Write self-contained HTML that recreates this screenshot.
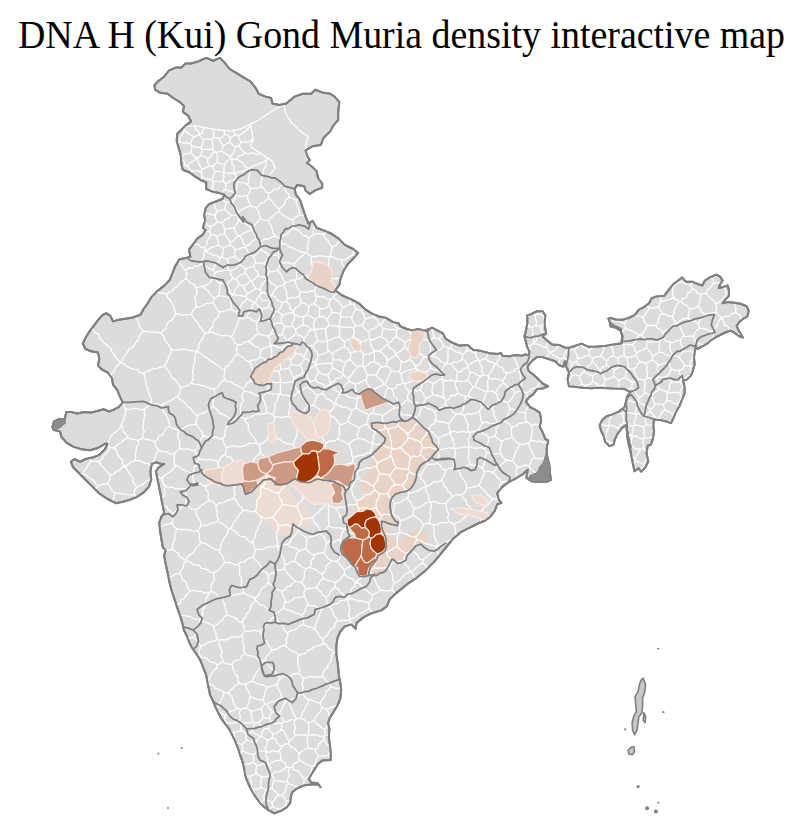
<!DOCTYPE html>
<html lang="en"><head><meta charset="utf-8"><title>DNA H (Kui) Gond Muria density interactive map</title>
<style>
html,body{margin:0;padding:0;background:#fff;}
body{width:797px;height:827px;overflow:hidden;position:relative;font-family:"Liberation Serif","Times New Roman",serif;}
h1{position:absolute;left:3px;top:12.4px;width:797px;margin:0;text-align:center;font-weight:normal;font-size:37.9px;line-height:43px;color:#000;white-space:nowrap;transform:scaleY(1.058);transform-origin:0 0;}
svg{position:absolute;left:0;top:0;}
</style></head><body>
<h1>DNA H (Kui) Gond Muria density interactive map</h1>
<svg width="797" height="827" viewBox="0 0 797 827">
<path d="M154.4 85.5 L157.9 81.4 L163.5 77.3 L169.0 70.4 L175.9 67.6 L181.4 67.6 L185.5 63.5 L191.1 63.5 L198.0 61.5 L206.2 57.9 L213.1 60.7 L220.0 57.9 L224.2 62.1 L229.7 69.0 L236.6 73.1 L243.5 77.3 L250.4 81.4 L255.9 88.3 L258.7 93.8 L265.6 96.6 L271.1 98.0 L272.5 103.5 L279.4 104.9 L286.3 103.5 L294.6 96.6 L302.8 93.8 L311.1 93.8 L315.3 89.7 L322.2 92.4 L330.4 93.8 L334.6 96.6 L339.3 102.1 L338.2 111.8 L338.2 120.0 L333.2 125.6 L330.4 131.1 L323.5 138.0 L320.8 144.9 L312.5 146.3 L305.6 150.4 L307.0 155.9 L309.7 160.1 L307.0 162.8 L312.5 167.0 L316.6 171.1 L318.0 178.0 L322.2 183.5 L322.2 187.7 L315.3 190.4 L309.7 194.0 L305.6 190.4 L304.2 186.3 L297.3 184.9 L294.6 189.0 L295.9 194.6 L300.1 200.1 L302.8 208.4 L305.6 216.6 L308.4 223.5 L312.5 220.8 L316.6 227.7 L323.5 230.4 L330.4 233.2 L338.7 238.7 L344.9 244.9 L353.1 249.0 L358.1 253.1 L353.1 258.7 L347.6 264.2 L343.5 271.1 L340.7 278.0 L339.3 284.9 L335.2 290.4 L340.7 294.5 L346.2 297.3 L353.1 300.1 L360.0 304.2 L365.6 309.7 L372.5 313.9 L379.4 316.6 L386.3 318.0 L393.2 322.1 L398.7 323.5 L400.1 326.3 L407.0 329.0 L412.5 330.4 L418.0 329.0 L423.5 330.4 L427.7 330.4 L431.8 327.7 L437.3 330.4 L442.8 333.2 L445.6 338.7 L452.5 342.8 L459.4 345.6 L467.7 345.1 L473.2 349.7 L481.5 351.1 L489.8 353.3 L498.1 353.9 L500.9 352.9 L502.3 355.7 L509.2 356.3 L516.2 355.1 L521.7 355.7 L525.9 354.3 L528.7 355.7 L529.5 351.5 L527.3 347.4 L525.9 341.8 L524.5 336.2 L525.9 330.7 L527.3 323.7 L527.3 315.4 L531.5 314.0 L537.0 311.2 L542.6 311.2 L545.4 315.4 L544.5 322.3 L545.4 329.3 L546.2 333.4 L542.6 336.2 L546.8 340.4 L552.3 344.6 L559.3 345.1 L564.8 347.4 L569.0 347.9 L574.6 346.0 L581.5 343.7 L588.5 346.8 L596.8 346.5 L605.2 346.0 L613.5 344.6 L621.9 343.2 L622.4 336.2 L620.5 330.7 L616.3 327.9 L610.7 326.5 L609.3 319.5 L608.4 318.5 L611.0 318.0 L616.0 319.8 L622.4 319.8 L628.7 318.0 L635.1 314.7 L638.9 309.6 L644.0 307.1 L649.0 303.3 L651.6 298.2 L656.6 296.4 L664.3 295.7 L668.1 290.6 L673.1 284.3 L678.2 280.5 L682.0 277.4 L685.8 281.7 L692.2 281.7 L698.5 284.3 L702.3 285.5 L704.9 280.5 L709.9 277.4 L716.3 274.6 L720.1 276.6 L722.6 280.5 L720.1 284.3 L718.8 288.1 L723.9 286.8 L727.7 285.5 L729.0 290.6 L729.0 295.7 L725.2 299.5 L722.6 303.3 L727.7 302.0 L734.1 302.8 L740.4 303.8 L746.7 306.3 L748.8 310.9 L747.3 316.5 L742.9 319.0 L739.1 322.3 L736.6 326.1 L739.1 331.2 L742.9 337.6 L739.1 336.3 L734.1 332.5 L730.2 330.7 L725.2 332.5 L720.1 335.0 L715.0 337.6 L711.2 340.1 L707.4 343.4 L702.3 346.4 L697.3 349.0 L695.5 346.4 L694.7 351.5 L694.0 357.9 L694.7 364.2 L692.9 370.6 L690.9 375.6 L687.1 379.4 L683.3 380.7 L684.6 387.1 L684.6 393.4 L682.0 399.7 L679.5 406.1 L675.7 412.4 L673.1 418.8 L671.1 423.1 L665.5 421.3 L660.5 420.1 L654.1 419.5 L653.3 425.1 L654.1 431.5 L652.8 439.1 L650.8 444.9 L647.8 445.4 L646.5 453.0 L647.8 459.9 L648.3 461.4 L645.5 467.0 L641.3 471.7 L638.6 468.4 L634.4 471.1 L633.0 464.2 L631.6 457.2 L630.2 450.3 L628.8 444.7 L627.4 437.8 L626.9 430.8 L626.0 425.2 L621.9 428.0 L617.7 433.6 L614.9 439.2 L613.5 444.7 L609.3 446.1 L605.2 441.9 L603.8 436.4 L601.0 430.8 L599.6 425.2 L602.4 419.7 L606.6 416.3 L613.5 414.1 L619.1 411.3 L624.6 407.2 L626.0 401.6 L627.4 396.0 L630.2 391.9 L624.6 389.1 L616.3 388.5 L608.0 388.2 L599.6 387.7 L591.3 388.2 L582.9 387.7 L576.0 386.9 L569.0 386.3 L567.6 379.3 L569.0 372.4 L566.2 366.8 L564.8 361.3 L563.4 366.8 L559.3 365.4 L555.1 361.3 L550.9 359.9 L546.8 358.5 L542.6 357.1 L537.0 357.1 L531.5 361.3 L527.3 366.8 L528.7 371.0 L534.2 375.2 L538.4 379.3 L542.6 383.5 L548.2 386.3 L542.6 388.5 L537.0 389.1 L532.9 394.6 L528.7 397.4 L525.9 401.6 L530.1 407.2 L535.6 409.9 L539.8 412.7 L541.2 419.7 L539.8 426.6 L542.6 432.2 L545.4 439.2 L548.2 440.5 L546.8 447.5 L546.8 454.5 L548.2 461.4 L549.5 469.7 L550.9 480.0 L545.6 482.1 L538.7 482.1 L531.8 481.3 L526.3 478.0 L527.7 469.7 L523.5 473.8 L516.6 478.0 L508.4 482.1 L501.5 487.6 L497.3 493.1 L498.7 500.0 L501.5 502.8 L497.3 504.2 L494.6 511.1 L490.4 516.6 L484.9 520.7 L478.0 523.5 L469.7 527.6 L461.4 531.8 L453.2 538.7 L446.3 547.0 L440.7 553.9 L433.8 562.1 L425.6 570.4 L417.3 577.3 L409.0 582.8 L402.1 588.4 L395.2 593.9 L389.7 599.4 L386.9 606.3 L381.4 610.4 L371.7 613.2 L363.5 617.4 L356.6 622.9 L355.6 628.8 L351.4 624.4 L344.5 626.6 L340.4 631.5 L337.6 637.6 L336.3 645.9 L336.3 654.2 L337.6 662.4 L338.5 670.7 L339.0 677.6 L340.4 683.1 L341.2 690.0 L340.4 698.3 L337.6 705.2 L333.5 712.1 L329.9 717.6 L328.0 723.2 L329.4 728.7 L328.8 737.0 L329.9 745.2 L330.7 752.1 L330.7 759.9 L322.5 760.4 L317.8 764.0 L315.0 768.7 L311.4 774.2 L308.7 778.9 L311.4 782.5 L317.8 783.3 L320.5 787.2 L318.3 784.4 L311.4 784.4 L304.5 785.3 L297.6 788.0 L292.1 792.2 L290.7 797.7 L290.2 803.2 L286.6 807.4 L281.1 810.9 L274.2 813.4 L268.6 810.1 L263.9 806.7 L259.7 802.5 L255.6 797.0 L251.4 790.1 L248.1 783.2 L245.9 777.7 L244.5 770.8 L243.2 763.9 L240.4 755.6 L237.6 747.3 L234.9 740.4 L232.1 734.9 L229.4 729.4 L225.2 723.9 L221.1 718.3 L218.3 712.8 L215.6 707.3 L212.8 700.4 L210.0 694.9 L208.7 688.0 L207.3 681.1 L205.9 674.2 L203.1 667.3 L200.4 660.4 L196.2 653.5 L192.1 648.0 L189.3 642.4 L186.6 635.5 L183.8 630.0 L182.4 623.1 L179.7 614.8 L176.9 606.6 L174.2 598.3 L171.4 590.0 L169.7 583.2 L167.5 572.2 L165.6 563.9 L164.2 555.6 L165.6 550.1 L162.8 547.3 L161.4 539.0 L160.1 530.8 L159.2 522.5 L161.4 517.0 L164.2 512.8 L162.8 505.9 L161.4 499.0 L160.1 492.1 L158.7 485.2 L157.3 478.3 L155.9 471.4 L158.7 467.3 L164.2 464.0 L161.4 464.0 L155.9 462.3 L151.8 464.0 L150.4 471.4 L151.2 479.7 L149.0 486.6 L143.5 492.7 L136.6 497.1 L129.7 499.9 L122.8 501.8 L115.9 503.2 L107.6 499.0 L99.3 493.5 L92.4 486.6 L85.5 479.7 L78.6 472.8 L73.1 467.3 L70.9 461.8 L74.5 459.0 L80.0 461.8 L85.5 459.0 L92.4 457.6 L99.3 454.9 L104.9 449.3 L107.6 443.8 L104.9 443.8 L98.0 448.0 L89.7 450.2 L81.4 449.3 L73.1 446.6 L66.2 442.4 L61.5 436.9 L59.9 431.4 L53.8 430.0 L52.4 427.3 L53.8 421.7 L59.3 419.0 L64.8 419.0 L66.2 412.1 L71.7 412.1 L77.3 413.5 L84.2 412.1 L91.1 412.6 L98.0 410.7 L103.5 409.3 L109.0 411.5 L113.1 409.9 L118.7 407.1 L122.8 402.4 L120.0 396.9 L117.3 390.0 L113.1 384.9 L111.8 378.0 L107.6 372.5 L102.1 369.7 L98.0 365.6 L99.3 358.7 L98.0 352.4 L91.1 351.3 L85.5 349.0 L82.8 343.5 L85.5 338.0 L89.7 331.1 L93.8 325.6 L98.0 320.1 L102.1 315.4 L106.2 313.2 L110.4 315.9 L113.1 321.4 L117.3 320.1 L125.6 318.7 L133.8 317.3 L140.7 314.5 L143.5 309.0 L147.6 303.5 L151.8 296.6 L157.3 291.1 L164.2 285.6 L169.7 280.0 L172.5 273.1 L175.2 266.2 L179.4 259.3 L186.3 258.0 L190.4 256.6 L189.0 249.7 L193.2 244.2 L197.3 238.6 L202.8 234.5 L205.6 230.4 L202.8 227.6 L205.1 220.7 L204.2 215.2 L205.6 208.3 L209.0 204.2 L215.9 201.5 L222.8 198.7 L224.2 194.6 L220.0 193.2 L213.1 191.8 L206.2 189.0 L206.2 182.1 L202.1 180.8 L195.2 176.6 L189.7 172.5 L182.8 169.7 L181.4 164.2 L180.9 155.9 L178.6 147.6 L176.7 140.7 L177.3 133.8 L181.4 129.7 L185.5 125.6 L191.1 121.4 L188.3 115.9 L182.8 111.8 L184.2 106.2 L180.0 102.1 L173.1 98.0 L167.6 93.8 L159.3 92.4 L155.2 89.7Z" fill="#dcdcdc" stroke="#808080" stroke-width="2" stroke-linejoin="round"/>
<path d="M372.9 422.6 L376.7 424.8 L381.2 424.1 L387.2 424.1 L393.2 424.8 L397.8 422.6 L401.5 422.6 L405.3 422.6 L409.8 421.1 L413.6 418.1 L417.3 420.3 L420.3 424.1 L424.1 427.9 L427.9 430.9 L429.4 436.1 L431.6 441.4 L435.4 444.4 L437.6 446.7 L435.4 451.2 L432.4 455.0 L429.4 458.0 L427.9 461.0 L424.1 463.2 L420.3 466.2 L418.8 470.8 L416.6 475.3 L415.8 479.8 L413.6 484.3 L412.1 488.1 L409.0 491.1 L404.5 492.6 L399.3 493.3 L396.2 494.9 L393.2 497.9 L390.2 500.1 L390.2 505.4 L391.0 511.4 L390.3 502.0 L390.3 508.1 L391.1 513.4 L392.9 517.8 L395.5 521.3 L398.2 522.2 L397.3 525.7 L393.8 524.8 L389.4 523.9 L385.9 522.2 L381.5 521.3 L380.6 525.7 L372.7 525.7 L363.9 522.2 L355.1 522.2 L351.6 516.0 L349.0 517.8 L352.5 515.1 L355.1 509.9 L353.4 504.6 L356.0 499.3 L354.8 506.1 L356.3 502.4 L360.1 499.4 L363.9 496.4 L362.4 490.3 L361.6 484.3 L362.4 478.3 L366.1 473.8 L369.1 469.3 L370.7 464.7 L371.4 460.2 L372.9 456.5 L375.2 452.7 L376.7 448.9 L379.7 445.2 L383.4 442.9 L385.0 438.4 L381.9 434.6 L376.7 432.4 L372.2 431.6 L372.2 427.9Z" fill="#e9d3c7"/>
<path d="M381.5 523.9 L385.9 526.5 L390.3 530.9 L392.9 536.2 L395.5 540.6 L401.7 541.5 L402.6 538.0 L407.8 533.6 L413.1 532.7 L417.5 529.2 L421.9 530.9 L426.3 532.7 L428.9 538.0 L428.0 544.1 L424.5 546.7 L420.1 544.1 L415.7 545.9 L412.2 548.5 L409.6 552.0 L406.1 555.5 L402.6 559.9 L398.2 561.7 L393.8 559.9 L391.1 557.3 L388.5 560.8 L386.7 566.1 L385.0 570.5 L379.7 573.1 L373.6 574.9 L369.2 575.7 L365.7 567.8 L369.2 557.3 L376.2 550.3 L379.7 539.7 L378.8 530.9Z" fill="#e9d3c7"/>
<path d="M257.9 485.9 L256.9 480.1 L263.3 477.4 L269.7 475.9 L275.6 478.0 L272.9 482.3 L273.9 485.9 L279.3 486.5 L285.7 485.0 L288.9 488.7 L292.1 494.0 L295.3 500.4 L301.7 504.7 L307.0 510.0 L311.9 515.3 L313.4 523.0 L309.1 526.4 L303.4 525.3 L297.8 526.4 L294.4 533.2 L286.5 535.6 L278.6 534.3 L272.9 528.8 L269.4 523.0 L262.8 520.9 L256.0 518.5 L254.7 513.2 L256.9 505.7 L255.8 498.3 L255.4 491.9Z" fill="#ecdcd4"/>
<path d="M195.3 125.6 L195.2 129.1 L198.6 131.2 L199.1 134.7 M183.7 127.4 L184.4 130.5 M199.1 134.7 L194.0 136.8 M184.4 130.5 L187.6 132.6 L190.7 134.9 L194.0 136.8 M223.8 130.4 L223.7 130.7 L224.8 134.1 M224.8 134.1 L227.9 135.5 L230.3 137.8 M233.9 130.4 L233.6 131.7 L235.7 134.6 M230.3 137.8 L235.7 134.6 M268.3 809.9 L269.1 808.9 L272.8 806.5 M272.8 806.5 L276.1 808.3 L279.6 809.4 M287.4 806.5 L285.9 805.4 M279.6 809.4 L282.8 807.6 L285.9 805.4 M262.8 805.6 L262.7 805.1 L261.4 801.7 M258.9 801.4 L261.4 801.7 M285.9 805.4 L286.4 801.0 M290.5 800.0 L289.9 800.2 L286.4 801.0 M741.6 320.1 L740.8 317.8 L739.7 314.7 M190.9 152.8 L186.1 153.6 L181.9 155.8 M190.9 152.8 L191.5 149.4 L192.0 146.0 M192.0 146.0 L190.7 144.2 M190.7 144.2 L187.4 142.7 L184.1 143.0 L180.8 142.2 L177.4 143.0 M181.9 155.8 L180.6 155.0 M177.4 143.1 L177.4 143.0 M196.3 158.2 L193.6 155.5 L190.9 152.8 M196.3 158.2 L193.8 161.2 L190.0 162.7 L187.5 165.6 M187.5 165.6 L184.9 165.1 M184.9 165.1 L184.3 161.9 L182.0 159.2 L181.9 155.8 M184.4 130.5 L182.8 133.7 L180.6 136.6 L179.9 140.3 L177.4 143.0 M194.0 136.8 L191.7 140.2 L190.7 144.2 M182.0 166.5 L184.9 165.1 M192.1 170.9 L190.5 173.1 M192.1 170.9 L196.6 170.8 L201.1 171.5 M201.1 171.5 L202.6 177.0 M202.6 177.0 L200.5 179.7 L200.5 179.8 M187.5 165.6 L189.0 169.0 L192.1 170.9 M272.8 806.5 L271.7 802.4 M281.6 795.2 L284.5 797.7 L286.4 801.0 M281.6 795.2 L278.7 794.8 M271.7 802.4 L274.6 800.3 L275.9 796.9 L278.7 794.8 M261.4 801.7 L264.3 799.8 M271.7 802.4 L268.2 800.5 L264.3 799.8 M241.3 141.7 L238.8 146.0 M241.3 141.7 L244.6 141.9 L248.0 142.2 L251.2 140.1 L252.9 140.2 M244.8 152.7 L241.3 149.7 L238.8 146.0 M244.8 152.7 L247.9 154.0 L251.2 152.6 L254.4 153.6 L257.5 154.5 L260.5 153.4 M166.6 294.6 L163.8 292.9 L160.2 293.5 L157.4 291.7 L156.9 291.5 M166.6 294.6 L169.1 292.0 L172.5 290.5 L174.9 287.8 L177.8 285.8 L180.0 282.9 L182.7 280.6 L185.8 278.7 M178.2 261.2 L179.5 262.7 L181.9 265.0 L183.0 268.3 L185.8 270.4 M185.8 278.7 L186.8 274.5 L185.8 270.4 M212.3 128.9 L213.9 130.9 L213.6 134.3 L213.6 137.6 M205.7 127.7 L203.9 128.7 L202.5 132.5 L199.3 134.8 M199.3 134.8 L203.5 139.4 M203.5 139.4 L207.7 138.9 L211.8 139.3 M213.6 137.6 L211.8 139.3 M224.8 134.1 L222.4 137.1 L218.7 138.4 M218.7 138.4 L213.6 137.6 M199.1 134.7 L199.3 134.8 M192.0 146.0 L196.5 147.0 L201.0 147.6 M201.0 147.6 L202.6 143.6 L203.5 139.4 M201.1 171.5 L202.3 169.5 M196.3 158.2 L197.5 158.2 M197.5 158.2 L198.4 162.2 L199.9 166.1 L202.3 169.5 M236.3 159.1 L232.0 159.1 M236.3 159.1 L239.6 161.0 L243.0 162.7 L244.9 166.5 L248.5 167.9 M232.0 159.1 L231.8 163.1 L234.0 166.5 L233.6 170.5 L235.6 174.0 M248.5 167.9 L245.6 170.2 L242.4 171.7 L238.5 171.8 L235.6 174.0 M235.5 174.1 L235.6 174.0 M235.5 174.1 L231.8 172.9 L227.7 173.5 L224.0 172.3 M231.0 158.5 L232.0 159.1 M231.0 158.5 L227.2 160.5 L224.9 164.1 M224.9 164.1 L223.8 168.1 L224.0 172.3 M230.5 157.3 L232.2 154.0 L234.6 150.9 L235.0 147.0 M230.5 157.3 L227.8 154.9 L224.7 153.1 L221.7 151.1 M223.4 145.7 L221.7 151.1 M223.4 145.7 L226.5 143.7 L229.9 142.3 M229.9 142.3 L232.6 144.4 L235.0 147.0 M231.0 158.5 L230.5 157.3 M244.8 152.7 L242.4 155.4 L238.5 156.2 L236.3 159.1 M238.8 146.0 L235.0 147.0 M218.7 138.4 L220.7 142.3 L223.4 145.7 M230.3 137.8 L229.9 142.3 M238.3 135.4 L235.7 134.6 M238.3 135.4 L238.9 138.9 L241.3 141.7 M319.5 785.9 L319.5 785.8 M281.6 795.2 L284.3 793.0 L285.9 790.1 L285.9 786.3 L288.5 784.0 M299.0 787.5 L297.7 786.8 L294.6 786.0 L291.6 784.7 L288.5 784.0 M740.2 333.0 L736.8 334.6 M679.2 282.1 L683.2 282.2 L686.7 284.4 L690.7 284.8 M679.2 282.1 L678.3 280.4 M690.7 284.8 L692.4 282.0 L692.5 281.8 M238.3 135.4 L241.5 134.3 L243.9 132.0 L246.6 130.3 L248.8 127.8 L250.6 125.2 M203.9 248.0 L200.7 247.2 L198.5 244.4 L194.9 244.3 L193.7 243.5 M205.0 249.8 L203.9 248.0 M205.1 250.1 L205.0 249.8 M201.3 263.9 L198.5 265.9 L194.8 265.8 L192.3 268.4 L188.4 268.0 L185.8 270.4 M205.1 250.1 L204.0 253.5 L203.7 257.2 L201.9 260.3 L201.3 263.9 M354.2 249.9 L353.4 251.4 L353.4 254.8 M355.5 256.1 L353.4 254.8 M166.6 294.6 L167.9 298.0 L170.7 300.5 L172.3 303.7 L173.8 306.9 L174.8 310.4 L175.9 313.8 M143.3 331.1 L141.1 328.6 L139.2 326.0 L138.2 322.9 L137.7 319.5 L134.9 317.4 L135.0 316.8 M143.3 331.1 L146.8 331.7 L150.3 332.2 L153.9 332.1 L157.4 332.1 L160.9 333.4 M160.9 333.4 L163.2 330.8 L166.1 328.5 L166.9 324.7 L168.7 321.6 L172.4 319.9 L173.9 316.6 L175.9 313.8 M195.6 287.0 L193.8 284.1 L190.4 283.2 L188.3 280.8 L185.8 278.7 M195.7 307.5 L192.8 310.6 L191.5 314.6 M195.7 307.5 L196.1 304.1 L195.5 300.7 L194.5 297.3 L196.8 293.8 L196.8 290.4 L195.6 287.0 M175.9 313.8 L179.8 314.3 L183.6 315.3 L187.6 314.7 L191.5 314.6 M143.3 331.1 L141.2 333.6 L139.3 336.2 L138.4 339.6 L136.3 342.0 L134.7 344.9 L132.5 347.3 L129.2 348.9 L127.6 351.7 L125.7 354.4 L123.9 357.0 L122.3 359.9 L120.6 362.6 M91.8 328.2 L93.3 330.2 L95.4 332.8 L98.8 334.2 L99.4 337.8 L101.6 340.2 L103.7 342.7 L106.4 344.7 L108.9 346.8 L111.1 349.2 L112.3 352.4 L114.6 354.7 L115.7 358.0 L118.2 360.1 L120.1 362.7 M120.1 362.7 L120.6 362.6 M120.1 362.7 L117.9 365.2 L115.3 367.4 L114.2 370.9 L112.1 373.5 L109.9 375.5 M673.3 418.3 L672.8 414.8 M677.4 409.6 L675.5 411.2 L672.8 414.8 M672.3 420.6 L670.0 422.2 L669.4 422.5 M672.8 414.8 L669.1 411.8 L664.8 409.7 M664.8 409.7 L662.1 412.0 L660.5 415.1 L659.1 418.3 M659.1 418.3 L660.5 420.1 M211.8 139.3 L212.3 142.7 L213.1 146.1 L212.6 149.6 M201.0 147.6 L202.0 149.4 M212.6 149.6 L209.1 149.1 L205.5 149.3 L202.0 149.4 M197.5 158.2 L200.7 155.7 M202.0 149.4 L201.5 152.6 L200.7 155.7 M235.8 179.5 L237.6 181.5 M237.6 181.5 L240.9 182.6 L244.4 182.9 L247.7 184.3 M248.5 167.9 L250.8 168.0 M235.5 174.1 L235.8 179.5 M247.7 184.3 L248.8 181.1 L248.6 177.7 L249.5 174.5 L249.7 171.1 L250.8 168.0 M267.7 158.2 L266.6 159.5 M266.6 159.5 L263.8 161.9 L260.4 163.1 L257.1 164.6 L253.4 165.3 L250.8 168.0 M222.7 180.8 L219.7 182.0 L216.3 181.0 L213.2 182.0 M222.7 180.8 L224.0 176.8 L223.5 172.7 M223.5 172.7 L219.4 171.5 L215.2 171.6 M215.2 171.6 L213.5 175.6 L211.8 179.6 M213.2 182.0 L211.8 179.6 M225.9 184.2 L228.7 181.7 L232.1 180.2 L235.8 179.5 M225.9 184.2 L222.7 180.8 M224.0 172.3 L223.5 172.7 M212.2 188.8 L208.8 189.6 L208.1 189.8 M202.6 177.0 L207.0 179.0 L211.8 179.6 M212.2 188.8 L213.1 185.5 L213.2 182.0 M225.9 184.2 L225.5 189.3 M237.6 181.5 L237.4 185.7 L236.2 189.6 L234.8 193.5 M225.5 189.3 L228.5 191.0 L232.0 191.4 L234.8 193.5 M212.2 188.8 L215.4 191.9 L215.9 192.4 M225.5 189.3 L221.9 192.0 L220.5 193.4 M74.2 446.9 L74.3 446.8 M79.9 474.1 L82.5 473.5 M89.3 458.2 L89.5 458.7 L91.0 461.6 M82.5 473.5 L84.6 470.5 L86.8 467.6 L88.4 464.3 L91.0 461.6 M109.8 447.3 L107.7 444.5 L107.5 444.3 M109.8 447.3 L108.3 450.6 L106.3 453.6 L103.5 455.8 L101.9 459.1 L99.0 461.4 M91.0 461.6 L95.0 461.3 L99.0 461.4 M658.7 296.2 L660.5 298.1 L660.6 301.5 M671.2 286.7 L672.5 287.2 M660.6 301.5 L663.9 300.6 L667.3 299.8 L670.6 298.8 L674.0 297.9 M672.5 287.2 L672.7 290.8 L672.4 294.5 L674.0 297.9 M739.7 314.7 L735.4 312.8 M735.4 312.8 L735.9 308.6 L734.5 304.6 L734.5 302.9 M655.4 325.2 L658.1 322.9 L658.4 319.1 L659.6 315.8 L662.3 313.5 M658.5 306.9 L660.4 310.2 L662.3 313.5 M658.5 306.9 L654.0 308.0 L649.4 307.7 M647.1 325.4 L644.5 322.0 L643.2 318.0 M647.1 325.4 L651.2 325.5 L655.4 325.2 M649.4 307.7 L647.5 311.2 L645.1 314.5 L643.2 318.0 M655.4 325.2 L657.5 328.4 L661.4 329.9 L663.2 333.5 M663.2 333.5 L665.3 330.6 L668.8 329.5 L670.8 326.5 L673.6 324.6 L676.7 322.9 M662.3 313.5 L665.7 314.3 L668.8 316.3 L672.4 316.2 M672.4 316.2 L673.7 320.1 L676.7 322.9 M674.0 297.9 L676.8 299.6 L679.3 301.8 M658.5 306.9 L660.6 301.5 M672.4 316.2 L674.0 313.5 L674.2 310.0 L675.9 307.3 L677.2 304.3 L679.3 301.8 M692.4 289.2 L690.7 284.8 M692.4 289.2 L690.5 292.1 L687.1 293.6 L686.4 297.5 L682.7 298.8 L680.9 301.7 M679.2 282.1 L675.8 284.6 L672.5 287.2 M680.9 301.7 L679.3 301.8 M201.3 263.9 L204.3 265.3 L207.0 267.3 L209.9 268.9 L213.1 270.0 M205.1 250.1 L207.6 252.5 L210.8 253.5 L213.5 255.6 L217.1 255.7 L219.8 257.7 M219.8 257.7 L219.1 261.3 L216.5 263.8 L214.2 266.6 L213.1 270.0 M203.4 286.2 L206.7 284.8 L209.6 282.8 L211.8 280.0 L214.3 277.6 M214.3 277.6 L214.7 272.8 M195.6 287.0 L199.6 287.1 L203.4 286.2 M213.1 270.0 L214.7 272.8 M353.4 254.8 L349.5 256.5 L346.1 259.2 L342.0 260.3 M342.0 260.3 L342.2 263.8 L344.2 266.7 L344.7 269.0 M355.7 301.6 L355.5 302.0 L353.7 304.8 M348.7 298.3 L349.9 300.6 L350.7 303.8 M353.7 304.8 L350.7 303.8 M203.9 248.0 L206.5 245.1 L207.0 241.0 L209.1 237.8 L211.1 234.5 M204.8 231.6 L206.2 231.7 L209.7 231.4 M211.1 234.5 L209.7 231.4 M274.9 236.1 L273.4 233.1 L272.2 230.1 L271.5 226.7 L269.8 223.8 L268.5 220.7 M274.9 236.1 L280.5 238.8 M268.5 220.7 L270.7 217.8 L273.4 215.6 L276.0 213.1 L279.5 211.7 M293.0 219.9 L289.0 218.9 L285.7 216.7 L282.3 214.6 L279.5 211.7 M293.0 219.9 L293.2 224.0 L292.4 227.9 M280.5 238.8 L282.5 236.3 L285.7 235.0 L288.0 232.7 L290.5 230.6 L292.4 227.9 M160.9 333.4 L163.4 335.6 L164.3 338.9 L165.9 341.7 L168.4 343.9 L169.6 347.0 L171.7 349.4 M171.7 349.4 L175.2 350.4 L178.7 349.8 L182.3 349.4 L185.8 349.3 L189.2 350.4 L192.7 350.9 L196.2 350.8 M191.5 314.6 L193.4 317.3 L195.0 320.3 L197.7 322.6 L199.0 325.8 L201.2 328.3 L203.3 331.0 L206.1 333.1 M196.2 350.8 L198.8 348.3 L199.0 344.6 L200.2 341.4 L202.5 338.8 L203.6 335.5 L206.1 333.1 M196.2 350.8 L196.5 351.4 M196.5 351.4 L195.4 354.8 L194.5 358.2 L195.2 361.9 L193.3 365.2 L193.6 368.8 L192.5 372.2 L193.3 375.9 L193.0 379.4 L191.4 382.8 M171.7 349.4 L171.0 353.0 L169.1 356.1 L168.0 359.6 L166.5 362.8 L164.2 365.7 M191.4 382.8 L188.2 385.3 L184.4 386.5 L180.8 388.3 M164.2 365.7 L166.5 368.4 L168.7 371.1 L170.4 374.2 L172.0 377.4 L175.0 379.5 L177.2 382.3 L179.2 385.2 L180.8 388.3 M120.6 362.6 L124.0 363.7 L126.7 366.4 L130.0 367.8 L133.4 369.1 L137.2 369.6 L139.8 372.5 L143.4 373.3 M164.2 365.7 L160.8 367.1 L157.3 368.4 L153.5 368.7 L150.2 370.5 L146.6 371.4 L143.4 373.3 M197.9 415.6 L200.8 413.5 L204.5 412.8 L207.3 410.5 L210.2 408.5 L213.3 406.8 M214.2 389.0 L214.6 392.6 L214.6 396.2 L213.7 399.7 L212.8 403.2 L213.3 406.8 M191.4 382.8 L194.5 384.4 L197.9 384.7 L201.2 385.3 L204.5 386.0 L207.6 387.5 L210.9 388.6 L214.2 389.0 M197.9 415.6 L194.7 413.8 L192.4 411.1 L190.5 408.1 L187.4 406.2 L185.5 403.0 L182.5 401.1 L179.6 399.0 L177.4 396.1 M180.8 388.3 L179.9 392.6 L177.4 396.1 M143.4 373.3 L144.9 376.3 L144.9 379.6 L146.1 382.6 L146.2 385.9 L147.9 388.8 L148.5 392.0 L149.3 395.1 L151.2 397.9 L151.2 401.3 L152.3 404.3 M177.4 396.1 L174.3 398.1 L171.3 400.4 L168.0 402.2 L164.4 403.5 L161.4 405.7 M161.4 405.7 L157.0 404.1 L152.3 404.3 M667.5 393.3 L666.6 396.9 L667.0 400.5 M667.5 393.3 L671.6 392.5 L675.7 392.2 L679.8 393.1 M667.0 400.5 L670.6 401.1 L673.7 403.4 L677.3 404.0 M677.3 404.0 L679.7 400.7 L681.4 397.0 M681.4 397.0 L679.8 393.1 M678.7 407.5 L677.3 404.0 M663.4 404.7 L667.0 400.5 M664.8 409.7 L663.4 404.7 M682.9 397.6 L681.4 397.0 M655.5 403.8 L659.5 403.9 L663.4 404.7 M659.1 418.3 L657.4 418.5 M655.5 403.8 L653.7 407.2 L650.3 409.0 M650.3 409.0 L650.1 411.3 M657.4 418.5 L654.5 416.6 L652.5 413.8 L650.1 411.3 M207.8 158.7 L210.8 157.1 L211.9 153.6 L214.7 151.9 M207.8 158.7 L207.6 162.6 L209.5 166.0 M217.2 162.5 L214.7 164.5 L212.3 166.7 M217.2 162.5 L217.3 159.1 L217.2 155.8 L216.6 152.4 M216.6 152.4 L214.7 151.9 M209.5 166.0 L212.3 166.7 M200.7 155.7 L204.5 156.4 L207.8 158.7 M212.6 149.6 L214.7 151.9 M202.3 169.5 L205.8 167.6 L209.5 166.0 M224.9 164.1 L220.9 163.8 L217.2 162.5 M215.2 171.6 L212.3 166.7 M221.7 151.1 L216.6 152.4 M579.9 344.6 L582.9 346.6 L586.2 348.2 L589.0 350.7 M579.9 344.6 L579.9 344.2 M589.0 350.7 L591.7 348.1 L592.5 346.7 M589.0 350.7 L589.4 354.9 M574.2 349.8 L577.0 347.1 L579.9 344.6 M574.2 349.8 L576.5 354.0 L577.8 358.5 M589.4 354.9 L585.5 356.0 L581.9 358.0 L577.8 358.5 M600.2 356.1 L596.3 357.1 L592.3 358.2 M603.9 347.6 L602.9 352.2 L600.2 356.1 M603.9 347.6 L600.8 346.3 L600.7 346.3 M589.4 354.9 L592.3 358.2 M598.7 386.0 L596.0 383.2 L592.5 381.7 M598.7 386.0 L598.3 387.8 M592.5 381.7 L589.5 384.3 L585.7 385.3 M586.7 387.9 L585.7 385.3 M542.5 311.2 L541.1 313.9 M533.3 313.1 L533.5 313.6 M541.1 313.9 L535.2 314.5 M533.5 313.6 L535.2 314.5 M655.5 403.8 L653.2 401.3 L652.6 398.0 L651.6 394.9 M667.0 392.3 L667.5 393.3 M667.0 392.3 L663.2 390.3 L659.2 388.9 M659.2 388.9 L656.8 390.9 L654.3 393.1 L651.6 394.9 M694.3 365.5 L693.8 365.6 L690.5 366.4 M690.5 366.4 L690.7 370.9 L691.3 374.5 M679.8 393.1 L681.2 389.9 L682.6 386.6 M684.6 387.2 L682.6 386.6 M670.7 342.3 L674.1 342.6 L676.9 340.3 L680.2 340.2 M670.7 342.3 L669.8 346.0 L670.1 349.6 L671.8 353.2 L671.5 356.9 M677.9 356.6 L674.7 355.8 L671.5 356.9 M677.9 356.6 L680.8 354.4 L682.8 351.4 M680.2 340.2 L681.0 343.9 L682.5 347.5 L682.8 351.4 M714.8 337.7 L713.8 336.7 M729.9 330.8 L729.6 330.4 L728.3 326.9 L724.7 324.9 L723.7 321.3 L721.7 318.3 M713.8 336.7 L712.0 331.3 M712.0 331.3 L714.3 328.9 L716.5 326.6 L717.8 323.5 L719.1 320.3 L721.7 318.3 M735.4 312.8 L731.8 313.6 L729.0 316.5 L725.0 316.3 L721.8 318.1 M721.7 318.3 L721.8 318.1 M727.3 297.4 L725.6 296.6 M725.6 296.6 L726.2 293.2 L724.9 290.1 L724.3 287.0 L724.2 286.7 M709.7 277.5 L713.0 279.3 L713.8 283.0 M721.1 282.8 L720.5 282.6 L717.1 282.8 L713.8 283.0 M624.6 323.2 L621.3 322.2 L617.9 321.1 L614.3 321.2 L611.0 319.9 M624.6 323.2 L626.5 320.4 L627.5 318.4 M611.0 319.9 L610.1 318.2 M643.2 318.0 L640.1 316.2 L636.5 315.7 L634.4 315.0 M649.4 307.7 L646.3 306.1 L645.9 305.7 M677.3 323.1 L680.5 320.5 L684.1 318.7 L688.2 318.1 M677.3 323.1 L679.7 325.9 L681.1 329.2 L682.7 332.4 L683.8 335.8 M688.2 318.1 L691.5 320.4 L695.4 321.8 L698.6 324.2 M683.8 335.8 L687.0 336.6 L690.3 335.8 L693.4 336.6 M693.4 336.6 L694.6 333.1 L697.0 330.6 L699.5 328.1 M698.6 324.2 L699.5 328.1 M689.6 309.1 L688.7 313.6 L688.2 318.1 M689.6 309.1 L687.5 305.8 L683.9 304.1 L680.9 301.7 M676.7 322.9 L677.3 323.1 M663.2 338.3 L663.2 333.5 M663.2 338.3 L666.4 341.2 L670.7 342.3 M680.2 340.2 L683.8 335.8 M541.1 313.9 L544.1 316.5 M544.1 316.5 L545.3 316.1 M609.5 320.7 L611.0 319.9 M540.3 326.4 L542.0 332.5 M540.3 326.4 L536.0 325.6 M531.6 327.5 L536.0 325.6 M531.6 327.5 L532.8 331.1 L532.8 335.0 L533.8 338.6 L533.9 342.5 M533.9 342.5 L536.4 340.3 L537.6 337.1 L540.0 335.0 L542.0 332.5 M544.1 316.5 L543.7 320.5 L543.2 324.5 M543.2 324.5 L540.3 326.4 M535.2 314.5 L535.5 318.2 L536.6 321.8 L536.0 325.6 M533.5 313.6 L530.9 314.2 M530.0 314.5 L527.7 317.0 L527.3 317.1 M527.3 321.9 L527.9 324.1 L529.7 326.9 M529.7 326.9 L531.6 327.5 M339.0 293.2 L338.1 293.3 L334.5 294.8 M340.9 277.6 L339.5 278.2 L335.7 279.0 L331.7 278.2 L328.1 279.4 M328.1 279.4 L330.4 282.1 L329.6 286.0 L331.0 289.1 L332.2 292.2 L334.5 294.8 M342.9 307.1 L347.0 305.8 L350.7 303.8 M342.9 307.1 L340.7 304.5 L338.9 301.5 L335.7 299.9 L333.4 297.4 M333.4 297.4 L334.5 294.8 M245.6 269.4 L249.5 267.3 L253.7 266.0 M253.7 266.0 L254.7 269.3 L257.6 271.8 L258.1 275.3 M250.6 280.7 L251.7 281.0 M245.1 272.6 L247.2 275.1 L248.8 278.0 L250.6 280.7 M245.1 272.6 L245.6 269.4 M251.7 281.0 L255.3 278.6 L258.1 275.3 M247.7 184.3 L250.5 188.4 M266.6 159.5 L266.2 162.9 L265.6 166.4 L263.5 169.4 L263.3 172.9 L262.4 176.3 L261.5 179.6 L260.4 182.9 L260.8 186.6 M250.5 188.4 L254.0 188.3 L257.6 188.3 L260.8 186.6 M279.3 209.1 L276.3 206.5 L273.7 203.4 L271.3 200.3 L268.2 197.7 M279.3 209.1 L282.0 206.5 L284.7 203.8 L285.6 199.7 L288.8 197.4 M283.9 185.2 L284.5 187.9 L285.6 191.2 L288.5 193.8 L288.8 197.4 M283.3 184.7 L280.4 185.9 L278.2 189.1 L274.2 189.2 L271.7 191.9 L268.6 193.5 M268.6 193.5 L268.2 197.7 M260.8 186.6 L263.8 188.4 L265.7 191.5 L268.6 193.5 M223.6 248.3 L226.9 246.4 L230.1 244.6 M223.6 248.3 L218.3 245.1 M218.3 245.1 L218.0 240.9 L217.0 236.8 M230.5 242.0 L230.1 244.6 M230.5 242.0 L228.1 239.5 L226.5 236.4 L224.1 233.8 M217.0 236.8 L220.2 234.4 L224.1 233.8 M205.0 249.8 L208.6 249.5 L211.5 247.0 L215.0 246.5 L218.3 245.1 M219.8 257.7 L221.9 256.7 M221.9 256.7 L222.9 252.5 L223.6 248.3 M211.1 234.5 L214.4 234.7 L217.0 236.8 M226.8 259.5 L230.8 257.2 L235.3 256.9 M226.8 259.5 L228.4 262.9 L227.2 266.8 L228.7 270.1 M230.2 270.9 L228.7 270.1 M230.2 270.9 L234.0 269.7 L237.1 267.4 L239.8 264.6 M235.3 256.9 L239.3 260.8 M239.8 264.6 L239.3 260.8 M235.5 249.5 L232.6 247.2 L230.1 244.6 M235.5 249.5 L234.6 253.2 L235.3 256.9 M221.9 256.7 L226.8 259.5 M214.7 272.8 L218.0 271.3 L221.6 270.9 L225.1 270.3 L228.7 270.1 M220.2 283.5 L216.6 281.2 L214.3 277.6 M220.2 283.5 L223.4 283.1 L226.6 283.8 M233.2 278.1 L229.8 280.9 L226.6 283.8 M233.2 278.1 L230.8 274.9 L230.2 270.9 M236.3 279.3 L233.2 278.1 M245.1 272.6 L242.0 274.5 L238.7 276.3 L236.3 279.3 M245.6 269.4 L242.9 266.7 L239.8 264.6 M248.9 254.3 L253.1 256.5 M248.9 254.3 L247.4 250.6 L245.7 247.1 M253.1 256.5 L256.0 254.6 L258.4 252.1 L261.1 250.0 M246.1 246.1 L245.7 247.1 M246.1 246.1 L250.0 244.4 L252.7 240.9 L256.4 238.9 M261.1 250.0 L262.2 245.6 L261.0 241.3 M256.4 238.9 L261.0 241.3 M255.0 263.7 L255.0 259.8 L253.1 256.5 M253.7 266.0 L255.0 263.7 M239.3 260.8 L242.1 257.9 L246.2 257.2 L248.9 254.3 M235.5 249.5 L239.0 249.1 L242.3 247.6 L245.7 247.1 M261.1 250.0 L264.1 251.6 L267.0 253.3 L269.0 256.1 M255.0 263.7 L259.6 262.6 L264.1 263.8 M264.1 263.8 L266.3 259.8 L269.0 256.1 M258.1 275.3 L261.8 277.0 L265.9 277.0 M265.9 277.0 L269.2 272.2 M264.1 263.8 L266.8 266.0 L268.0 269.1 L269.2 272.2 M294.8 264.0 L291.4 263.9 L288.2 262.3 L284.6 263.1 L281.3 262.2 M294.8 264.0 L296.6 260.7 L299.1 257.9 L302.5 255.9 L304.8 252.9 M304.8 252.9 L301.4 252.0 L298.1 250.6 L294.9 249.2 L291.7 247.6 L288.4 246.3 L285.6 244.0 L281.9 243.7 M281.3 262.2 L279.2 258.7 L278.0 254.7 M281.9 243.7 L280.2 247.3 L278.3 250.7 L278.0 254.7 M269.2 272.2 L273.6 271.4 L278.0 270.2 M278.0 270.2 L279.4 266.1 L281.3 262.2 M269.0 256.1 L273.5 255.3 L278.0 254.7 M274.9 236.1 L271.4 237.2 L268.1 239.0 L264.1 239.0 L261.0 241.3 M280.5 238.8 L281.9 243.7 M311.9 256.6 L315.6 256.5 L319.2 255.8 L322.9 255.8 L326.6 256.8 L330.3 256.3 M311.9 256.6 L308.9 254.7 L306.1 252.5 M306.1 252.5 L308.0 249.2 L307.2 245.4 L308.4 242.0 L308.8 238.4 M332.4 246.8 L331.1 251.4 L330.5 256.2 M332.4 246.8 L329.8 244.0 L328.0 240.6 L325.0 238.2 L323.4 234.7 M323.4 234.7 L318.8 233.5 L314.1 234.2 M330.5 256.2 L330.3 256.3 M314.1 234.2 L311.3 236.1 L308.8 238.4 M304.8 252.9 L306.1 252.5 M292.4 227.9 L295.4 229.2 L298.3 230.7 L301.0 232.5 L302.9 235.5 L306.5 236.0 L308.8 238.4 M340.4 240.4 L339.9 240.7 L337.7 243.2 L335.6 245.9 L332.4 246.8 M342.0 260.3 L338.1 259.2 L334.2 257.9 L330.5 256.2 M326.5 231.6 L325.7 232.1 L323.4 234.7 M327.6 279.2 L328.1 279.4 M327.6 279.2 L327.1 275.8 L327.8 272.6 L329.9 269.5 L328.3 266.0 L328.8 262.8 L328.9 259.5 L330.3 256.3 M299.2 198.9 L296.2 200.1 M296.2 200.1 L296.4 203.9 L298.2 207.4 L299.3 211.0 L299.5 214.9 M299.5 214.9 L302.7 215.7 L305.1 215.0 M288.8 197.4 L292.7 198.3 L296.2 200.1 M307.0 190.1 L307.0 191.6 M279.5 211.7 L279.3 209.1 M293.0 219.9 L295.7 216.8 L299.5 214.9 M314.1 234.2 L313.1 231.0 L314.7 227.5 L313.9 224.3 L312.0 221.2 M125.6 409.2 L127.0 409.4 L130.5 409.5 L134.1 408.1 L137.6 408.7 L141.1 410.0 L144.6 408.9 M121.5 424.4 L122.1 426.0 L122.7 429.5 L124.2 432.5 L126.8 434.9 L127.9 438.0 M144.6 408.9 L144.1 412.2 L145.1 415.5 L143.8 418.6 L143.6 421.9 L143.5 425.1 L142.6 428.3 L144.4 431.7 L142.5 434.8 L143.0 438.1 M127.9 438.0 L131.4 438.9 L134.8 439.7 L138.3 440.3 M138.3 440.3 L143.0 438.1 M152.3 404.3 L148.0 405.9 L144.6 408.9 M113.7 448.0 L116.4 445.8 L119.1 443.6 L122.1 441.8 L124.5 439.2 L127.9 438.0 M109.8 447.3 L113.7 448.0 M169.8 426.2 L166.4 428.0 L164.6 431.3 L162.7 434.6 L158.9 436.1 L157.5 439.8 L154.4 441.9 M169.8 426.2 L169.1 422.5 L168.1 419.0 L166.2 415.7 L164.1 412.6 L162.6 409.2 L161.4 405.7 M154.4 441.9 L150.7 440.2 L146.8 439.3 L143.0 438.1 M158.8 450.1 L156.5 452.8 L155.4 456.1 L154.4 459.5 L152.9 462.6 L151.9 463.9 M151.8 464.2 L150.9 465.5 M158.8 450.1 L156.0 446.3 L154.4 441.9 M135.1 460.7 L138.6 460.6 L141.7 461.7 L144.7 463.1 L148.1 463.4 L150.9 465.5 M135.1 460.7 L135.7 457.3 L135.2 453.8 L136.1 450.4 L136.5 447.0 L138.3 443.8 L138.3 440.3 M197.9 415.6 L196.2 419.7 L195.8 424.1 M169.8 426.2 L173.8 428.7 L178.2 430.3 M195.8 424.1 L192.0 424.6 L188.4 425.5 L185.0 427.0 L181.9 429.5 L178.2 430.3 M364.9 309.1 L364.5 309.7 L361.1 310.5 M353.7 304.8 L356.0 308.8 M361.1 310.5 L356.0 308.8 M650.3 409.0 L647.3 406.8 L644.1 404.9 L640.8 403.2 L637.6 401.3 M650.1 411.3 L645.4 415.6 M635.7 414.0 L639.0 413.8 L642.1 415.0 L645.4 415.6 M635.7 414.0 L635.8 409.7 L636.8 405.6 L637.5 401.3 M637.6 401.3 L637.5 401.3 M651.6 394.9 L648.2 394.2 L644.9 393.1 M644.9 393.1 L642.4 395.8 L639.2 397.4 M637.6 401.3 L639.2 397.4 M635.7 414.0 L635.6 414.1 M635.6 414.1 L631.8 413.3 L627.9 412.7 L624.0 412.7 M624.0 412.7 L624.9 408.9 L626.4 405.3 L626.1 401.3 M637.5 401.3 L633.7 402.2 L629.9 400.8 L626.1 401.3 M616.6 412.5 L616.8 413.0 M624.0 412.7 L622.3 414.0 M616.8 413.0 L622.3 414.0 M626.1 401.3 L626.1 401.3 M616.8 413.0 L613.7 414.7 L611.0 416.9 M609.1 415.5 L611.0 416.9 M209.7 231.4 L210.9 226.8 M204.9 221.3 L205.6 221.6 L207.5 225.2 L210.9 226.8 M125.5 466.5 L125.7 466.5 M125.5 466.5 L121.9 467.2 L119.6 470.2 L116.3 471.6 L113.7 474.0 L110.3 475.1 M125.7 466.5 L127.0 469.6 L128.8 472.5 L130.4 475.4 L133.0 477.8 L132.9 481.6 L135.0 484.4 L136.7 487.3 M114.9 493.2 L118.1 493.1 L121.3 493.9 L124.6 493.9 L127.8 494.6 L131.0 494.8 L134.3 494.4 M114.9 493.2 L112.0 490.4 L110.2 486.8 L107.2 484.1 M134.3 494.4 L134.4 490.5 L136.7 487.3 M110.3 475.1 L109.5 479.9 L107.2 484.1 M135.1 460.7 L131.5 461.8 L128.3 463.7 L125.7 466.5 M113.7 448.0 L116.7 450.5 L117.1 454.5 L119.7 457.2 L122.3 459.9 L122.6 464.0 L125.5 466.5 M99.0 461.4 L100.6 464.7 L103.1 467.2 L105.5 469.9 L107.7 472.7 L110.3 475.1 M150.9 465.5 L151.4 466.2 M151.2 479.4 L149.1 480.0 L145.8 481.5 L143.1 483.9 L140.1 485.9 L136.7 487.3 M99.1 485.8 L102.9 483.8 L107.2 484.1 M99.1 485.8 L96.0 484.3 L94.1 481.0 L91.4 478.8 L88.4 477.2 L85.8 474.8 L82.5 473.5 M172.6 548.9 L172.4 545.3 L173.4 542.1 L175.3 538.9 L174.6 535.3 L175.9 532.1 L176.5 528.7 M172.6 548.9 L169.6 550.4 L166.3 550.4 L165.4 550.7 M159.7 527.0 L160.0 527.0 L163.0 525.5 L166.0 524.5 L169.2 523.8 L172.3 523.0 M176.5 528.7 L173.7 526.4 L172.3 523.0 M168.4 576.8 L170.6 577.2 L173.3 575.1 L176.2 573.8 L179.6 573.7 M179.6 573.7 L180.9 570.3 L183.3 567.4 L183.8 563.7 L185.8 560.6 M185.8 560.6 L185.7 560.3 M185.7 560.3 L182.7 558.5 L179.8 556.5 L178.1 553.2 L175.2 551.2 L172.6 548.9 M111.8 501.1 L113.3 499.5 L114.2 496.4 L114.9 493.2 M136.6 497.1 L134.3 494.4 M200.6 542.5 L203.9 543.2 L207.1 544.3 L209.9 546.4 L212.8 548.2 L215.9 549.6 L219.4 549.9 M200.6 542.5 L198.8 538.9 L199.8 534.5 L197.8 530.9 M197.8 530.9 L200.6 526.7 M200.6 526.7 L203.7 524.8 L207.6 525.6 L210.6 523.2 L214.1 522.8 L217.4 521.5 M219.4 549.9 L220.6 546.8 L221.3 543.5 L223.1 540.6 L224.1 537.5 L226.8 535.0 L227.7 531.8 L228.7 528.6 M228.7 528.6 L225.9 526.8 L223.4 524.5 L220.6 522.7 L217.4 521.5 M185.8 560.6 L189.1 561.7 L192.1 563.5 L195.0 565.3 L199.0 564.9 L201.3 568.4 L204.9 568.7 L208.0 570.2 L210.8 572.4 L214.4 572.8 M185.7 560.3 L187.2 557.2 L189.8 555.1 L192.6 553.1 L194.9 550.7 L196.1 547.4 L198.7 545.3 L200.6 542.5 M214.4 572.8 L217.3 570.7 L220.1 568.4 L222.1 565.3 L224.6 562.8 M224.6 562.8 L223.9 559.3 L222.5 556.1 L220.3 553.3 L219.4 549.9 M176.5 528.7 L180.0 529.5 L183.6 529.7 L187.2 529.6 L190.7 530.0 L194.1 531.5 L197.8 530.9 M316.5 766.2 L315.0 765.0 M330.7 757.3 L328.2 755.8 M315.0 765.0 L316.2 760.4 L318.7 756.4 M328.2 755.8 L323.4 755.9 L318.7 756.4 M233.5 498.3 L236.6 500.8 L237.8 504.8 L241.1 507.2 L243.2 510.5 M216.4 505.1 L219.5 502.8 L223.3 502.6 L226.5 500.7 L230.0 499.5 L233.5 498.3 M216.4 505.1 L215.9 508.4 L217.7 511.6 L216.5 515.0 L218.1 518.2 L217.4 521.5 M228.7 528.6 L229.8 528.4 M229.8 528.4 L232.5 525.8 L233.9 522.2 L236.3 519.3 L238.5 516.3 L240.4 513.0 L243.2 510.5 M272.3 517.6 L275.8 520.5 L278.0 524.4 M272.3 517.6 L268.9 517.5 L265.4 518.6 L261.9 517.3 M278.0 524.4 L278.7 528.0 L276.9 531.5 L277.1 535.1 L276.4 538.7 L277.9 542.3 L276.9 545.8 M261.9 517.3 L261.2 520.7 L260.3 523.9 L258.1 526.7 L257.5 530.1 L255.4 532.9 L255.6 536.6 L253.6 539.5 L252.8 542.8 M276.9 545.8 L273.4 547.1 L269.5 546.4 L265.9 547.5 L262.6 549.7 L258.6 548.9 L255.2 550.5 M255.2 550.5 L254.3 546.6 L252.8 542.8 M243.2 510.5 L247.2 510.5 L251.2 511.8 L255.3 511.2 M255.3 511.2 L258.4 514.4 L261.9 517.3 M229.8 528.4 L232.8 529.9 L235.7 531.7 L237.9 534.6 L240.8 536.3 L244.7 536.6 L247.0 539.3 L249.4 541.9 L252.8 542.8 M252.6 557.1 L249.6 558.3 L246.7 559.8 L244.4 562.3 L240.6 561.9 L238.2 564.3 M224.6 562.8 L228.1 562.2 L231.5 563.0 L234.7 564.8 L238.2 564.3 M252.6 557.1 L254.4 554.0 L255.2 550.5 M592.2 361.3 L592.3 358.2 M592.2 361.3 L590.1 364.4 L587.6 367.3 L584.4 369.5 M577.8 358.5 L576.5 361.4 M576.5 361.4 L578.5 364.7 L582.0 366.6 L584.4 369.5 M577.8 387.1 L579.3 385.8 L582.2 384.1 M570.9 386.5 L568.9 383.7 L569.1 380.1 M582.2 384.1 L580.5 380.4 L579.5 376.5 M569.1 380.1 L572.0 375.5 M572.0 375.5 L575.9 375.0 L579.5 376.5 M582.2 384.1 L585.7 385.3 M592.5 375.7 L592.5 381.7 M592.5 375.7 L588.2 374.0 L584.3 371.6 M579.5 376.5 L581.5 373.6 L584.3 371.6 M656.5 378.5 L651.8 378.1 L647.0 378.2 M656.5 378.5 L658.3 381.7 L657.7 385.5 L659.2 388.9 M644.9 393.1 L644.0 389.9 L644.6 386.6 L645.2 383.3 L644.1 380.1 M644.1 380.1 L647.0 378.2 M603.9 347.6 L607.5 346.0 L611.5 346.4 M611.5 346.4 L613.1 344.7 M625.4 327.6 L623.6 330.8 L621.7 334.0 L621.7 334.1 M625.4 327.6 L624.6 323.2 M647.0 378.2 L647.5 374.3 L646.6 370.6 L647.2 366.7 L645.7 363.1 M658.1 377.1 L658.2 373.0 L656.9 369.0 L657.9 364.9 M658.1 377.1 L656.5 378.5 M657.9 364.9 L655.6 361.7 L652.2 359.8 M652.2 359.8 L649.2 361.9 L645.7 363.1 M679.1 370.7 L675.0 370.1 L671.0 368.9 M679.1 370.7 L679.8 374.0 L681.4 377.1 L680.8 380.6 M672.1 381.8 L676.2 382.4 L680.3 381.6 M672.1 381.8 L669.4 379.2 L667.2 376.2 M667.2 376.2 L669.9 373.0 L671.0 368.9 M680.3 381.6 L680.8 380.6 M685.0 365.4 L682.7 368.9 L679.1 370.7 M685.0 365.4 L683.0 362.2 L680.7 359.2 L677.9 356.6 M669.0 362.9 L670.0 359.8 L671.5 356.9 M669.0 362.9 L671.0 368.9 M671.5 356.9 L671.5 356.9 M690.9 375.5 L687.4 376.2 L684.4 379.0 L680.8 380.6 M690.1 366.0 L690.5 366.4 M690.1 366.0 L685.0 365.4 M682.6 386.6 L680.3 381.6 M667.0 392.3 L669.6 389.2 L669.4 384.8 L672.1 381.8 M658.1 377.1 L662.7 377.4 L667.2 376.2 M657.9 364.9 L661.6 364.2 L665.1 362.8 L669.0 362.9 M696.0 342.2 L695.8 345.7 L695.5 346.4 M695.5 346.6 L694.5 349.0 L693.2 352.2 M696.0 342.2 L699.2 343.6 L702.5 344.3 L705.5 344.5 M694.6 352.8 L693.4 352.7 M693.4 352.7 L693.2 352.2 M693.4 336.6 L696.0 342.2 M682.8 351.4 L686.3 351.7 L689.8 350.8 L693.2 352.2 M712.0 331.3 L708.9 330.7 L705.9 329.0 L702.7 328.5 L699.5 328.1 M713.8 336.7 L710.8 338.9 L708.2 341.5 L706.3 344.1 M690.1 366.0 L690.2 362.5 L692.2 359.4 L693.2 356.1 L693.4 352.7 M715.9 311.9 L712.3 312.9 L708.5 313.4 L704.7 313.8 M715.9 311.9 L716.6 308.0 L716.0 304.2 M716.0 304.2 L714.1 301.0 L711.2 298.6 L708.6 296.1 L706.1 293.5 M704.7 313.8 L701.6 312.1 L700.4 308.6 L697.6 306.6 M697.6 306.6 L699.2 303.7 L699.8 300.5 L700.5 297.4 L700.9 294.2 M700.9 294.2 L706.1 293.5 M721.8 318.1 L718.7 315.1 L715.9 311.9 M698.6 324.2 L699.9 320.3 L702.6 317.2 L704.7 313.8 M725.6 296.6 L722.4 299.2 L719.4 301.9 L716.0 304.2 M713.8 283.0 L711.8 285.7 L710.0 288.3 L707.1 290.2 L706.1 293.5 M689.6 309.1 L693.8 308.5 L697.6 306.6 M692.4 289.2 L695.7 290.0 L697.6 293.4 L700.9 294.2 M485.8 358.7 L488.6 361.2 L492.1 362.4 L495.6 363.6 M485.8 358.7 L482.6 359.5 L479.5 360.4 M495.6 363.6 L493.7 366.7 L492.3 370.1 L490.2 373.0 L487.7 375.7 M487.7 375.7 L483.8 374.8 M483.8 374.8 L481.6 371.6 L482.1 367.5 L480.0 364.2 L479.5 360.4 M568.7 349.3 L566.0 351.6 L564.5 354.5 L563.9 357.9 M574.2 349.8 L568.7 349.3 M576.5 361.4 L572.1 363.5 M563.9 357.9 L566.7 359.6 L569.8 360.9 L572.1 363.5 M584.3 371.6 L584.4 369.5 M572.0 375.5 L569.8 371.2 M572.1 363.5 L571.2 367.4 L569.8 371.2 M568.7 349.3 L567.9 347.8 M543.2 324.5 L544.8 324.7 M542.0 332.5 L545.2 333.4 L546.0 333.6 M533.9 342.5 L533.6 343.7 M533.6 343.7 L537.1 344.0 L540.2 345.2 L543.2 347.0 L546.6 347.5 M548.7 341.9 L547.2 343.4 L546.6 347.5 M540.5 388.7 L540.0 388.6 L538.1 385.5 M538.1 385.5 L535.7 388.2 L531.7 388.5 L529.4 391.5 L526.1 393.0 M527.8 398.7 L527.5 396.8 L526.1 393.0 M569.1 380.1 L567.8 380.5 M231.2 336.9 L233.4 339.4 L234.5 342.8 L237.5 344.7 M231.2 336.9 L233.2 333.9 L234.6 330.8 L235.8 327.6 L237.3 324.5 L238.5 321.3 L239.2 317.8 M248.5 341.4 L244.6 341.9 L241.5 344.7 L237.5 344.7 M248.5 341.4 L251.9 339.1 L254.7 336.2 L257.9 333.7 M256.4 321.6 L256.7 325.6 L257.0 329.7 L257.9 333.7 M256.4 321.6 L252.8 321.0 L250.2 318.1 L246.6 317.5 M246.6 317.5 L242.9 318.6 L239.2 317.8 M236.3 279.3 L239.5 284.6 M226.6 283.8 L228.6 287.5 L230.1 291.5 L232.3 295.2 M232.3 295.2 L232.7 295.0 M232.7 295.0 L234.5 291.3 L236.3 287.4 L239.5 284.6 M250.6 280.7 L247.4 284.0 L243.1 285.6 M243.1 285.6 L239.5 284.6 M230.4 297.8 L231.0 301.6 L231.2 305.5 L231.7 309.2 M230.4 297.8 L226.4 296.9 L222.4 295.9 L218.3 295.6 M231.7 309.2 L227.6 310.2 L223.6 311.5 L219.3 311.8 M219.3 311.8 L216.8 308.9 L214.9 305.6 L213.0 302.3 M213.0 302.3 L214.7 297.7 M218.3 295.6 L214.7 297.7 M232.3 295.2 L230.4 297.8 M220.2 283.5 L219.9 287.6 L219.5 291.7 L218.3 295.6 M209.1 332.4 L212.5 332.1 L215.4 334.0 L218.6 334.4 L221.6 335.8 L224.9 335.5 L228.2 335.6 L231.2 336.9 M209.1 332.4 L209.6 329.0 L212.8 326.9 L212.8 323.2 L214.6 320.5 L217.1 318.0 L218.8 315.2 L219.3 311.8 M239.2 317.8 L236.3 312.8 M236.3 312.8 L231.7 309.2 M206.1 333.1 L209.1 332.4 M195.7 307.5 L199.3 307.0 L202.7 305.7 L205.8 303.4 L209.5 303.4 L213.0 302.3 M203.4 286.2 L205.3 288.9 L208.1 290.6 L209.8 293.5 L211.7 296.1 L214.7 297.7 M312.5 275.1 L316.5 277.1 L319.2 280.5 M312.5 275.1 L309.5 276.3 L306.0 275.5 L302.9 276.3 L300.2 278.8 L296.8 278.3 M319.2 280.5 L318.3 284.5 L315.5 287.5 L314.6 291.4 M314.6 291.4 L311.1 290.7 L307.6 292.3 L304.1 292.0 L300.6 291.7 M300.6 291.7 L297.9 288.4 L296.0 284.8 L295.2 280.6 M296.8 278.3 L295.2 280.6 M327.6 279.2 L323.3 279.3 L319.2 280.5 M311.9 256.6 L311.0 260.3 L311.4 264.0 L313.2 267.7 L311.3 271.4 L312.5 275.1 M294.8 264.0 L294.1 267.8 L296.8 271.0 L296.5 274.7 L296.8 278.3 M285.5 282.2 L288.7 281.8 L291.8 280.0 L295.2 280.6 M285.5 282.2 L283.0 279.6 L281.9 276.1 L280.0 273.1 L278.0 270.2 M268.1 307.5 L271.4 309.0 L273.8 311.7 M268.1 307.5 L262.7 308.9 M273.8 311.7 L273.4 315.0 L270.6 317.5 L270.2 321.0 M262.7 308.9 L261.7 312.7 L260.1 316.4 L258.6 320.0 M258.6 320.0 L262.5 319.5 L266.4 320.3 L270.2 321.0 M272.8 324.9 L270.2 321.0 M281.9 323.1 L277.1 322.9 L272.8 324.9 M277.9 311.4 L273.8 311.7 M277.9 311.4 L282.5 315.5 M282.5 315.5 L281.0 319.2 L281.9 323.1 M256.2 288.4 L260.1 289.8 M256.2 288.4 L253.2 290.3 L250.3 292.3 L247.0 293.8 M261.8 292.6 L260.1 289.8 M261.8 292.6 L258.9 295.6 L256.7 299.1 L255.3 303.1 M247.0 293.8 L246.0 296.9 M255.3 303.1 L254.2 303.2 M254.2 303.2 L250.9 300.4 L246.9 299.0 M246.9 299.0 L246.0 296.9 M265.9 277.0 L266.1 278.3 M266.1 278.3 L264.7 281.2 L262.7 283.8 L261.0 286.6 L260.1 289.8 M251.7 281.0 L253.4 285.0 L256.2 288.4 M243.1 285.6 L244.9 289.7 L247.0 293.8 M262.7 308.9 L258.5 306.6 L255.3 303.1 M270.8 295.5 L270.5 299.6 L269.5 303.6 L268.1 307.5 M270.8 295.5 L266.5 293.6 L261.8 292.6 M232.7 295.0 L236.1 294.8 L239.4 295.5 L242.8 295.8 L246.0 296.9 M256.4 321.6 L258.6 320.0 M246.6 317.5 L247.8 314.4 L250.0 311.9 L251.4 309.0 L252.3 305.9 L254.2 303.2 M236.3 312.8 L237.9 309.6 L240.3 307.1 L241.8 303.9 L244.2 301.3 L246.9 299.0 M196.5 351.4 L199.7 352.6 L202.2 355.1 L204.8 357.2 L207.9 358.6 L210.4 360.9 L213.5 362.3 L216.0 364.7 L219.2 366.0 L221.4 368.7 L224.6 370.0 M237.5 344.7 L236.4 349.3 L237.1 353.9 M237.1 353.9 L234.5 356.2 L233.2 359.5 L230.9 362.0 L229.0 364.9 L226.1 366.9 L224.6 370.0 M214.2 389.0 L217.5 387.5 L219.4 384.3 L221.7 381.6 L224.9 379.9 M224.9 379.9 L223.8 376.6 L224.5 373.3 L224.6 370.0 M249.6 361.7 L245.9 360.7 L243.5 357.6 L240.2 355.8 L237.1 353.9 M249.6 361.7 L253.2 360.1 L257.2 359.6 L260.4 357.0 M248.5 341.4 L251.7 343.6 L254.5 346.3 L258.6 347.3 L261.0 350.5 M260.4 357.0 L260.1 353.7 L261.0 350.5 M174.0 454.2 L174.4 457.9 L173.8 461.7 L175.2 465.4 M174.0 454.2 L176.8 451.2 L180.1 448.7 M180.1 448.7 L183.7 449.5 L187.6 448.7 L191.2 449.8 L194.9 450.8 M175.2 465.4 L178.7 466.4 L181.6 468.8 L184.9 470.4 L188.1 472.0 L191.6 473.2 M191.6 473.2 L194.0 470.9 L193.9 467.2 L196.6 465.0 L196.7 461.4 L199.2 459.1 M199.2 459.1 L197.3 454.8 L194.9 450.8 M157.0 476.7 L158.9 477.1 L162.1 479.1 M158.8 450.1 L162.4 451.7 L166.5 451.9 L169.9 454.1 L174.0 454.2 M162.1 479.1 L164.0 475.6 L167.2 473.5 L170.6 471.5 L173.3 468.9 L175.2 465.4 M178.2 430.3 L178.3 434.0 L177.9 437.8 L179.9 441.3 L179.5 445.0 L180.1 448.7 M195.8 424.1 L197.6 426.9 L200.1 429.4 L202.1 432.1 L203.3 435.4 M203.3 435.4 L201.6 438.5 L199.3 441.3 L199.0 445.1 L197.2 448.1 L194.9 450.8 M282.5 347.4 L287.4 343.5 M282.5 347.4 L278.5 347.7 L274.8 345.6 L270.8 345.6 M282.0 334.4 L278.2 335.0 L274.4 333.3 L270.6 334.2 M282.0 334.4 L285.2 337.6 L287.4 341.6 M287.4 341.6 L287.4 343.5 M270.8 345.6 L270.0 342.5 L269.9 339.1 L268.2 336.2 M268.2 336.2 L270.6 334.2 M284.8 326.2 L281.9 323.1 M272.8 324.9 L272.8 329.8 L270.6 334.2 M284.8 326.2 L283.2 330.2 L282.0 334.4 M270.7 345.8 L267.3 347.0 L263.8 348.0 L261.0 350.5 M270.7 345.8 L270.8 345.6 M257.9 333.7 L261.3 334.7 L264.7 335.6 L268.2 336.2 M303.4 324.9 L299.3 326.8 L295.6 329.4 M303.4 324.9 L302.9 320.9 L303.4 316.9 M303.4 316.9 L298.6 316.3 L294.4 314.0 M294.4 314.0 L294.6 318.2 L292.7 322.0 L292.0 326.0 M292.0 326.0 L295.6 329.4 M307.0 314.9 L308.4 310.5 L308.7 306.0 M301.0 302.3 L305.1 303.7 L308.7 306.0 M307.0 314.9 L303.4 316.9 M293.6 313.0 L294.4 314.0 M293.6 313.0 L293.7 311.5 M293.7 311.5 L295.4 307.9 L299.1 305.8 L301.0 302.3 M282.5 315.5 L286.0 313.8 L289.7 312.9 L293.6 313.0 M284.8 326.2 L288.5 326.9 L292.0 326.0 M295.9 332.2 L293.8 336.0 L290.1 338.4 L287.4 341.6 M295.9 332.2 L295.6 329.4 M203.3 435.4 L206.3 436.9 L209.7 436.9 L212.9 437.5 L216.3 436.9 L219.3 439.0 L222.6 439.0 M213.3 406.8 L216.4 408.7 L218.4 411.9 L221.3 414.1 L224.8 415.3 L228.0 417.0 L230.6 419.5 M230.6 419.5 L229.6 422.9 L227.5 425.8 L225.6 428.8 L224.9 432.3 L224.7 436.1 L222.6 439.0 M218.7 461.3 L221.1 457.1 L225.1 454.3 M225.1 454.3 L226.0 451.0 L226.2 447.6 M218.7 461.3 L215.5 460.4 L212.3 460.3 L209.1 459.1 L205.7 460.3 L202.5 459.3 L199.2 459.1 M226.2 447.6 L224.1 443.5 L222.6 439.0 M230.6 419.5 L235.4 418.9 L239.7 416.6 M242.9 388.6 L239.9 387.1 L237.1 385.3 L233.9 384.3 L231.4 381.7 L227.9 381.4 L224.9 379.9 M242.9 388.6 L243.9 391.0 M243.9 391.0 L242.5 394.0 L241.8 397.2 L243.5 400.8 L241.4 403.7 L240.4 406.9 L240.2 410.1 L241.2 413.6 L239.7 416.6 M256.5 443.3 L255.8 439.8 L253.7 437.1 L251.2 434.5 L249.5 431.6 L248.1 428.5 L248.4 424.5 L245.8 422.0 L244.6 418.8 M256.5 443.3 L253.1 443.4 L249.6 443.2 L246.4 444.8 L243.2 446.3 L239.8 446.7 L236.4 446.7 L232.8 445.6 L229.5 447.0 L226.2 447.6 M239.7 416.6 L244.6 418.8 M653.1 437.3 L652.9 437.0 M652.9 437.0 L653.4 433.4 L653.9 432.5 M657.4 418.5 L656.3 419.7 M653.5 423.4 L652.4 425.4 M645.4 415.6 L645.1 420.2 L646.4 424.6 M646.4 424.6 L652.4 425.4 M652.4 425.4 L653.6 427.3 M631.3 435.4 L632.9 432.4 L633.1 429.1 L633.3 425.8 M631.3 435.4 L631.9 436.3 M631.9 436.3 L636.2 436.0 L639.8 438.5 L644.0 438.6 M634.2 425.2 L633.3 425.8 M634.2 425.2 L638.9 425.3 L643.4 426.8 M643.4 426.8 L644.1 430.4 L643.8 434.2 L644.7 437.9 M644.0 438.6 L644.7 437.9 M631.9 446.1 L635.7 448.7 L640.3 449.5 M631.9 446.1 L631.1 442.8 L631.7 439.5 L631.9 436.3 M640.3 449.5 L643.2 448.5 M643.2 448.5 L643.8 445.2 L642.8 441.8 L644.0 438.6 M623.8 423.0 L623.8 418.3 L622.3 414.0 M635.6 414.1 L635.9 417.9 L634.4 421.5 L634.2 425.2 M623.8 423.0 L627.2 423.1 L629.8 425.9 L633.3 425.8 M646.4 424.6 L643.4 426.8 M652.9 437.0 L648.8 437.7 L644.7 437.9 M646.8 451.2 L646.0 450.9 L643.2 448.5 M640.3 449.5 L638.6 452.7 L636.6 455.7 L635.2 459.0 M631.9 446.1 L629.4 447.0 M631.5 456.9 L632.5 457.1 L635.2 459.0 M619.8 430.9 L617.8 428.1 M614.0 442.8 L610.1 442.5 M617.8 428.1 L613.6 426.0 L608.9 425.2 M605.0 438.3 L607.2 440.9 L610.1 442.5 M605.0 438.3 L606.4 435.2 L606.7 431.9 L608.2 428.8 L608.5 425.4 M608.5 425.4 L608.9 425.2 M631.3 435.4 L627.8 435.0 L627.2 435.3 M623.8 423.0 L620.4 425.1 L617.8 428.1 M610.1 445.8 L610.1 442.5 M611.0 416.9 L609.1 420.8 L608.9 425.2 M604.3 438.3 L605.0 438.3 M600.4 423.6 L602.2 423.6 L605.0 425.7 L608.5 425.4 M510.2 408.8 L514.0 409.2 L517.4 411.6 L521.2 412.3 L525.2 412.4 M510.2 408.8 L508.6 411.9 L507.8 415.3 L505.6 418.1 L504.4 421.4 M504.4 421.4 L508.8 423.3 L511.8 427.1 M511.8 427.1 L515.7 426.4 L518.9 423.6 L523.0 423.0 L526.7 421.7 M526.7 421.7 L525.2 417.2 L525.2 412.4 M529.0 405.7 L527.1 408.2 L525.2 412.4 M531.8 426.0 L534.6 424.1 L538.1 424.3 L540.5 423.2 M531.8 426.0 L529.5 423.5 L526.7 421.7 M207.3 206.3 L207.2 206.4 L206.8 206.8 M204.3 216.0 L205.8 213.1 M205.0 211.4 L205.8 213.1 M205.8 213.1 L210.5 214.4 L215.2 215.0 M210.9 226.8 L214.5 224.7 L217.3 221.6 M217.3 221.6 L215.7 218.5 L215.2 215.0 M214.1 202.2 L214.5 205.1 L215.5 208.3 L217.2 211.2 M221.9 199.0 L222.2 199.3 L226.0 202.0 M226.0 202.0 L225.6 205.8 L224.3 209.4 M224.3 209.4 L220.7 210.3 L217.2 211.2 M217.2 211.2 L215.2 215.0 M234.8 193.5 L235.8 195.1 M250.5 188.4 L249.7 192.3 L247.5 195.5 M247.5 195.5 L243.6 196.1 L239.7 196.3 L235.8 195.1 M226.0 202.0 L229.4 201.7 L232.9 201.1 M235.8 195.1 L235.2 198.5 L232.9 201.1 M216.4 505.1 L213.2 502.0 L209.2 500.2 M200.6 526.7 L200.6 522.9 L199.5 519.5 L197.4 516.4 L195.9 513.0 L195.4 509.4 M195.4 509.4 L198.6 508.3 L200.8 505.6 L203.8 504.1 L206.4 502.0 L209.2 500.2 M218.4 477.7 L219.2 474.4 L219.0 471.1 L219.4 467.9 L217.7 464.5 L218.7 461.3 M191.6 473.2 L193.0 477.5 L193.7 482.0 M218.4 477.7 L215.2 479.6 L212.5 482.4 L209.3 484.3 L205.9 486.0 M193.7 482.0 L196.4 484.0 L200.1 483.3 L202.8 485.3 L205.9 486.0 M233.5 498.3 L235.0 494.6 L234.0 490.6 L234.7 486.9 M234.7 486.9 L231.3 485.2 L227.6 484.1 L224.8 481.5 L221.1 480.5 L218.4 477.7 M205.9 486.0 L205.9 489.8 L208.5 492.9 L207.7 496.8 L209.2 500.2 M245.9 775.4 L245.5 775.5 M250.7 788.6 L251.3 788.3 M245.9 775.4 L250.2 776.5 M250.2 776.5 L250.7 780.4 L252.0 784.3 L251.3 788.3 M639.2 397.4 L636.3 394.3 L634.6 390.3 L631.0 387.9 M631.0 387.9 L627.2 390.4 M645.7 363.1 L640.7 361.9 M644.1 380.1 L639.3 379.3 M640.7 361.9 L637.7 363.6 L636.5 367.1 L633.5 368.9 M633.5 368.9 L634.6 372.8 L636.8 376.2 L639.3 379.3 M631.0 387.9 L632.9 382.6 M639.3 379.3 L636.2 381.0 L632.9 382.6 M592.5 375.7 L596.4 373.9 L599.8 371.2 M592.2 361.3 L595.1 364.1 L597.5 367.3 L599.9 370.6 M599.8 371.2 L599.9 370.6 M633.5 368.9 L627.8 368.6 M636.3 354.9 L633.3 356.5 L630.1 357.0 L626.9 357.5 M640.7 361.9 L637.6 359.0 L636.3 354.9 M626.9 357.5 L627.6 361.2 L628.6 364.8 L627.8 368.6 M625.5 377.7 L629.2 380.1 L632.9 382.6 M625.5 377.7 L626.0 373.1 L627.6 368.7 M627.8 368.6 L627.6 368.7 M671.5 356.9 L668.5 355.5 L665.4 354.7 L662.8 352.3 L659.4 352.1 M652.2 359.8 L652.8 357.4 M659.4 352.1 L655.7 354.3 L652.8 357.4 M663.2 338.3 L659.9 341.2 M659.4 352.1 L659.0 348.4 L659.2 344.8 L659.9 341.2 M560.2 358.8 L559.0 362.4 L558.2 364.3 M560.2 358.8 L556.7 356.9 L553.1 355.2 L550.4 352.1 M550.4 352.1 L549.4 351.9 M549.4 351.9 L548.2 355.2 L545.2 357.4 L545.1 357.9 M563.9 357.9 L560.2 358.8 M569.8 371.2 L568.4 371.2 M561.4 346.0 L558.3 346.1 L556.4 349.2 L553.7 351.1 L550.4 352.1 M546.6 347.5 L549.4 351.9 M533.6 343.7 L529.5 345.8 M529.5 345.8 L530.2 349.1 L529.5 352.4 L529.1 353.7 M528.4 355.6 L528.4 355.7 L530.1 359.0 L529.8 362.4 L529.4 364.0 M538.1 385.5 L539.8 382.2 L539.2 380.1 M529.7 326.9 L526.5 327.7 M529.5 345.8 L526.7 345.2 M498.0 353.9 L498.0 354.3 L500.5 356.6 M502.8 355.7 L500.5 356.6 M495.6 363.6 L496.2 363.5 M485.8 358.7 L487.0 355.6 L487.8 352.8 M496.2 363.5 L498.2 359.9 L500.5 356.6 M271.6 295.2 L274.0 291.2 L276.8 287.6 M271.6 295.2 L274.6 296.6 L276.7 299.4 L279.4 301.2 L282.4 302.7 M282.4 302.7 L286.1 301.5 M283.2 285.0 L284.9 288.3 L286.5 291.5 L286.5 295.3 L287.7 298.8 M283.2 285.0 L279.9 286.0 L276.8 287.6 M286.1 301.5 L287.7 298.8 M270.8 295.5 L271.6 295.2 M266.1 278.3 L269.1 280.3 L271.2 283.3 L274.6 284.7 L276.8 287.6 M277.9 311.4 L279.9 308.7 L281.5 305.9 L282.4 302.7 M293.7 311.5 L290.2 308.9 L289.4 304.2 L286.1 301.5 M285.5 282.2 L283.2 285.0 M299.0 296.1 L295.5 298.1 L291.3 297.5 L287.7 298.8 M299.0 296.1 L300.6 291.7 M299.0 296.1 L300.8 298.9 L301.0 302.3 M249.6 361.7 L251.3 366.0 L253.4 370.1 M242.9 388.6 L245.4 386.4 L246.8 382.9 L250.0 381.3 M253.4 370.1 L252.5 373.9 L251.3 377.6 L250.0 381.3 M319.8 308.8 L317.2 305.9 L314.2 303.4 M319.8 308.8 L324.6 308.4 L328.8 306.1 M331.4 298.9 L327.4 299.3 L323.9 296.8 L320.0 296.8 L316.2 295.9 M331.4 298.9 L329.3 302.2 L328.8 306.1 M316.2 295.9 L316.1 299.9 L314.2 303.4 M314.6 291.4 L316.2 295.9 M333.4 297.4 L331.4 298.9 M308.7 306.0 L314.2 303.4 M307.0 314.9 L311.2 317.2 L315.6 319.0 M319.8 308.8 L319.5 312.7 L319.3 316.5 M315.6 319.0 L319.3 316.5 M296.7 484.5 L298.2 487.8 L300.5 490.8 L301.7 494.3 L302.9 497.7 M296.7 484.5 L292.7 484.5 L288.9 483.0 M288.9 483.0 L285.7 484.9 L283.2 487.5 L280.8 490.2 L278.7 493.2 M296.7 506.3 L293.1 505.9 L289.5 505.6 L285.9 504.6 L282.3 505.2 M296.7 506.3 L298.4 503.2 L301.7 501.2 L302.9 497.7 M282.3 505.2 L281.9 500.9 L279.2 497.3 L278.7 493.2 M225.1 454.3 L227.2 456.8 L231.0 457.0 L232.6 460.3 L235.1 462.2 L237.5 464.4 L240.6 465.5 L243.3 467.2 L246.0 469.1 M234.7 486.9 L237.0 484.0 L240.2 482.5 L243.3 481.0 L246.3 479.1 M246.0 469.1 L246.0 472.4 L245.4 475.8 L246.3 479.1 M255.3 511.2 L256.4 507.7 L256.4 503.9 L256.9 500.3 L259.8 497.3 L261.1 493.9 L260.2 489.9 L261.8 486.5 M246.3 479.1 L249.5 480.4 L252.6 481.9 L255.7 483.3 L259.2 484.0 L261.8 486.5 M272.3 517.6 L275.1 514.7 L277.3 511.4 L279.8 508.3 L282.3 505.2 M278.7 493.2 L275.0 492.5 L271.6 491.3 L268.6 489.2 L264.9 488.6 L261.9 486.5 M261.8 486.5 L261.9 486.5 M243.9 391.0 L247.5 391.9 L251.3 392.5 L254.4 395.0 L258.3 395.3 L261.6 397.2 M244.6 418.8 L247.8 418.0 L251.0 417.0 L254.0 415.1 L257.2 414.1 L260.6 414.0 L264.1 413.8 L267.2 412.6 M261.6 397.2 L263.6 400.0 L264.8 403.0 L265.7 406.2 L265.9 409.6 L267.2 412.6 M260.4 357.0 L264.3 358.7 L267.5 361.5 M270.7 345.8 L271.6 350.0 L271.6 354.2 L271.4 358.4 M267.5 361.5 L271.4 358.4 M253.4 370.1 L256.9 370.9 L260.2 369.8 L263.6 369.1 L267.0 369.2 M267.5 361.5 L268.2 365.5 L267.0 369.2 M250.0 381.3 L253.3 381.9 L256.5 382.3 L259.7 381.3 L262.9 382.4 L266.2 381.4 M266.2 381.4 L267.6 377.7 L266.5 373.7 L267.6 370.0 M267.0 369.2 L267.6 370.0 M547.7 443.1 L546.6 442.5 L543.3 442.6 L540.1 441.2 L536.8 441.8 L533.6 440.3 L530.3 440.8 M546.9 455.0 L546.8 455.4 L544.2 457.7 M544.2 457.7 L541.0 458.7 L537.8 458.7 L534.5 457.7 M534.5 457.7 L533.2 454.7 L532.2 451.6 L530.0 448.9 L529.1 445.8 L528.9 442.4 M528.9 442.4 L530.3 440.8 M531.8 426.0 L532.6 429.8 L531.9 433.5 L531.4 437.2 L530.3 440.8 M549.0 466.3 L547.2 464.2 L546.6 460.4 L544.2 457.7 M520.3 444.2 L516.8 442.8 L514.7 439.9 L512.1 437.5 M511.8 427.1 L511.4 430.6 L511.5 434.0 L512.1 437.5 M520.3 444.2 L524.8 444.4 L528.9 442.4 M635.8 460.9 L633.6 463.4 L633.0 464.3 M635.8 460.9 L640.3 462.5 L644.3 465.0 M644.8 466.1 L644.3 465.0 M644.8 466.1 L641.9 468.0 L640.4 470.7 M635.2 459.0 L635.8 460.9 M647.2 456.6 L646.4 458.4 L644.9 461.6 L644.3 465.0 M645.7 466.7 L644.8 466.1 M429.6 430.6 L429.2 428.4 M417.9 423.2 L421.6 425.3 L425.0 427.7 L429.2 428.4 M417.9 423.2 L414.6 425.6 L413.2 429.4 L409.9 431.7 L407.8 435.1 M407.8 435.1 L408.1 438.1 M429.6 430.6 L426.7 433.1 L424.7 436.3 L422.1 439.1 L420.8 442.8 M408.1 438.1 L411.6 438.4 L414.7 439.8 L418.0 440.6 L420.8 442.8 M429.6 430.6 L432.8 432.4 L434.9 435.5 L438.1 437.3 M438.0 448.7 L438.5 444.9 L438.9 441.1 L438.1 437.3 M438.0 448.7 L434.2 448.8 L430.5 447.2 L426.6 447.9 L422.8 447.7 M422.8 447.7 L420.8 442.8 M439.1 555.8 L439.0 555.7 L437.8 552.7 L436.3 549.8 M436.3 549.8 L436.3 547.2 M436.3 547.2 L436.8 546.5 M436.8 546.5 L440.1 544.9 L443.6 543.6 L446.6 541.5 L450.0 540.1 L452.6 539.5 M217.3 221.6 L221.8 223.2 M224.3 209.4 L228.0 212.2 L231.4 215.4 M231.4 215.4 L228.5 218.3 L224.7 220.1 L221.8 223.2 M224.1 233.8 L225.2 229.3 M225.2 229.3 L223.5 226.2 L221.8 223.2 M268.2 197.7 L266.1 200.2 L263.9 202.6 L260.4 203.4 L258.6 206.4 L255.8 208.0 M247.5 195.5 L247.8 199.2 L249.2 202.6 L251.0 205.9 M255.8 208.0 L251.0 205.9 M268.5 220.7 L264.3 220.2 L260.3 218.7 M255.8 208.0 L258.4 211.1 L259.3 214.9 L260.3 218.7 M232.9 201.1 L234.5 205.0 L236.5 208.7 L238.6 212.3 M251.0 205.9 L247.6 206.8 L244.4 208.3 L241.2 209.7 L238.6 212.3 M231.4 215.4 L237.1 215.1 M238.6 212.3 L237.1 215.1 M172.9 514.0 L175.8 511.3 L178.8 509.0 L182.0 507.0 L185.7 505.6 M172.9 514.0 L170.8 511.4 L167.9 509.6 L166.5 506.3 L163.1 505.0 L162.4 504.0 M185.7 505.6 L185.9 502.3 L186.5 499.0 L186.7 495.7 L185.2 492.3 L185.6 489.0 M185.6 489.0 L182.3 488.7 L178.9 488.3 L175.5 488.6 L172.3 487.1 L168.9 487.2 L165.7 486.0 M161.3 498.4 L164.0 496.0 L165.0 492.8 L164.1 489.0 L165.7 486.0 M172.3 523.0 L172.6 518.5 L172.9 514.0 M195.4 509.4 L191.8 509.2 L189.1 506.4 L185.7 505.6 M193.7 482.0 L191.4 484.8 L188.4 486.8 L185.6 489.0 M162.1 479.1 L163.1 483.0 L165.7 486.0 M252.6 557.1 L254.9 559.6 L257.9 561.7 L259.6 564.7 L261.2 568.0 L263.0 571.0 L266.4 572.7 L268.4 575.6 M238.2 564.3 L239.8 567.6 L239.6 571.3 L239.5 574.9 L241.6 578.1 L241.7 581.6 L241.1 585.4 L242.7 588.6 L243.5 592.1 M243.5 592.1 L245.9 594.3 L248.8 595.8 L251.9 596.8 L254.8 598.1 M268.4 575.6 L268.6 579.1 L267.9 582.6 M254.8 598.1 L257.8 596.2 L259.7 593.4 L260.8 589.9 L263.2 587.5 L266.2 585.6 L267.9 582.6 M99.1 485.8 L96.5 488.0 L95.3 489.5 M254.3 794.8 L254.1 793.2 L253.8 789.3 M253.8 789.3 L251.3 788.3 M264.3 799.8 L263.8 796.3 L264.7 793.1 L265.9 790.0 M278.7 794.8 L275.3 791.5 L271.8 788.4 M265.9 790.0 L271.8 788.4 M253.8 789.3 L257.7 789.4 L260.9 787.3 M265.9 790.0 L260.9 787.3 M330.1 746.9 L326.6 743.6 L324.1 739.6 M328.2 755.8 L330.0 751.5 L330.1 747.0 M318.7 756.4 L316.6 753.0 L314.8 749.5 M324.1 739.6 L321.5 741.9 L318.7 743.9 L317.9 747.7 L314.8 749.5 M336.3 652.4 L333.8 652.6 M355.1 628.3 L353.5 625.7 L351.1 623.3 L349.8 620.3 M349.8 620.3 L345.8 620.2 L342.0 620.5 L338.1 621.2 M338.1 621.2 L335.0 623.1 L334.4 627.0 L331.5 629.0 L329.0 631.4 L327.8 634.8 L324.6 636.6 L322.9 639.6 M333.8 652.6 L331.6 649.9 L328.2 648.3 L326.7 644.8 L323.4 643.2 M323.4 643.2 L322.9 639.6 M278.0 524.4 L281.1 525.8 L284.7 524.6 L288.0 525.0 L291.0 527.0 L294.4 526.8 L297.7 527.3 M296.7 506.3 L298.3 509.3 L298.9 512.7 L300.9 515.5 L301.9 518.8 M301.9 518.8 L300.6 523.4 L297.7 527.3 M277.8 546.3 L281.2 546.1 L284.1 544.1 L287.5 544.3 M287.5 544.3 L290.5 541.8 L291.9 538.2 L294.7 535.6 L296.9 532.6 L298.2 528.9 M276.9 545.8 L277.8 546.3 M297.7 527.3 L298.2 528.9 M376.3 552.9 L381.5 550.1 M381.5 550.1 L381.1 546.7 L380.0 543.4 L380.3 540.0 L380.8 536.5 M365.9 534.8 L369.5 536.4 L373.4 535.3 L377.1 535.6 L380.8 536.5 M376.3 552.9 L373.1 552.4 L370.1 550.9 L367.0 550.1 L363.8 549.1 L360.6 548.7 M365.9 534.8 L361.7 538.8 M360.6 548.7 L360.8 545.4 L361.3 542.1 L361.7 538.8 M389.4 568.5 L385.6 567.5 L381.8 568.0 L378.0 568.4 L374.3 567.8 M389.4 568.5 L391.3 571.9 L392.6 575.6 L392.5 579.7 L394.2 583.3 M381.0 590.1 L378.5 587.3 L376.4 584.3 L375.7 580.6 L373.3 577.8 L371.4 574.7 L370.4 571.1 M381.0 590.1 L384.7 590.9 L388.4 590.9 L392.1 590.1 M370.4 571.1 L374.3 567.8 M392.1 590.1 L392.4 586.4 L394.2 583.3 M387.1 552.3 L387.7 556.3 L391.2 559.1 L391.9 563.0 M391.9 563.0 L389.4 568.5 M376.3 552.9 L374.7 556.4 L376.0 560.4 L375.4 564.1 L374.3 567.8 M381.5 550.1 L387.1 552.3 M369.0 571.1 L366.5 573.4 L363.3 575.0 L361.4 578.1 L358.3 579.8 L356.1 582.6 M369.0 571.1 L370.4 571.1 M372.8 595.2 L370.0 593.1 L367.3 591.0 L364.2 589.2 L362.3 586.0 L359.5 583.9 L356.1 582.6 M372.8 595.2 L375.3 593.0 L378.4 592.0 L381.0 590.1 M403.8 561.1 L404.2 557.0 L406.7 553.7 M403.8 561.1 L405.5 565.0 L408.8 567.9 L410.4 571.9 M412.5 551.1 L409.2 551.5 L406.7 553.7 M412.5 551.1 L415.4 553.0 L417.9 555.3 L419.4 558.8 L422.8 560.1 M422.5 563.1 L422.8 560.1 M422.5 563.1 L419.4 565.0 L416.7 567.4 L413.9 569.7 L411.2 572.1 M411.2 572.1 L410.4 571.9 M397.3 546.3 L399.8 549.5 L403.1 551.7 L406.7 553.7 M397.3 546.3 L393.9 548.3 L390.5 550.3 L387.1 552.3 M391.9 563.0 L396.0 563.2 L399.7 561.1 L403.8 561.1 M394.2 583.3 L397.2 581.9 L399.8 579.9 L402.1 577.4 L404.4 575.0 L407.2 573.2 L410.4 571.9 M436.3 547.2 L433.3 545.5 L429.9 544.4 L426.4 544.0 L423.3 542.4 L420.3 540.4 L416.7 540.0 M436.3 549.8 L433.0 551.1 L430.8 553.8 L427.8 555.5 L425.3 557.9 L422.8 560.1 M416.7 540.0 L414.8 543.5 L414.6 547.6 L412.5 551.1 M427.6 568.4 L427.1 567.7 L425.4 564.8 L422.5 563.1 M415.3 578.6 L414.5 577.8 L413.1 574.7 L411.2 572.1 M632.3 344.7 L634.5 347.2 L634.9 350.6 L636.6 353.3 M632.3 344.7 L635.6 342.1 L636.6 337.8 L639.5 335.0 M636.6 353.3 L639.6 350.8 L643.6 349.9 L646.4 347.2 M641.5 334.7 L639.5 335.0 M641.5 334.7 L644.5 338.1 L647.3 341.6 M647.3 341.6 L646.4 347.2 M623.8 344.7 L624.2 348.6 L624.0 352.4 L624.6 356.2 M623.8 344.7 L628.1 344.3 L632.3 344.7 M636.3 354.9 L636.6 353.3 M626.9 357.5 L624.6 356.2 M621.2 343.3 L623.8 344.7 M625.4 327.6 L628.7 329.8 L632.6 330.9 L635.8 333.4 L639.5 335.0 M652.8 357.4 L651.5 353.5 L649.0 350.3 L646.4 347.2 M647.1 325.4 L645.7 328.8 L643.7 331.8 L641.5 334.7 M659.9 341.2 L655.7 341.9 L651.5 341.9 L647.3 341.6 M614.2 376.4 L610.0 378.5 L605.4 379.3 M614.2 376.4 L618.8 380.7 M618.7 387.1 L618.8 380.7 M618.7 387.1 L614.9 387.3 L612.4 388.4 M605.9 388.1 L605.8 387.9 L603.4 385.0 M603.4 385.0 L605.4 379.3 M620.4 388.8 L618.7 387.1 M625.5 377.7 L621.9 378.6 L618.8 380.7 M598.7 386.0 L603.4 385.0 M599.8 371.2 L602.2 373.5 L603.4 376.7 L605.4 379.3 M613.5 355.7 L617.6 358.2 M613.5 355.7 L609.4 357.4 L606.6 360.9 M617.6 358.2 L618.7 362.9 L617.7 367.6 M606.6 360.9 L606.5 365.5 M606.5 365.5 L610.8 367.3 L614.8 369.9 M614.8 369.9 L617.7 367.6 M611.5 346.4 L613.3 350.9 L613.5 355.7 M624.6 356.2 L620.8 356.1 L617.6 358.2 M600.2 356.1 L603.8 358.0 L606.6 360.9 M627.6 368.7 L624.4 367.5 L621.1 366.8 L617.7 367.6 M599.9 370.6 L602.5 367.1 L606.5 365.5 M614.2 376.4 L613.5 373.1 L614.8 369.9 M457.7 372.0 L456.6 375.1 L457.2 378.5 L455.8 381.6 M468.0 367.6 L464.3 368.4 L461.5 371.4 L457.7 372.0 M470.1 372.3 L468.0 367.6 M470.1 372.3 L469.1 376.3 L467.5 380.2 M467.5 380.2 L463.7 381.7 L459.7 381.1 L455.8 381.6 M466.8 350.5 L471.6 351.0 L475.7 353.5 M466.8 350.5 L462.5 354.9 M462.4 358.9 L462.5 354.9 M462.4 358.9 L465.9 362.0 L468.3 366.1 M468.3 366.1 L471.2 363.3 L474.5 361.1 L478.5 360.1 M478.5 360.1 L476.4 357.1 L475.7 353.5 M466.9 345.1 L467.0 347.1 L466.8 350.5 M476.7 350.3 L475.7 353.5 M450.3 347.9 L453.4 349.6 L456.0 352.2 L459.8 352.5 L462.5 354.9 M453.3 343.1 L451.7 344.9 L450.3 347.9 M468.0 367.6 L468.3 366.1 M450.6 364.1 L453.3 362.3 L456.9 362.4 L459.8 360.9 L462.4 358.9 M457.7 372.0 L455.5 369.2 L453.1 366.6 L450.6 364.1 M481.6 375.7 L483.8 374.8 M481.6 375.7 L477.5 375.6 L474.1 372.9 L470.1 372.3 M479.5 360.4 L478.5 360.1 M520.0 368.2 L519.2 368.0 M520.0 368.2 L519.1 371.5 L520.4 374.7 L520.3 377.9 L520.9 381.1 L521.6 384.4 L520.0 387.7 L520.9 390.9 M519.2 368.0 L515.8 368.6 L513.4 371.5 L510.2 372.5 L506.8 373.1 M506.8 373.1 L505.1 377.1 L503.0 380.9 M515.1 392.3 L520.9 390.9 M515.1 392.3 L512.8 389.1 L509.1 387.8 L506.3 385.2 L503.4 382.8 M503.4 382.8 L503.0 380.9 M527.8 366.1 L524.6 367.3 L520.0 368.2 M511.9 355.8 L513.8 357.7 L516.0 360.9 L517.1 364.8 L519.2 368.0 M526.1 393.0 L520.9 390.9 M496.2 363.5 L498.6 366.2 L502.3 367.4 L503.4 371.4 L506.8 373.1 M488.8 377.2 L487.7 375.7 M488.8 377.2 L492.1 379.1 L496.0 378.6 L499.5 379.9 L503.0 380.9 M507.7 402.6 L508.7 405.8 L510.2 408.8 M507.7 402.6 L511.0 399.8 L513.2 396.2 L515.1 392.3 M500.2 401.3 L497.8 398.9 L497.3 395.4 L495.4 392.7 M495.4 392.7 L497.5 388.9 L500.3 385.8 L503.4 382.8 M507.7 402.6 L504.1 401.2 L500.2 401.3 M487.6 391.2 L491.6 391.2 L495.4 392.7 M488.8 377.2 L487.7 380.6 L487.6 384.2 L487.9 387.7 L487.6 391.2 M328.8 306.1 L331.3 308.9 L332.0 312.6 M319.3 316.5 L323.3 316.8 L326.5 319.2 M326.5 319.2 L329.6 316.2 L332.0 312.6 M342.9 307.1 L341.4 310.7 L340.3 314.4 M332.0 312.6 L336.3 312.7 L340.3 314.4 M351.6 317.2 L352.2 320.5 L353.8 323.3 L356.1 325.8 M351.6 317.2 L348.2 317.1 L344.8 316.9 L341.4 316.7 M353.9 328.1 L356.1 325.8 M353.9 328.1 L350.3 327.1 L346.6 326.9 L342.8 327.4 L339.1 326.5 M339.1 326.5 L339.9 323.2 L339.9 319.8 L341.4 316.7 M351.6 317.2 L353.6 312.9 L356.0 308.8 M340.3 314.4 L341.4 316.7 M312.8 345.8 L315.2 343.0 L318.1 340.7 M312.8 345.8 L307.9 345.6 M307.9 345.6 L304.4 342.7 M318.1 340.7 L316.0 337.2 L315.8 332.8 L313.7 329.3 M304.4 342.7 L303.7 338.2 M303.7 338.2 L306.7 335.7 L308.1 331.9 L311.3 329.6 M311.3 329.6 L313.7 329.3 M328.9 350.9 L327.1 347.8 L327.9 344.3 L327.0 341.0 M328.9 350.9 L325.4 353.0 L321.7 354.3 L317.8 354.9 M327.0 341.0 L322.5 341.8 L318.1 340.7 M317.8 354.9 L316.9 351.4 L314.2 349.0 L312.8 345.8 M293.5 347.0 L290.9 344.6 L287.4 343.5 M293.5 347.0 L296.7 344.6 L300.6 343.9 L304.4 342.7 M295.9 332.2 L297.8 335.1 L301.3 336.0 L303.7 338.2 M303.4 324.9 L308.0 326.2 L311.3 329.6 M314.3 328.6 L313.7 325.3 L314.0 322.1 L315.6 319.0 M314.3 328.6 L313.7 329.3 M332.6 354.0 L333.4 359.6 M333.4 359.6 L331.7 363.1 M315.3 362.5 L317.3 358.9 L317.8 354.9 M315.3 362.5 L315.8 363.8 M328.9 350.9 L332.6 354.0 M315.8 363.8 L316.0 363.9 M331.7 363.1 L327.8 363.3 L323.8 363.3 L319.9 364.1 L316.0 363.9 M363.7 367.3 L362.3 366.3 M362.3 366.3 L358.3 366.3 M349.7 381.5 L354.9 384.1 M354.9 384.1 L358.8 383.1 L362.4 381.3 L366.0 379.6 M367.5 375.7 L366.0 379.6 M363.7 367.3 L366.0 371.3 L367.5 375.7 M349.7 381.5 L348.2 378.2 M358.3 366.3 L355.9 369.3 L353.0 372.0 L351.4 375.7 L348.2 378.2 M332.6 354.0 L335.1 351.4 L338.3 349.9 L341.1 347.9 L344.5 346.9 M333.4 359.6 L336.6 360.2 L340.0 359.7 L342.8 361.8 L346.1 361.7 M344.5 346.9 L348.1 349.0 L350.0 352.6 M350.0 352.6 L350.9 356.2 L349.5 359.6 M349.5 359.6 L346.1 361.7 M364.9 319.1 L364.2 322.5 L361.8 325.1 M364.9 319.1 L369.3 317.8 L373.7 316.9 M361.8 325.1 L364.8 328.8 L368.4 331.8 M368.4 331.8 L370.8 329.6 L374.3 328.9 L376.7 326.6 L379.2 324.4 M373.7 316.9 L377.3 320.0 L379.2 324.4 M361.1 310.5 L363.8 314.4 L364.9 319.1 M356.1 325.8 L361.8 325.1 M373.8 314.4 L373.7 316.9 M386.2 318.0 L384.4 319.4 L382.9 322.7 L380.1 324.6 M380.1 324.6 L379.2 324.4 M393.6 322.2 L394.9 325.6 L397.4 328.5 M401.8 327.0 L401.3 327.7 L397.4 328.5 M352.9 336.7 L357.2 338.7 L360.9 341.7 M352.9 336.7 L354.2 332.5 L353.9 328.1 M368.4 331.8 L369.6 335.2 L368.9 338.7 M368.9 338.7 L365.1 340.9 L360.9 341.7 M350.0 352.6 L354.3 351.9 L358.1 349.9 M344.3 341.7 L344.5 346.9 M344.3 341.7 L347.0 339.8 L350.3 338.9 L352.9 336.7 M360.9 341.7 L359.6 345.8 L358.1 349.9 M358.3 366.3 L354.7 365.0 L352.4 361.9 L349.5 359.6 M362.3 366.3 L363.4 362.4 L362.6 358.3 L363.8 354.5 M358.1 349.9 L361.6 351.4 L363.8 354.5 M434.0 328.8 L432.6 330.5 M429.7 329.1 L432.6 330.5 M443.9 335.3 L440.6 336.1 L439.1 339.2 M432.6 330.5 L433.3 334.1 L433.9 337.6 M439.1 339.2 L433.9 337.6 M407.8 435.1 L406.1 432.2 L403.4 430.0 L400.7 428.0 L398.4 425.6 M416.0 417.8 L412.6 416.3 L409.2 414.8 L405.3 415.1 L401.7 414.0 M417.9 423.2 L416.0 417.8 M401.7 414.0 L399.8 417.6 L398.5 421.4 L398.4 425.6 M376.0 374.8 L378.3 378.3 L382.1 380.5 L384.0 384.3 M367.5 375.7 L371.7 374.7 L376.0 374.8 M366.0 379.6 L367.0 383.5 L369.6 386.6 L371.7 389.9 M384.0 384.3 L380.9 385.7 L378.1 387.6 L374.8 388.7 L371.7 389.9 M358.0 397.7 L358.4 394.1 L355.5 391.2 L355.9 387.5 L354.9 384.1 M358.0 397.7 L361.2 397.0 L364.2 395.9 L367.2 394.4 L370.6 394.5 M370.6 394.5 L371.7 389.9 M415.8 378.9 L416.9 375.6 L416.1 372.3 L416.2 368.9 M415.8 378.9 L412.3 381.0 L408.7 382.7 L404.8 383.6 M401.1 373.9 L401.7 378.4 L403.2 382.6 M401.1 373.9 L404.4 371.5 L408.1 370.3 L412.0 369.5 L415.6 368.1 M415.6 368.1 L416.2 368.9 M403.2 382.6 L404.8 383.6 M426.9 381.3 L426.9 376.6 L426.2 372.0 M422.5 383.3 L426.9 381.3 M422.5 383.3 L419.2 381.1 L415.8 378.9 M426.2 372.0 L422.6 371.7 L419.3 370.7 L416.2 368.9 M420.2 389.6 L416.7 391.0 L412.8 390.4 L409.3 392.1 M409.3 392.1 L407.3 389.5 L405.3 386.9 L404.8 383.6 M422.5 383.3 L421.7 386.6 L420.2 389.6 M428.8 357.1 L425.4 357.0 M428.8 357.1 L430.0 360.6 L430.1 364.3 L430.8 367.9 M425.4 357.0 L422.1 358.6 L421.2 362.5 L418.7 364.8 L415.6 366.6 M430.8 367.9 L426.2 372.0 M415.6 366.6 L415.6 368.1 M256.5 443.3 L259.3 444.9 M272.4 414.7 L267.2 412.6 M274.7 416.9 L274.4 420.3 L272.3 423.4 L273.0 427.1 L271.8 430.4 L269.9 433.5 L270.1 437.0 M274.7 416.9 L272.4 414.7 M270.1 437.0 L267.4 439.1 L265.0 441.4 L262.4 443.6 L259.3 444.9 M246.0 469.1 L248.1 466.0 L251.4 464.2 L253.3 461.0 L255.0 457.6 L257.9 455.3 L260.5 452.8 M259.3 444.9 L260.4 448.8 L260.5 452.8 M261.9 486.5 L264.7 484.0 L265.8 480.5 L266.6 476.8 L269.3 474.3 L270.9 471.1 L272.9 468.1 L275.1 465.3 M260.5 452.8 L263.0 454.9 L265.0 457.4 L268.5 458.3 L270.4 460.9 L273.1 462.8 L275.1 465.3 M288.9 483.0 L288.1 479.9 L285.6 477.4 L284.8 474.2 L283.4 471.3 L283.1 467.9 L280.9 465.3 M280.9 465.3 L275.1 465.3 M267.8 383.5 L271.9 381.9 L276.3 382.7 L280.5 382.1 M267.8 383.5 L268.5 387.9 L266.9 392.0 M266.9 392.0 L270.7 393.9 L274.9 393.8 L279.0 394.7 M280.5 382.1 L280.4 386.0 L280.5 389.9 L280.2 393.9 M279.0 394.7 L280.2 393.9 M266.2 381.4 L267.8 383.5 M261.6 397.2 L264.5 394.9 L266.9 392.0 M272.4 414.7 L274.5 411.7 L275.2 408.2 L274.6 404.4 L276.9 401.4 L277.9 398.0 L279.0 394.7 M282.5 347.4 L281.3 351.6 L282.5 355.8 M271.4 358.4 L275.1 358.8 L278.7 359.3 M282.5 355.8 L278.7 359.3 M478.4 429.7 L481.2 431.5 L483.2 434.3 L486.8 435.0 L488.7 438.0 M478.4 429.7 L474.2 431.7 L469.7 432.3 M484.6 449.1 L486.8 445.7 L488.2 442.0 L488.7 438.0 M484.6 449.1 L480.9 447.4 L476.7 448.4 L472.7 448.0 L468.9 446.4 M468.9 446.4 L468.9 442.9 L468.2 439.3 L469.9 435.9 L469.7 432.3 M435.6 420.3 L438.8 421.9 L442.4 421.6 L445.7 422.7 L448.9 424.0 M448.9 424.0 L449.2 428.2 L450.5 432.2 M438.1 437.3 L441.5 437.2 L444.1 434.9 L447.5 434.5 L450.2 432.7 M429.2 428.4 L430.7 425.2 L434.4 423.7 L435.6 420.3 M450.5 432.2 L450.2 432.7 M438.0 448.7 L438.7 449.5 M450.2 432.7 L450.8 435.8 L452.7 438.7 L453.3 441.9 L454.2 445.0 L453.8 448.4 M438.7 449.5 L442.5 449.4 L446.2 448.3 L450.0 447.9 L453.8 448.4 M427.9 464.1 L431.1 464.4 L434.3 464.3 L437.4 463.2 M420.4 454.6 L423.6 457.3 L426.0 460.5 L427.9 464.1 M420.4 454.6 L420.9 450.9 L422.8 447.7 M438.7 449.5 L438.2 452.9 L439.1 456.4 L436.8 459.7 L437.4 463.2 M436.8 546.5 L437.0 542.8 L435.4 539.3 L434.3 535.8 L434.2 532.1 L433.7 528.5 L433.4 524.8 M416.7 540.0 L415.7 537.2 M415.7 537.2 L418.2 534.4 L420.2 531.3 L422.0 528.1 L423.4 524.6 M423.4 524.6 L426.6 523.5 L429.9 523.4 M429.9 523.4 L433.4 524.8 M532.8 481.4 L532.9 481.2 L536.2 479.3 L538.6 476.6 M540.6 476.7 L543.2 478.9 L544.7 481.9 L544.9 482.1 M540.6 476.7 L538.6 476.6 M549.1 467.2 L546.7 468.9 L544.2 471.1 L543.5 474.9 L540.6 476.7 M534.5 457.7 L531.7 459.8 L530.8 463.2 L528.6 465.7 M528.6 465.7 L530.8 468.7 L533.4 471.3 L536.9 473.2 L538.6 476.6 M520.3 444.2 L518.1 447.3 L516.1 450.5 L515.0 454.1 L513.8 457.7 L512.0 461.0 M528.6 465.7 L524.6 465.1 L520.9 466.5 L517.0 466.9 M512.0 461.0 L515.0 463.6 L517.0 466.9 M515.3 478.7 L515.2 478.6 M517.0 466.9 L516.1 470.8 L516.2 474.8 L515.2 478.6 M496.1 499.2 L498.9 501.0 L500.4 501.7 M496.1 499.2 L497.8 496.0 L497.9 495.9 M499.5 490.3 L499.7 489.2 L499.6 485.4 L501.4 482.3 M515.2 478.6 L511.5 478.7 L508.6 481.5 L504.9 481.5 L501.4 482.3 M391.7 448.0 L388.4 447.9 L385.4 446.5 L382.5 444.5 L379.2 444.3 L375.8 444.3 L372.7 443.2 M391.7 448.0 L391.6 444.8 L391.4 441.6 L390.2 438.5 L389.9 435.3 L388.2 432.3 L388.3 429.1 M388.3 429.1 L385.8 427.9 M385.8 427.9 L382.7 430.2 L378.5 429.8 L375.5 432.3 M375.5 432.3 L373.7 435.6 L373.0 439.3 L372.7 443.0 M372.7 443.2 L372.7 443.0 M382.5 416.6 L382.6 420.7 L384.2 424.3 L385.8 427.9 M373.2 412.6 L376.2 414.3 L379.8 414.4 L382.5 416.6 M366.7 423.6 L369.0 427.2 L371.9 430.1 L375.5 432.3 M368.7 414.8 L367.8 419.2 L366.7 423.6 M373.2 412.6 L368.7 414.8 M359.6 427.8 L363.1 425.6 L366.7 423.6 M357.6 438.5 L357.2 434.7 L358.4 431.3 L359.6 427.8 M357.6 438.5 L361.7 438.8 L365.4 440.1 L368.8 442.3 L372.7 443.0 M372.7 443.2 L372.2 446.4 L371.5 449.7 L369.8 452.6 M349.1 444.2 L349.8 447.8 L351.7 451.1 L351.6 454.9 L353.2 458.3 M349.1 444.2 L351.5 441.5 L354.4 439.8 L357.6 438.5 M369.8 452.6 L366.2 453.0 L363.2 455.1 L359.6 455.4 L356.3 456.4 L353.2 458.3 M408.1 438.1 L406.1 441.7 L403.3 444.6 L400.3 447.4 M420.4 454.6 L417.6 456.8 L413.7 455.8 L410.9 458.0 M410.9 458.0 L408.6 455.0 L405.4 452.9 L402.8 450.2 L400.3 447.4 M398.4 425.6 L395.3 427.6 L391.7 427.9 L388.3 429.1 M391.7 448.0 L392.7 449.0 M400.3 447.4 L396.6 449.0 L392.7 449.0 M251.5 228.3 L251.6 227.9 M251.5 228.3 L249.2 231.2 L245.7 232.2 L242.5 233.8 L239.8 236.0 M251.6 227.9 L248.2 226.1 L245.2 223.6 L241.3 222.6 L238.7 219.7 M239.8 236.0 L238.2 235.9 M238.2 235.9 L235.7 232.3 L234.3 228.2 M234.3 228.2 L235.9 225.5 L237.5 222.7 L238.7 219.7 M256.4 238.9 L255.2 235.2 L253.0 231.9 L251.5 228.3 M260.3 218.7 L257.5 221.8 L254.5 224.8 L251.6 227.9 M246.1 246.1 L243.2 243.2 L242.3 239.2 L239.8 236.0 M237.1 215.1 L238.7 219.7 M230.5 242.0 L233.8 240.8 L235.4 237.6 L238.2 235.9 M225.2 229.3 L229.7 228.4 L234.3 228.2 M201.0 645.8 L204.5 644.8 L207.6 642.6 L211.1 641.6 L214.8 640.9 L217.7 638.6 M217.7 638.6 L219.5 639.8 M219.5 639.8 L218.8 643.2 L220.2 646.3 L220.8 649.4 L222.0 652.5 L220.8 656.0 L223.0 658.9 L222.6 662.2 M222.6 662.2 L217.2 664.9 M201.0 645.8 L199.2 650.1 L199.4 654.8 M199.4 654.8 L201.9 657.2 L205.6 657.7 L208.3 659.9 L210.9 662.2 L214.5 662.8 L217.2 664.9 M223.9 693.0 L221.7 690.5 L218.6 689.4 L215.3 688.4 L213.3 685.7 L210.1 684.6 L208.1 681.9 M223.9 693.0 L222.9 696.3 L221.8 699.6 L219.5 702.3 L218.8 705.8 L216.3 708.4 M216.3 708.4 L216.1 708.4 M208.1 681.9 L207.5 682.0 M217.2 664.9 L216.8 668.3 L213.8 670.4 L212.5 673.3 L210.3 675.8 L209.2 678.8 L208.1 681.9 M199.4 654.8 L197.7 656.0 M285.2 645.6 L281.8 646.2 L278.8 648.0 L275.7 649.5 L272.2 650.0 M285.2 645.6 L286.8 642.6 L286.2 639.2 L287.9 636.3 L287.5 632.9 M272.2 650.0 L270.0 647.6 L268.3 644.8 L267.4 641.6 L264.2 639.9 L262.3 637.2 L261.5 633.9 L259.4 631.5 M287.5 632.9 L284.7 630.6 L283.3 627.2 L281.6 624.0 L278.9 621.6 L277.0 618.5 L274.8 615.7 M274.8 615.7 L272.2 618.3 L269.7 621.0 L267.3 623.8 L264.1 625.8 L262.6 629.5 L259.4 631.5 M255.2 599.7 L257.8 602.1 L260.1 604.9 L263.9 605.7 L266.5 608.1 L268.6 611.3 L272.2 612.3 L274.8 614.8 M255.2 599.7 L254.1 602.8 L251.2 604.9 L250.5 608.2 L249.3 611.2 L246.6 613.4 L245.9 616.8 L243.4 619.0 L242.2 622.0 M242.2 622.0 L243.7 626.2 L244.8 630.5 M244.8 630.5 L248.4 631.6 L252.1 630.4 L255.8 630.6 L259.4 631.5 M274.8 614.8 L274.8 615.7 M245.9 775.4 L246.0 771.8 L244.3 769.8 M239.5 753.0 L241.6 752.1 M240.3 755.4 L241.6 752.1 M228.2 692.5 L230.7 695.1 L232.7 698.0 L233.1 701.9 L234.6 705.1 L236.9 707.8 M223.9 693.0 L228.2 692.5 M216.3 708.4 L218.4 711.7 L221.9 713.4 L224.9 715.6 M224.9 715.6 L227.9 713.6 L230.4 711.0 L234.5 710.7 L236.9 707.8 M373.2 612.8 L371.1 611.0 L369.2 608.4 M349.8 620.3 L349.8 620.1 M349.8 620.1 L352.4 618.0 L355.9 617.7 L357.9 614.7 L360.7 613.0 L363.8 612.1 L366.4 610.1 L369.2 608.4 M268.4 575.6 L271.2 573.7 L274.4 572.3 L277.3 570.5 L280.8 570.0 L283.8 568.4 M277.8 546.3 L278.1 549.8 L280.7 552.3 L281.6 555.5 L283.9 558.2 L284.1 561.7 L285.4 564.7 M283.8 568.4 L285.4 564.7 M322.9 639.6 L319.9 636.7 L317.9 632.8 L315.0 629.8 M298.6 655.7 L301.8 654.4 L305.2 653.3 L307.6 650.3 L311.0 649.3 L313.8 647.2 L317.1 646.0 L320.4 644.9 L323.4 643.2 M287.5 632.9 L290.5 630.8 L294.1 629.8 L297.4 628.4 L300.0 625.5 L303.7 624.8 M298.6 655.7 L296.6 652.8 L293.5 651.4 L290.3 650.0 L287.6 648.0 L285.2 645.6 M303.7 624.8 L307.4 626.7 L311.6 627.3 L315.0 629.8 M349.8 620.1 L349.2 616.6 L348.9 613.1 L349.6 609.5 L349.3 606.0 L347.9 602.6 L347.6 599.1 M368.7 603.2 L365.5 601.8 L362.1 601.0 L358.6 601.2 L355.3 599.9 L352.1 598.9 L348.6 598.5 M369.2 608.4 L368.7 603.2 M348.6 598.5 L347.6 599.1 M372.8 595.2 L371.4 599.5 L368.7 603.2 M356.1 582.6 L355.3 582.7 M348.6 598.5 L349.8 595.3 L350.2 591.7 L351.7 588.6 L354.6 586.1 L355.3 582.7 M346.0 525.8 L345.1 528.9 M346.0 525.8 L348.6 522.7 L351.7 520.1 L356.0 519.2 L358.4 515.8 M361.7 538.8 L358.9 537.2 L355.9 535.9 L353.6 533.4 L350.1 533.0 L347.8 530.7 L345.1 528.9 M365.9 534.8 L366.2 531.0 L366.9 527.2 L366.3 523.4 M366.3 523.4 L363.5 521.1 L361.2 518.3 L358.4 515.8 M356.6 504.4 L358.8 508.4 M356.6 504.4 L353.1 504.9 L349.5 504.9 L346.1 506.3 L342.7 507.0 L339.1 507.3 L335.7 508.1 M346.0 525.8 L343.6 523.3 L342.7 519.9 L340.1 517.4 L339.2 514.0 L337.5 511.0 L335.7 508.1 M358.8 508.4 L359.3 512.1 L358.4 515.8 M328.7 526.0 L329.1 522.5 L328.5 519.0 L328.3 515.5 L329.3 512.1 L328.2 508.6 L328.4 505.1 M328.7 526.0 L325.7 529.6 L321.4 531.7 M321.4 531.7 L319.1 529.2 L318.2 525.9 L315.4 523.9 L314.1 520.8 L312.5 517.9 M312.5 517.9 L314.5 515.1 L317.3 513.2 L319.8 510.8 L322.0 508.3 L324.8 506.2 L326.9 503.6 M326.9 503.6 L328.4 505.1 M345.1 528.9 L344.1 529.6 M344.1 529.6 L340.4 527.8 L336.4 527.8 L332.4 527.6 L328.7 526.0 M335.7 508.1 L331.9 507.0 L328.4 505.1 M301.9 518.8 L305.5 518.9 L308.9 517.9 L312.5 517.9 M324.9 496.4 L321.3 496.8 L317.6 497.0 L313.9 496.2 L310.3 497.6 L306.6 498.1 L302.9 497.7 M324.9 496.4 L326.7 499.7 L326.9 503.6 M369.0 571.1 L366.3 568.4 L363.0 566.4 L359.9 564.1 L358.0 560.7 M355.3 582.7 L353.3 579.7 L350.2 578.1 L346.8 576.9 L344.5 574.2 M344.5 574.2 L344.2 569.8 M358.0 560.7 L355.3 562.6 L352.1 563.8 L350.1 566.8 L347.1 568.2 L344.2 569.8 M360.6 548.7 L359.1 550.2 M358.0 560.7 L358.0 557.1 L359.0 553.7 L359.1 550.2 M468.0 395.8 L469.3 392.8 L471.1 389.9 L473.0 387.1 M468.0 395.8 L471.6 397.6 L474.3 400.7 L478.5 401.4 L481.3 404.5 M486.8 391.6 L485.3 394.8 L484.7 398.4 L483.1 401.5 L481.3 404.5 M486.8 391.6 L482.7 390.4 L478.9 388.4 L475.1 386.5 M475.1 386.5 L473.0 387.1 M481.6 375.7 L478.6 378.7 L476.6 382.5 L475.1 386.5 M487.6 391.2 L486.8 391.6 M467.5 380.2 L470.5 383.5 L473.0 387.1 M479.2 411.2 L481.9 406.6 M479.2 411.2 L480.2 415.2 L480.6 419.3 L482.5 423.1 M481.9 406.6 L485.3 406.5 L488.7 406.8 L491.8 408.4 M491.8 408.4 L493.9 411.6 L494.3 415.7 L495.9 419.2 L498.3 422.2 M482.5 423.1 L486.3 421.9 L490.4 423.9 L494.3 423.5 L498.2 422.4 M498.3 422.2 L498.2 422.4 M469.5 432.2 L469.7 432.3 M478.4 429.7 L480.1 426.2 L482.5 423.1 M463.8 415.4 L465.6 418.6 L466.7 421.9 L468.3 425.1 L467.4 429.2 L469.5 432.2 M463.8 415.4 L467.5 413.8 L471.7 414.0 L475.6 413.1 L479.2 411.2 M481.3 404.5 L481.9 406.6 M500.2 401.3 L496.8 402.9 L494.1 405.4 L491.8 408.4 M504.4 421.4 L498.3 422.2 M494.7 435.9 L488.7 438.0 M494.7 435.9 L496.4 432.7 L495.9 429.0 L498.4 426.1 L498.2 422.4 M494.7 435.9 L498.1 439.0 L501.9 441.4 M512.1 437.5 L508.6 438.6 L505.0 439.4 L501.9 441.4 M325.8 328.7 L328.9 325.3 M325.8 328.7 L325.5 332.8 L326.4 336.8 L327.1 340.9 M328.9 325.3 L332.2 325.9 L335.6 325.7 L338.9 326.8 M338.9 326.8 L339.6 330.2 L339.9 333.6 L339.0 337.1 M339.0 337.1 L334.8 337.7 L331.2 339.8 L327.1 340.9 M314.3 328.6 L318.1 329.5 L321.9 328.4 L325.8 328.7 M326.5 319.2 L328.2 322.0 L328.9 325.3 M327.0 341.0 L327.1 340.9 M339.1 326.5 L338.9 326.8 M344.3 341.7 L341.8 339.2 L339.0 337.1 M332.6 367.7 L330.6 371.6 L327.7 374.8 M332.6 367.7 L336.1 369.6 L339.5 371.7 L342.8 373.8 M343.3 375.0 L342.8 373.8 M343.3 375.0 L340.5 377.9 L336.2 378.5 L333.7 381.9 L330.2 383.7 M330.2 383.7 L329.5 379.1 L327.7 374.8 M331.7 363.1 L332.6 367.7 M316.0 363.9 L316.7 368.4 L319.1 372.2 M319.1 372.2 L323.1 374.5 L327.7 374.8 M346.1 361.7 L344.5 365.6 L342.8 369.5 L342.8 373.8 M348.2 378.2 L343.3 375.0 M349.7 381.5 L346.4 383.7 L343.9 386.7 L341.7 389.9 L339.7 393.3 M330.0 384.4 L333.1 385.9 L334.1 389.6 L337.0 391.3 L339.7 393.3 M330.0 384.4 L330.2 383.7 M421.3 329.8 L420.0 331.5 L420.6 335.6 L419.2 339.3 M408.6 329.4 L409.1 331.1 L410.9 334.6 L412.4 338.3 M412.4 338.3 L415.7 339.1 L419.2 339.3 M433.9 337.6 L428.7 340.8 M428.7 340.8 L424.4 339.4 L419.9 339.9 M419.2 339.3 L419.9 339.9 M425.4 357.0 L421.4 354.8 L418.3 351.5 M430.5 355.8 L430.0 352.1 L430.5 348.2 L430.3 344.4 L428.7 340.8 M430.5 355.8 L428.8 357.1 M419.9 339.9 L419.8 343.8 L418.2 347.5 L418.3 351.5 M431.9 355.6 L435.0 353.5 L437.2 350.3 L441.0 349.1 L443.5 346.2 M431.9 355.6 L434.9 357.1 L438.1 358.4 L440.5 361.2 L443.6 362.5 L446.9 363.5 M446.9 363.5 L447.1 363.3 M447.1 363.3 L447.7 359.6 L448.2 355.9 L447.7 352.1 L449.0 348.5 M449.0 348.5 L443.5 346.2 M430.5 355.8 L431.9 355.6 M439.1 339.2 L441.8 342.4 L443.5 346.2 M441.5 372.3 L438.3 370.0 L434.2 369.8 L430.8 367.9 M441.5 372.3 L442.5 368.8 L444.1 365.8 L446.9 363.5 M450.3 347.9 L449.0 348.5 M450.6 364.1 L447.1 363.3 M416.0 417.8 L418.9 415.6 L420.1 412.2 L421.0 408.6 L423.6 406.2 M435.6 420.3 L436.0 416.1 L434.7 412.0 M434.7 412.0 L431.3 409.5 L427.1 408.4 L423.6 406.2 M407.9 399.5 L410.6 401.8 L414.3 401.8 L417.6 402.8 L420.1 405.6 L423.6 406.0 M409.3 392.1 L407.5 395.6 L407.9 399.5 M420.2 389.6 L422.4 392.4 L423.9 395.6 L426.1 398.3 M426.1 398.3 L424.0 401.9 L423.6 406.0 M457.8 392.7 L461.6 395.1 L465.8 396.5 M457.8 392.7 L455.3 395.5 L451.1 395.5 L449.3 399.3 L445.7 400.3 M465.8 396.5 L464.8 399.9 L464.4 403.5 L463.7 407.0 L463.0 410.6 L460.9 413.7 M445.7 400.3 L445.7 403.9 M445.7 403.9 L447.7 407.0 L451.0 408.9 L452.9 412.2 L456.2 414.0 M460.9 413.7 L456.2 414.0 M455.5 381.9 L455.8 381.6 M455.5 381.9 L455.2 385.7 L457.2 389.1 L457.8 392.7 M468.0 395.8 L465.8 396.5 M463.8 415.4 L460.9 413.7 M434.7 412.0 L437.9 410.6 L440.3 408.2 L443.3 406.4 L445.7 403.9 M448.9 424.0 L451.5 420.7 L453.7 417.2 L456.2 414.0 M469.5 432.2 L465.7 432.0 L461.9 431.3 L458.1 432.7 L454.3 431.1 L450.5 432.2 M368.9 338.7 L370.2 339.7 M363.8 354.5 L367.6 354.1 L371.3 353.1 L374.4 350.7 M370.2 339.7 L370.6 343.8 L371.9 347.5 L374.4 350.7 M392.0 388.8 L388.5 388.1 M392.0 388.8 L393.2 392.4 L394.0 396.1 L397.2 398.8 L397.6 402.7 L399.4 406.0 M388.5 388.1 L385.9 390.6 L385.6 394.3 L384.3 397.5 L381.9 400.1 M381.9 400.1 L385.2 402.0 L388.7 403.5 L392.2 405.2 L395.0 407.9 M395.0 407.9 L398.6 407.6 M399.4 406.0 L398.6 407.6 M384.8 384.4 L388.5 388.1 M391.1 370.8 L389.7 374.2 L388.3 377.7 L386.3 381.0 L384.8 384.4 M398.9 371.6 L395.0 371.3 L391.1 370.8 M398.9 371.6 L401.1 373.9 M403.2 382.6 L400.5 384.4 L397.2 385.1 L395.3 388.2 L392.0 388.8 M407.9 399.5 L404.8 401.3 L402.7 404.4 L399.4 406.0 M376.2 401.3 L373.2 398.1 L370.6 394.5 M384.8 384.4 L384.0 384.3 M376.2 401.3 L381.9 400.1 M382.5 416.6 L385.1 413.7 L388.2 411.5 L391.7 409.8 L395.0 407.9 M373.2 412.6 L373.9 408.8 L374.8 405.0 L376.2 401.3 M401.7 414.0 L399.9 410.9 L398.6 407.6 M423.6 406.2 L423.6 406.0 M282.5 355.8 L286.8 357.0 L290.5 359.7 M293.5 347.0 L294.8 350.1 L295.2 353.4 M290.5 359.7 L293.7 357.2 L295.2 353.4 M307.9 345.6 L307.3 349.6 L305.8 353.3 L303.7 356.8 M295.2 353.4 L299.9 354.1 L303.7 356.8 M315.3 362.5 L311.5 361.5 L308.0 359.6 L304.3 358.2 M303.7 356.8 L304.3 358.2 M280.5 382.1 L280.6 382.0 M267.6 370.0 L271.5 369.4 L275.0 370.8 L278.7 371.6 M280.6 382.0 L280.3 378.4 L279.9 374.9 L278.7 371.6 M278.7 359.3 L279.6 362.6 L280.4 365.8 L280.9 369.2 M278.7 371.6 L280.9 369.2 M427.9 464.1 L426.0 466.9 L423.9 469.6 L422.4 472.6 L420.2 475.2 M437.4 463.2 L440.3 465.3 L442.2 468.5 L445.4 470.2 M445.4 470.2 L444.9 474.0 L443.2 477.2 L441.2 480.3 M420.2 475.2 L421.1 479.3 L424.6 482.1 L425.8 486.0 M441.2 480.3 L438.3 481.9 L434.7 481.5 L431.8 483.3 L429.2 485.6 L425.8 486.0 M414.1 508.6 L411.7 505.4 L410.4 501.5 L407.5 498.7 M408.8 493.5 L407.5 498.7 M414.1 508.6 L417.5 507.8 L420.7 506.3 L423.9 504.6 L426.8 502.4 L430.4 501.9 M408.8 493.5 L412.4 492.9 L415.6 491.4 L419.1 490.7 L421.9 488.0 L425.4 487.2 M425.4 487.2 L425.8 491.2 L428.4 494.4 L428.7 498.4 L430.4 501.9 M429.9 523.4 L429.5 519.8 L430.8 516.4 L430.2 512.8 L430.5 509.3 L431.5 505.9 L430.9 502.3 M423.4 524.6 L421.3 521.6 L418.7 519.0 L415.6 517.0 L412.7 514.8 M414.1 508.6 L412.7 514.8 M430.4 501.9 L430.9 502.3 M456.4 536.0 L455.4 533.0 L455.3 528.7 L453.9 524.6 M433.4 524.8 L436.6 524.8 L439.5 523.1 L442.7 522.7 L446.1 523.0 L449.0 521.3 M453.9 524.6 L449.0 521.3 M430.9 502.3 L434.8 501.4 L438.5 503.3 L442.3 503.7 L446.2 503.2 M449.0 521.3 L447.5 517.8 L448.8 513.9 L446.8 510.5 L446.3 506.9 L446.2 503.2 M441.2 480.3 L443.4 482.8 L444.2 486.3 L446.7 488.6 L448.2 491.6 L450.9 493.7 L452.5 496.5 M425.4 487.2 L425.8 486.0 M452.5 496.5 L449.0 499.5 L446.2 503.2 M492.4 472.4 L495.5 470.3 L497.2 466.6 L500.9 465.1 L503.7 462.6 L506.3 460.0 M492.4 472.4 L488.6 471.1 L484.7 472.1 M482.3 468.1 L484.7 472.1 M482.3 468.1 L483.8 465.1 L484.8 462.0 L484.9 458.7 L485.5 455.5 L486.9 452.5 M486.9 452.5 L490.3 452.6 L493.6 453.8 L497.0 453.7 L500.4 453.4 M500.4 453.4 L502.7 457.3 L506.3 460.0 M512.0 461.0 L506.3 460.0 M501.4 482.3 L499.8 479.2 L496.8 477.4 L495.4 474.2 L492.4 472.4 M501.9 441.4 L501.2 445.4 L500.1 449.3 L500.4 453.4 M484.6 449.1 L486.9 452.5 M452.4 468.4 L453.7 465.3 L453.0 461.9 L454.5 458.8 L455.0 455.6 L455.4 452.4 L454.8 449.0 M452.4 468.4 L455.7 469.0 L458.7 470.5 M458.7 470.5 L461.4 468.6 L464.3 467.1 L467.4 465.9 L469.8 463.6 M469.8 463.6 L469.4 460.3 L468.2 457.2 L469.0 453.8 L468.8 450.5 L468.1 447.3 M468.1 447.3 L464.6 446.6 L461.4 447.6 L458.0 447.8 L454.8 449.0 M445.4 470.2 L448.6 468.2 L452.4 468.4 M453.8 448.4 L454.8 449.0 M468.9 446.4 L468.1 447.3 M482.3 468.1 L479.3 466.6 L476.4 465.0 L472.6 465.7 L469.8 463.6 M387.4 493.7 L389.6 490.7 L391.3 487.2 L394.5 485.0 M387.4 493.7 L389.6 497.2 L392.6 500.1 L394.5 503.8 M407.5 498.7 L404.1 499.4 L401.2 501.8 L397.9 502.9 L394.5 503.8 M408.8 493.5 L407.4 490.2 L404.4 488.3 L402.5 485.4 M402.5 485.4 L398.5 484.6 L394.5 485.0 M420.2 475.2 L416.5 474.9 L413.0 473.9 L409.8 471.9 M402.5 485.4 L404.6 482.2 L407.2 479.2 L407.2 474.9 L409.8 471.9 M410.9 458.0 L409.3 461.7 L409.6 465.8 L408.2 469.5 M409.8 471.9 L408.2 469.5 M400.4 520.3 L398.4 517.2 L395.1 515.5 L392.4 513.1 M400.4 520.3 L400.2 524.2 L399.5 528.1 L400.0 532.0 M383.2 533.9 L381.6 530.4 L382.6 526.3 L379.7 523.1 L379.9 519.2 M383.2 533.9 L387.1 533.7 L391.0 534.7 L394.8 533.9 L398.6 533.2 M392.4 513.1 L389.1 514.8 L385.3 514.1 L381.9 515.5 M398.6 533.2 L400.0 532.0 M381.9 515.5 L379.9 519.2 M412.7 514.8 L410.0 517.2 L406.9 518.4 L403.9 519.8 L400.4 520.3 M394.5 503.8 L393.8 508.5 L392.4 513.1 M415.7 537.2 L412.4 536.6 L409.2 535.8 L406.3 533.9 L403.1 533.2 L400.0 532.0 M366.3 523.4 L369.4 521.3 L372.9 520.8 L376.2 519.3 L379.9 519.2 M380.8 536.5 L383.2 533.9 M397.3 546.3 L397.3 543.0 L396.9 539.6 L397.6 536.4 L398.6 533.2 M378.8 493.4 L383.1 494.1 L387.4 493.7 M378.8 493.4 L379.2 497.2 L376.8 500.5 L376.0 504.1 L375.9 507.9 M375.9 507.9 L377.5 510.7 L379.5 513.2 L381.9 515.5 M358.8 508.4 L362.2 508.1 L365.6 507.3 L369.1 509.2 L372.5 508.5 L375.9 507.9 M193.5 637.4 L195.3 634.1 L195.3 630.2 L198.0 627.2 L199.4 623.8 L199.5 619.9 M193.5 637.4 L190.3 637.9 L187.8 638.5 M199.5 619.9 L196.2 619.2 L192.9 618.8 L190.1 616.3 L186.7 616.3 L183.6 615.2 L180.1 615.3 L179.9 615.3 M201.0 645.8 L198.4 643.1 L196.3 639.9 L193.5 637.4 M190.1 590.8 L187.9 593.1 L185.8 595.6 L184.2 598.5 L180.9 599.9 L180.1 603.6 L176.5 604.7 L176.4 605.0 M179.6 573.7 L181.6 576.4 L182.6 579.7 L185.8 581.7 L186.5 585.1 L187.8 588.2 L190.1 590.8 M214.0 626.2 L210.5 624.4 L206.9 622.8 L203.2 621.6 L199.6 619.8 M214.0 626.2 L217.0 624.4 L219.7 622.3 L222.5 620.2 L224.2 616.9 L226.9 614.7 M199.6 619.8 L201.3 616.6 L203.1 613.4 L202.6 609.5 L205.0 606.5 L206.0 603.1 L205.8 599.2 L207.7 596.1 L209.0 592.7 M226.9 614.7 L226.5 611.3 L225.1 608.1 L225.3 604.6 L222.8 601.7 L222.7 598.2 M222.7 598.2 L219.2 597.6 L217.0 594.8 L214.5 592.4 L211.0 591.7 M211.0 591.7 L209.0 592.7 M217.7 638.6 L215.9 635.8 L216.0 632.4 L213.9 629.6 L214.0 626.2 M199.5 619.9 L199.6 619.8 M244.8 630.5 L241.8 635.8 M242.2 622.0 L238.6 621.6 L236.3 618.5 L233.3 616.9 L229.9 616.2 L226.9 614.7 M219.5 639.8 L222.7 639.5 L226.1 639.8 L229.1 638.3 L232.1 636.9 L235.5 637.1 L238.7 636.8 L241.8 635.8 M190.1 590.8 L193.9 590.4 L197.7 591.2 L201.5 591.5 L205.1 593.1 L209.0 592.7 M243.5 592.1 L240.3 594.0 L236.6 594.3 L233.1 595.1 L229.5 595.8 L226.0 596.6 L222.7 598.2 M254.8 598.1 L255.2 599.7 M214.4 572.8 L213.9 576.6 L214.2 580.6 L211.5 584.0 L211.1 587.8 L211.0 591.7 M231.9 664.3 L233.8 661.3 L237.1 660.2 L240.4 659.0 L242.0 655.6 L244.9 654.0 M231.9 664.3 L232.8 667.6 L233.9 670.9 L235.0 674.2 L238.0 676.7 L237.6 680.5 L239.8 683.4 M252.5 681.1 L248.8 682.4 L245.5 684.5 M252.5 681.1 L253.4 677.8 L255.1 675.0 L256.6 672.0 L259.1 669.6 L260.6 666.6 L261.9 663.6 L262.6 660.3 M262.6 660.3 L258.8 659.7 L255.6 657.6 L252.2 656.0 L248.4 655.5 L244.9 654.0 M239.8 683.4 L245.5 684.5 M241.8 635.8 L243.0 639.4 L242.8 643.2 L244.3 646.6 L243.8 650.5 L244.9 654.0 M222.6 662.2 L227.1 664.0 L231.9 664.3 M228.2 692.5 L231.0 690.1 L233.5 687.3 L236.2 684.8 L239.8 683.4 M265.1 659.6 L266.8 655.9 L269.6 653.0 L272.2 650.0 M265.1 659.6 L262.6 660.3 M236.9 707.8 L240.6 709.3 M240.6 709.3 L246.2 707.8 M245.5 684.5 L246.5 688.7 L248.9 692.2 L250.0 696.3 M250.0 696.3 L249.4 700.4 L248.3 704.2 L246.2 707.8 M250.0 696.3 L253.1 697.6 L256.2 699.3 L259.7 699.7 L263.0 700.3 M252.5 681.1 L255.9 683.1 L259.6 684.4 L263.6 685.1 L267.0 687.2 M267.0 687.2 L265.6 690.3 L264.5 693.6 L264.0 697.0 L263.0 700.3 M250.2 776.5 L253.2 775.1 L256.1 773.4 M260.9 787.3 L260.7 783.9 L261.5 780.5 L261.3 777.0 M256.1 773.4 L261.3 777.0 M309.7 777.1 L309.0 776.7 M315.0 765.0 L312.2 766.1 M312.2 766.1 L311.4 769.7 L310.8 773.4 L309.0 776.7 M302.1 786.2 L302.6 785.6 L303.9 782.5 L304.3 779.1 M309.0 776.7 L304.3 779.1 M330.0 717.5 L329.5 716.9 L328.4 712.7 L326.1 709.2 M326.1 709.2 L329.3 708.6 L332.1 706.8 L335.2 706.0 L337.0 706.2 M392.1 590.1 L394.2 592.5 L395.7 593.5 M328.9 735.5 L328.3 735.5 L325.1 734.5 M328.5 725.1 L327.1 726.1 L324.9 729.4 M324.9 729.4 L325.1 734.5 M324.1 739.6 L324.0 736.5 M325.1 734.5 L324.0 736.5 M307.8 748.0 L307.8 743.9 L307.0 739.9 L307.2 735.7 M307.2 735.7 L308.1 734.7 M314.8 749.5 L311.4 748.5 L307.8 748.0 M324.0 736.5 L320.0 736.3 L316.2 734.5 L312.1 735.0 L308.1 734.7 M253.5 754.8 L258.1 750.6 M253.5 754.8 L253.6 758.4 L253.5 762.0 M267.5 763.4 L263.9 764.0 L260.3 764.8 L256.7 765.7 M267.5 763.4 L267.8 759.4 L265.7 755.5 L266.6 751.5 M258.1 750.6 L261.9 751.3 L265.7 750.9 M253.5 762.0 L256.7 765.7 M265.7 750.9 L266.6 751.5 M241.6 752.1 L242.8 750.8 M243.4 765.2 L246.5 764.1 L250.2 763.5 L253.5 762.0 M242.8 750.8 L246.1 752.8 L249.8 753.8 L253.5 754.8 M256.1 773.4 L255.9 769.6 L256.7 765.7 M267.3 740.4 L272.3 737.8 M273.0 734.1 L272.3 737.8 M260.9 736.3 L262.1 732.2 L264.6 728.7 M260.9 736.3 L264.3 738.0 L267.3 740.4 M273.0 734.1 L270.5 731.2 L268.1 728.4 M268.1 728.4 L264.6 728.7 M265.7 750.9 L265.3 747.2 L267.5 744.0 L267.3 740.4 M258.1 750.6 L257.8 746.7 L255.5 743.6 M260.9 736.3 L260.1 736.5 M255.5 743.6 L257.5 739.9 L260.1 736.5 M287.5 544.3 L289.8 546.9 L293.3 547.4 L296.4 548.6 L299.0 550.8 M285.4 564.7 L288.7 564.2 L291.1 561.4 L294.5 561.3 M299.0 550.8 L296.6 553.9 L295.6 557.6 L294.5 561.3 M294.5 561.3 L297.6 563.2 L300.2 566.0 L303.3 567.8 L306.9 568.8 M306.9 568.8 L304.4 571.8 L304.5 575.8 L303.4 579.3 L301.2 582.3 M283.8 568.4 L285.9 571.2 L288.0 573.9 L290.2 576.5 L292.9 578.8 L295.3 581.3 M295.3 581.3 L301.2 582.3 M267.9 582.6 L270.6 584.5 L273.3 586.5 L275.9 588.6 L278.9 590.2 L282.2 591.1 M295.3 581.3 L292.4 582.9 L290.6 585.9 L287.1 586.6 L285.3 589.7 L282.2 591.1 M359.1 550.2 L355.6 549.1 L351.9 550.2 L348.4 549.2 L344.9 548.5 M344.2 569.8 L341.6 567.0 L339.6 563.7 L336.5 561.5 M336.5 561.5 L339.6 558.9 L340.1 554.6 L342.2 551.4 L344.9 548.5 M344.1 529.6 L342.2 532.9 L341.0 536.4 L340.0 540.0 M340.0 540.0 L340.8 543.2 L344.2 545.1 L344.9 548.5 M358.0 397.7 L357.1 399.1 M339.7 393.3 L339.8 394.1 M339.8 394.1 L343.5 394.2 L346.8 395.6 L350.0 397.7 L353.6 398.1 L357.1 399.1 M368.7 414.8 L365.6 413.0 L362.2 411.7 L359.2 409.7 L356.2 407.6 M357.1 399.1 L356.8 403.4 L356.2 407.6 M327.6 460.4 L327.7 456.4 L326.1 452.6 L325.0 448.7 L325.5 444.7 M327.6 460.4 L325.3 462.7 L322.4 464.3 L319.6 466.1 L316.7 467.6 L314.5 470.1 L312.0 472.1 M325.5 444.7 L322.4 446.1 L319.2 447.3 L316.0 448.3 L312.8 449.1 L309.0 448.0 L305.7 448.8 L303.0 451.6 L299.2 450.5 L296.2 452.4 M312.0 472.1 L309.7 471.7 M309.7 471.7 L307.4 468.8 L304.5 466.3 L302.9 462.9 L299.7 460.7 L298.2 457.1 L295.8 454.2 M295.8 454.2 L296.2 452.4 M349.1 444.2 L345.3 442.3 L341.4 440.8 L337.7 438.7 M337.5 467.0 L341.1 465.7 L344.8 465.3 L348.2 463.5 L351.9 463.2 M337.5 467.0 L334.1 464.9 L331.4 461.9 L327.6 460.4 M353.2 458.3 L351.9 463.2 M337.7 438.7 L334.3 441.1 L329.8 440.9 L326.3 443.1 M326.3 443.1 L325.5 444.7 M326.1 493.0 L323.1 490.7 L321.4 487.5 L321.0 483.4 L318.5 480.8 L315.3 478.6 L314.5 474.8 L312.0 472.1 M326.1 493.0 L328.7 490.9 L331.2 488.6 L334.4 487.2 M334.4 487.2 L335.3 483.9 L335.7 480.5 L335.8 477.0 L337.5 473.8 L336.3 470.2 L337.5 467.0 M324.9 496.4 L326.1 493.0 M296.7 484.5 L300.1 482.7 L302.2 479.7 L304.6 476.9 L307.6 474.7 L309.7 471.7 M280.9 465.3 L283.6 462.8 L287.2 461.4 L289.1 457.7 L293.0 456.7 L295.8 454.2 M270.1 437.0 L273.3 438.5 L277.1 438.4 L280.4 439.7 L283.3 442.1 L286.7 443.4 L290.2 443.9 L293.6 444.8 M293.6 444.8 L294.6 448.7 L296.2 452.4 M330.0 384.4 L325.0 386.8 M319.1 372.2 L316.2 375.6 L315.2 380.0 M325.0 386.8 L322.2 383.8 L318.1 382.8 L315.2 380.0 M321.4 393.8 L323.6 390.5 L325.0 386.8 M321.4 393.8 L318.3 395.2 M318.3 395.2 L315.2 393.8 L312.9 391.2 L310.1 389.3 L307.8 386.8 M315.2 380.0 L310.3 381.4 M310.3 381.4 L307.8 386.8 M315.8 363.8 L313.4 366.7 L310.3 368.6 L307.2 370.6 L304.6 373.2 M310.3 381.4 L307.6 379.2 L307.4 375.3 L304.6 373.2 M292.8 381.6 L293.7 385.4 L296.2 388.4 L298.1 391.8 M280.6 382.0 L284.7 382.8 L288.8 382.4 L292.8 381.6 M280.2 393.9 L283.6 395.4 L287.4 395.4 L290.6 397.1 M290.6 397.1 L294.9 395.2 L298.1 391.8 M274.7 416.9 L278.1 416.8 L281.5 417.5 L284.8 417.0 L288.2 416.3 M290.6 397.1 L291.0 400.4 L289.5 403.5 L290.3 406.8 L289.5 410.0 L288.6 413.1 L288.2 416.3 M415.6 366.6 L413.0 362.6 L409.6 359.5 M398.9 371.6 L400.6 368.6 L400.4 364.9 L401.8 361.8 M401.8 361.8 L406.0 361.6 L409.6 359.5 M418.3 351.5 L414.6 352.4 L411.0 353.4 M409.6 359.5 L411.0 353.4 M444.5 398.9 L441.0 396.5 L436.9 395.5 L432.8 394.5 M444.5 398.9 L443.5 395.2 L443.1 391.4 L443.6 387.6 L442.8 383.9 L443.2 380.0 M432.8 394.5 L432.0 390.7 L432.2 387.1 L433.3 383.4 M433.3 383.4 L436.4 382.1 L438.8 379.7 L442.3 379.4 M443.2 380.0 L442.3 379.4 M426.1 398.3 L429.6 396.7 L432.8 394.5 M445.7 400.3 L444.5 398.9 M455.5 381.9 L451.6 380.1 L447.2 381.0 L443.2 380.0 M426.9 381.3 L430.2 382.0 L433.3 383.4 M441.5 372.3 L442.1 375.8 L442.3 379.4 M380.1 324.6 L382.9 328.4 M397.4 328.5 L396.4 330.2 M382.9 328.4 L386.3 328.6 L389.6 329.8 L393.1 329.3 L396.4 330.2 M370.2 339.7 L374.3 339.5 L377.8 337.0 L381.8 336.7 M382.9 328.4 L382.3 332.6 L381.8 336.7 M374.8 351.0 L379.7 350.9 M374.8 351.0 L374.1 354.6 L374.4 358.3 L374.2 361.9 M379.7 350.9 L382.8 353.7 L385.7 356.6 L387.5 360.4 M374.2 361.9 L378.4 363.8 L381.8 367.1 M387.5 360.4 L386.3 366.2 M381.8 367.1 L386.3 366.2 M363.7 367.3 L367.2 365.5 L370.2 362.7 L374.2 361.9 M374.4 350.7 L374.8 351.0 M376.0 374.8 L377.8 372.1 L379.1 369.1 L381.8 367.1 M391.1 370.8 L389.5 367.6 L386.3 366.2 M395.9 354.4 L398.8 358.2 L401.8 361.8 M395.9 354.4 L393.4 356.7 L390.5 358.6 L387.5 360.4 M291.5 364.3 L295.4 365.4 L299.4 365.3 M291.5 364.3 L288.8 368.1 M288.8 368.1 L290.7 371.5 L292.3 375.0 L293.9 378.6 M299.4 365.3 L302.1 368.6 L302.9 372.8 M302.9 372.8 L300.1 375.0 L296.5 376.0 L293.9 378.6 M290.5 359.7 L291.5 364.3 M304.3 358.2 L302.6 362.2 L299.4 365.3 M280.9 369.2 L284.8 368.9 L288.8 368.1 M292.8 381.6 L293.9 378.6 M304.6 373.2 L302.9 372.8 M298.1 391.8 L298.5 391.8 M307.8 386.8 L304.6 388.3 L301.7 390.2 L298.5 391.8 M478.6 485.0 L474.8 486.6 L470.7 487.5 L466.6 488.2 M478.6 485.0 L480.9 487.4 L483.4 489.7 L485.9 491.9 L487.5 495.0 L490.3 496.9 L492.7 499.2 M492.7 499.2 L490.4 502.2 L487.9 504.8 L484.8 506.7 L482.8 509.9 L479.8 512.1 L476.8 514.1 M466.6 488.2 L465.1 492.2 L461.9 495.1 M461.9 495.1 L463.1 498.4 L466.2 500.5 L466.4 504.5 L469.8 506.5 L470.7 510.0 L472.6 512.8 M476.8 514.1 L472.6 512.8 M484.7 472.1 L483.3 475.4 L481.9 478.6 L480.8 482.1 L478.6 485.0 M458.7 470.5 L460.2 473.3 L460.9 476.6 L463.4 479.0 L465.0 481.8 L466.3 484.8 L466.6 488.2 M496.1 499.2 L492.7 499.2 M480.8 522.4 L480.6 519.6 L479.0 516.7 L476.8 514.1 M452.5 496.5 L457.0 494.6 L461.9 495.1 M453.9 524.6 L457.1 522.7 L460.6 521.5 L463.1 518.4 L466.1 516.4 L468.9 513.9 L472.6 512.8 M358.3 477.9 L360.9 480.4 L364.3 481.4 L367.8 482.3 L370.3 485.1 L373.7 486.2 M358.3 477.9 L355.6 480.0 L353.9 482.8 L352.9 486.1 L350.4 488.4 M356.9 501.3 L360.0 499.6 L363.0 497.8 L365.2 494.6 L369.4 494.7 L372.2 492.5 L374.8 490.0 M356.9 501.3 L355.4 497.9 L352.8 495.2 L352.1 491.5 L350.4 488.4 M374.8 490.0 L373.7 486.2 M351.9 463.2 L354.0 465.6 L355.3 468.6 L357.7 470.9 M334.4 487.2 L337.7 486.4 L340.7 488.3 L344.0 487.7 L347.2 488.2 L350.4 488.4 M357.7 470.9 L357.3 474.4 L358.3 477.9 M356.6 504.4 L356.9 501.3 M378.8 493.4 L374.8 490.0 M377.4 463.3 L376.6 466.1 M377.4 463.3 L380.6 461.1 L384.3 459.7 L387.9 458.1 L390.7 455.2 M376.6 466.1 L377.8 470.4 L380.5 474.1 M380.5 474.1 L383.7 474.2 L386.9 474.6 L390.0 475.6 M390.0 475.6 L391.8 472.6 L393.8 469.7 L396.6 467.6 M390.7 455.2 L392.2 458.3 L393.2 461.6 L394.5 464.8 L396.6 467.6 M369.8 452.6 L372.2 454.9 L373.7 457.9 L375.8 460.4 L377.4 463.3 M357.7 470.9 L360.8 470.0 L364.0 469.0 L367.0 467.7 L370.5 468.5 L373.4 466.7 L376.6 466.1 M392.7 449.0 L390.8 451.8 L390.7 455.2 M373.7 486.2 L375.3 483.1 L377.8 480.5 L377.8 476.6 L380.5 474.1 M394.5 485.0 L393.7 481.6 L391.1 478.9 L390.0 475.6 M408.2 469.5 L404.4 468.8 L400.4 468.9 L396.6 467.6 M288.5 784.0 L287.4 781.8 M271.8 788.4 L272.6 784.3 L274.4 780.5 M287.4 781.8 L284.1 781.5 L280.9 781.0 L277.5 781.5 L274.4 780.5 M272.3 737.8 L275.5 739.2 L276.9 742.8 L279.4 745.0 L282.7 746.2 M266.6 751.5 L269.9 752.3 L272.9 750.3 L276.3 751.9 L279.4 750.5 M279.4 750.5 L282.7 746.2 M294.8 735.9 L292.0 738.6 L289.2 741.5 M289.2 741.5 L288.6 743.6 M307.8 748.0 L304.6 749.5 L301.7 751.4 L299.1 753.8 M307.2 735.7 L303.1 734.8 L299.0 734.9 L294.8 735.9 M288.6 743.6 L290.6 746.8 L294.3 748.2 L296.8 750.9 L299.1 753.8 M281.4 729.3 L284.0 731.9 L286.2 734.8 L287.0 738.6 L289.2 741.5 M281.4 729.3 L278.9 731.4 L276.3 733.3 L273.0 734.1 M288.6 743.6 L285.3 744.0 L282.7 746.2 M312.2 766.1 L308.5 765.0 L305.0 763.6 L301.8 761.8 L298.9 759.2 M299.1 753.8 L298.9 759.2 M304.3 779.1 L302.1 776.5 L300.1 773.6 L297.9 771.0 L293.8 770.2 L292.2 767.0 M298.9 759.2 L297.2 762.3 L293.7 763.8 L292.2 767.0 M287.4 781.8 L287.7 778.3 L289.7 775.0 L288.1 771.1 L289.9 767.8 M292.2 767.0 L289.9 767.8 M324.9 729.4 L321.7 727.8 L319.3 725.2 L316.2 723.5 L314.3 720.4 M326.1 709.2 L321.9 707.2 M321.9 707.2 L321.0 711.0 L318.0 713.7 L315.7 716.8 L314.3 720.4 M308.1 734.7 L308.9 730.5 L308.9 726.4 L308.0 722.3 M314.3 720.4 L311.3 721.9 L308.0 722.3 M298.6 655.7 L297.8 659.3 L297.8 662.9 L298.3 666.4 L299.8 670.0 L298.7 673.6 M265.1 659.6 L266.5 662.9 L268.9 665.4 L270.9 668.2 L273.9 670.2 L276.1 672.8 L277.9 675.8 L280.2 678.3 M298.7 673.6 L294.7 673.5 L291.3 675.5 L287.7 676.6 L283.7 676.3 L280.2 678.3 M267.0 687.2 L270.5 686.5 L273.9 685.4 L277.2 684.2 M280.2 678.3 L278.2 681.0 L277.2 684.2 M294.8 735.9 L294.2 732.0 L295.8 728.0 L294.2 724.1 L294.9 720.1 M308.0 722.3 L304.6 719.8 L300.6 718.4 M300.6 718.4 L296.6 718.8 M294.9 720.1 L296.6 718.8 M281.4 729.3 L282.0 723.6 M268.1 728.4 L269.9 725.4 L271.8 722.6 M271.8 722.6 L275.1 724.0 L278.6 723.0 L282.0 723.6 M294.9 720.1 L291.1 719.6 L287.5 721.4 L283.7 721.7 M296.6 718.8 L294.5 715.5 L292.9 712.1 L291.7 708.5 L289.8 705.2 L289.1 701.4 M285.7 701.0 L289.1 701.4 M285.7 701.0 L284.4 703.9 L282.4 706.5 L281.9 709.9 L279.7 712.3 M279.7 712.3 L279.9 715.9 L282.8 718.3 L283.7 721.7 M282.0 723.6 L283.7 721.7 M277.2 684.2 L277.6 687.8 L279.4 690.8 L281.3 693.9 L281.5 697.5 M281.5 697.5 L278.7 699.1 L275.9 700.6 L272.7 701.6 L269.5 702.4 L266.9 704.3 M263.0 700.3 L264.9 703.8 M266.9 704.3 L264.9 703.8 M279.7 712.3 L276.1 712.3 L272.5 711.9 M281.5 697.5 L285.7 701.0 M266.9 704.3 L269.4 708.3 L272.5 711.9 M271.8 722.6 L269.3 718.4 M272.5 711.9 L270.1 714.8 L269.3 718.4 M242.8 750.8 L242.1 744.5 M255.5 743.6 L252.7 741.5 L249.4 740.9 L246.1 740.1 M242.1 744.5 L246.1 740.1 M242.1 744.5 L238.3 743.1 L235.6 742.1 M260.1 736.5 L255.9 734.2 L252.2 731.2 M246.1 740.1 L246.5 734.9 M252.2 731.2 L249.5 733.1 L246.5 734.9 M323.3 578.4 L327.1 580.4 L331.2 581.4 L335.3 582.4 M344.5 574.2 L341.8 577.4 L338.8 580.2 L335.3 582.4 M323.3 578.4 L322.1 573.8 M336.5 561.5 L331.4 560.6 M322.1 573.8 L324.8 571.7 L325.7 568.4 L326.7 565.2 L329.5 563.1 L331.4 560.6 M347.6 599.1 L347.2 599.1 M335.3 582.4 L335.4 587.4 M347.2 599.1 L344.7 596.9 L343.0 593.9 L340.1 592.1 L338.3 589.1 L335.4 587.4 M338.1 621.2 L336.4 618.2 L333.7 615.8 L332.8 612.4 L331.6 609.1 L328.9 606.8 M347.2 599.1 L344.2 600.3 L340.7 600.7 L338.1 603.2 L334.9 604.0 L331.8 605.3 L328.9 606.8 M335.4 587.4 L332.5 589.3 L330.1 591.7 L329.0 595.2 L326.1 597.2 M323.3 578.4 L320.3 581.0 L318.7 584.6 L315.9 587.3 M315.9 587.3 L318.5 589.7 L321.2 592.0 L323.1 595.3 L326.1 597.2 M322.1 573.8 L318.7 572.7 L316.2 569.9 L312.9 568.6 L309.6 567.3 M306.9 568.8 L309.6 567.3 M301.2 582.3 L304.0 585.2 L305.9 588.9 M315.9 587.3 L312.6 588.5 L309.2 588.2 L305.9 588.9 M328.9 606.8 L326.7 605.9 M326.1 597.2 L326.8 601.5 L326.7 605.9 M315.0 629.8 L315.1 626.4 L316.1 623.3 L317.3 620.3 L319.1 617.4 L319.3 614.1 L321.0 611.2 L321.9 608.1 M321.9 608.1 L326.7 605.9 M283.1 607.7 L285.2 602.1 M283.1 607.7 L286.0 609.5 L289.3 610.3 L292.5 611.4 L295.4 613.1 L298.7 613.8 L301.8 615.1 M285.2 602.1 L288.7 602.0 L291.7 600.5 L294.4 598.0 L297.8 597.6 L301.2 597.1 L304.3 596.0 M301.8 615.1 L304.8 612.0 L305.9 608.0 L307.7 604.3 M307.7 604.3 L306.2 600.1 L304.3 596.0 M274.8 614.8 L277.6 612.5 L280.7 610.5 L283.1 607.7 M282.2 591.1 L282.4 595.0 L285.0 598.2 L285.2 602.1 M303.7 624.8 L303.5 621.5 L303.4 618.1 L301.8 615.1 M305.9 588.9 L304.0 592.2 L304.3 596.0 M321.9 608.1 L318.1 608.0 L315.0 605.5 L311.1 605.9 L307.7 604.3 M334.3 404.5 L335.7 403.6 M334.3 404.5 L333.6 408.0 L331.3 410.5 L329.3 413.2 M335.7 403.6 L338.9 405.3 L341.9 407.4 L345.9 406.8 L348.9 408.8 L352.2 410.2 M329.3 413.2 L331.0 416.1 L334.6 417.1 L336.3 419.9 L338.1 422.7 L340.7 424.7 M352.2 410.2 L351.1 413.9 L349.0 417.2 L348.0 421.0 M348.0 421.0 L344.7 423.5 L340.7 424.7 M339.8 394.1 L338.1 397.1 L336.1 400.0 L335.7 403.6 M321.4 393.8 L324.4 395.4 L326.1 398.6 L329.6 399.7 L332.3 401.7 L334.3 404.5 M356.2 407.6 L352.2 410.2 M359.6 427.8 L356.5 426.5 L353.6 424.7 L350.4 423.6 L348.0 421.0 M337.7 438.7 L339.6 435.4 L339.6 431.8 L338.9 428.0 L340.7 424.7 M316.1 428.2 L318.7 425.9 L320.4 423.2 L320.9 419.6 L323.1 417.1 L324.6 414.2 M316.1 428.2 L312.7 428.3 L309.4 427.5 L306.2 425.7 L302.7 426.5 L299.3 426.0 M299.3 426.0 L298.6 422.7 L296.3 420.3 M296.3 420.3 L298.4 417.2 L301.7 415.0 L303.6 411.8 L305.2 408.3 L308.1 405.8 M324.6 414.2 L321.3 412.6 L319.3 409.2 L316.5 406.9 L313.1 405.2 M313.1 405.2 L308.1 405.8 M326.3 443.1 L323.4 440.7 L322.4 437.0 L319.7 434.5 L319.1 430.6 L316.1 428.2 M329.3 413.2 L324.6 414.2 M293.6 444.8 L294.1 441.5 L295.5 438.5 L296.9 435.5 L297.4 432.2 L297.3 428.8 L299.3 426.0 M288.2 416.3 L292.0 418.8 L296.3 420.3 M298.5 391.8 L301.0 394.3 L302.4 397.4 L305.0 399.7 L305.9 403.2 L308.1 405.8 M318.3 395.2 L315.9 398.2 L315.0 402.0 L313.1 405.2 M396.5 336.5 L393.5 338.2 L391.5 341.4 L388.2 342.7 M396.5 336.5 L399.2 338.7 L402.5 340.2 L404.9 342.8 M396.0 353.9 L399.2 351.9 L402.2 349.7 L404.8 346.8 M396.0 353.9 L394.0 350.1 L389.8 348.0 L387.9 344.1 M387.9 344.1 L388.2 342.7 M404.9 342.8 L404.8 346.8 M381.8 336.7 L385.5 339.2 L388.2 342.7 M396.4 330.2 L396.5 336.5 M412.4 338.3 L408.5 340.3 L404.9 342.8 M411.0 353.4 L408.0 350.0 L404.8 346.8 M395.9 354.4 L396.0 353.9 M379.7 350.9 L382.4 348.6 L385.2 346.3 L387.9 344.1 M268.7 764.3 L270.5 767.4 L269.9 771.3 L271.6 774.5 M268.7 764.3 L272.4 762.2 L276.3 760.7 L280.6 760.2 M280.6 760.2 L284.7 762.8 L287.1 766.9 M287.1 766.9 L284.1 768.6 L281.5 771.0 L278.0 771.7 L274.5 772.2 L272.0 774.8 M271.6 774.5 L272.0 774.8 M261.3 777.0 L264.9 777.0 L268.3 776.1 L271.6 774.5 M267.5 763.4 L268.7 764.3 M279.4 750.5 L280.2 753.7 L281.0 756.9 L280.6 760.2 M289.9 767.8 L287.1 766.9 M274.4 780.5 L272.0 774.8 M319.9 703.0 L316.1 702.4 L312.7 700.5 L308.9 699.7 M319.9 703.0 L321.8 700.4 L323.8 697.8 L325.4 695.0 L326.2 691.6 L329.0 689.5 L330.6 686.8 M308.9 699.7 L305.3 697.4 L303.1 693.7 M303.1 693.7 L302.6 690.5 L303.5 687.3 L302.0 684.1 L303.0 680.9 L303.0 677.7 M303.0 677.7 L306.4 678.0 L309.5 676.1 L312.9 677.4 L316.2 677.0 L319.5 677.0 L322.7 676.1 M322.7 676.1 L324.8 678.7 L326.5 681.6 L329.2 683.7 L330.6 686.8 M321.9 707.2 L319.9 703.0 M300.6 718.4 L301.8 715.2 L302.9 712.0 L304.9 709.1 L306.0 705.9 L308.0 703.0 L308.9 699.7 M341.0 688.2 L340.4 687.8 L336.9 688.7 L333.8 687.8 L330.6 686.8 M289.1 701.4 L292.3 698.9 L296.6 698.5 L299.3 695.1 L303.1 693.7 M298.7 673.6 L303.0 677.7 M333.8 652.6 L331.7 655.2 L331.6 658.8 L330.3 661.8 L328.2 664.3 L327.5 667.6 L324.6 669.8 L323.1 672.7 L322.7 676.1 M250.3 710.9 L254.0 710.9 L257.4 709.5 L261.0 708.8 M250.3 710.9 L251.5 714.3 L252.2 717.9 L252.7 721.6 M261.0 708.8 L262.7 713.2 L262.6 717.9 M262.6 717.9 L260.8 720.6 L258.2 722.6 M258.2 722.6 L254.3 723.0 M252.7 721.6 L254.3 723.0 M246.2 707.8 L250.3 710.9 M264.9 703.8 L261.0 708.8 M269.3 718.4 L266.0 718.0 L262.6 717.9 M264.6 728.7 L261.0 726.1 L258.2 722.6 M252.2 731.2 L253.5 727.1 L254.3 723.0 M241.5 730.7 L240.4 726.8 L241.7 722.9 M241.5 730.7 L237.4 731.3 L233.6 732.8 M233.6 732.8 L230.7 731.1 L230.2 731.0 M239.5 720.7 L236.5 722.6 L233.2 722.9 L229.7 722.6 L226.6 723.5 M239.5 720.7 L241.7 722.9 M226.1 725.0 L226.6 723.5 M246.5 734.9 L244.5 732.1 L241.5 730.7 M252.7 721.6 L249.1 723.0 L245.4 722.9 L241.7 722.9 M234.5 739.7 L234.5 737.2 L233.6 732.8 M240.6 709.3 L239.2 713.0 L240.4 716.9 L239.5 720.7 M224.9 715.6 L224.8 719.8 L226.6 723.5 M313.8 554.9 L317.0 553.6 L320.3 552.9 L323.8 553.0 M313.8 554.9 L310.5 553.5 L307.9 551.3 L305.9 548.3 M323.8 553.0 L325.4 549.8 L325.9 546.4 L326.6 543.0 M306.7 537.6 L310.3 536.8 L314.0 536.1 L317.4 534.7 L320.9 533.4 M306.7 537.6 L306.7 541.2 L306.7 544.8 L305.9 548.3 M320.9 533.4 L323.0 536.5 L325.3 539.4 L326.6 543.0 M309.6 567.3 L311.4 564.4 L310.7 560.7 L313.8 558.3 L313.8 554.9 M331.4 560.6 L328.1 558.8 L326.2 555.6 L323.8 553.0 M299.0 550.8 L302.5 549.8 L305.9 548.3 M340.0 540.0 L336.5 539.9 L333.6 542.6 L329.7 541.2 L326.6 543.0 M298.2 528.9 L300.2 532.6 L303.1 535.5 L306.7 537.6 M321.4 531.7 L320.9 533.4" fill="none" stroke="#fff" stroke-opacity="0.95" stroke-width="1.3" stroke-linejoin="round" stroke-linecap="round"/>
<path d="M185.5 126.9 L195.2 125.6 L206.2 127.8 L217.3 129.7 L231.1 131.1 L242.1 128.3 L250.4 124.2 L258.7 120.0 L267.0 114.5 L275.2 109.0 L283.5 104.9 M283.5 104.9 L286.3 114.5 L291.8 122.8 L300.1 131.1 L308.4 136.6 L305.6 144.9 L305.6 155.9 L309.7 164.2 L316.6 169.7 M250.4 124.2 L251.8 131.1 L253.2 139.4 L250.4 146.3 L255.9 150.4 L264.2 155.9 L272.5 161.4 L275.2 168.3 L269.7 175.2 M122.8 403.2 L126.1 410.7 L123.4 420.4 L119.5 428.6 L111.2 435.5 L107.9 444.1" fill="none" stroke="#fff" stroke-opacity="0.95" stroke-width="1.3" stroke-linejoin="round" stroke-linecap="round"/>
<path d="M259.0 295.2 L263.2 292.5 L268.1 293.8 L270.1 298.0 L267.3 300.7 L261.8 300.7Z" fill="none" stroke="#fff" stroke-width="1"/>
<path d="M341.1 545.9 L343.7 540.6 L348.1 538.0 L356.0 538.0 L359.5 538.8 L363.0 540.1 L362.2 545.0 L361.8 550.3 L361.3 555.5 L359.5 559.0 L356.9 562.6 L355.1 566.9 L352.5 565.2 L349.9 561.7 L346.3 557.3 L342.8 553.8 L341.4 550.3Z" fill="#bd6a48" stroke="#fdeadc" stroke-opacity="0.95" stroke-width="1.2" stroke-linejoin="round"/>
<path d="M349.0 527.4 L351.6 526.5 L354.8 523.9 L358.3 524.3 L361.3 527.8 L365.3 527.4 L367.4 529.2 L369.5 531.8 L368.8 536.2 L366.5 538.8 L363.0 540.1 L359.5 538.8 L356.0 538.0 L354.3 533.6 L351.6 530.9Z" fill="#bd6a48" stroke="#fdeadc" stroke-opacity="0.95" stroke-width="1.2" stroke-linejoin="round"/>
<path d="M363.0 540.1 L366.5 538.8 L368.8 536.2 L370.9 538.8 L370.1 543.2 L370.9 547.6 L373.6 551.1 L377.1 553.8 L375.3 557.3 L371.8 559.9 L368.3 562.6 L364.8 562.6 L362.2 559.0 L361.3 555.5 L361.8 550.3 L362.2 545.0Z" fill="#bd6a48" stroke="#fdeadc" stroke-opacity="0.95" stroke-width="1.2" stroke-linejoin="round"/>
<path d="M356.9 562.6 L359.5 559.0 L361.3 555.5 L362.2 559.0 L364.8 562.6 L368.3 562.6 L371.8 559.9 L375.3 557.3 L376.2 559.9 L372.7 563.4 L370.1 566.1 L368.3 569.6 L367.4 574.9 L363.9 576.3 L359.5 575.7 L357.8 572.2 L357.8 567.8 L355.1 566.9Z" fill="#bd6a48" stroke="#fdeadc" stroke-opacity="0.95" stroke-width="1.2" stroke-linejoin="round"/>
<path d="M347.2 519.5 L351.6 516.0 L356.9 511.6 L363.0 511.3 L366.5 509.0 L371.8 509.9 L375.3 513.4 L375.9 516.9 L370.9 517.8 L366.5 520.0 L364.8 523.9 L365.3 527.4 L361.3 527.8 L358.3 524.3 L354.8 523.9 L351.6 526.5 L349.0 527.4 L347.2 523.9Z" fill="#a13503" stroke="#fdeadc" stroke-opacity="0.95" stroke-width="1.2" stroke-linejoin="round"/>
<path d="M366.5 520.0 L370.9 517.8 L375.9 516.9 L378.8 520.4 L380.6 524.8 L381.5 530.1 L380.6 533.6 L376.2 534.5 L373.6 537.1 L370.9 538.8 L368.8 536.2 L369.5 531.8 L367.4 529.2 L365.3 527.4 L364.8 523.9Z" fill="#a13503" stroke="#fdeadc" stroke-opacity="0.95" stroke-width="1.2" stroke-linejoin="round"/>
<path d="M370.9 538.8 L373.6 537.1 L376.2 534.5 L380.6 533.6 L384.1 536.2 L385.3 540.6 L385.9 546.7 L384.1 550.3 L380.6 552.9 L377.1 553.8 L373.6 551.1 L370.9 547.6 L370.1 543.2Z" fill="#a13503" stroke="#fdeadc" stroke-opacity="0.95" stroke-width="1.2" stroke-linejoin="round"/>
<path d="M291.0 482.3 L296.3 480.1 L300.6 482.9 L305.9 482.3 L311.9 479.5 L316.6 475.2 L321.3 478.0 L325.1 479.5 L331.5 481.2 L330.5 483.8 L332.6 488.0 L334.7 492.9 L331.5 497.2 L332.6 503.0 L327.3 504.7 L320.9 503.6 L314.5 504.7 L310.2 502.5 L304.9 497.2 L299.5 491.9 L294.2 487.2 L289.9 485.9Z" fill="#ecdcd4" stroke="#fdeadc" stroke-opacity="0.95" stroke-width="1.2" stroke-linejoin="round"/>
<path d="M203.5 470.5 L213.1 468.8 L223.8 467.3 L222.3 473.7 L221.7 480.1 L225.9 485.0 L218.5 485.9 L212.1 483.3 L205.7 478.0Z" fill="#e9d3c7" stroke="#fdeadc" stroke-opacity="0.95" stroke-width="1.2" stroke-linejoin="round"/>
<path d="M223.8 467.3 L232.3 462.0 L242.4 459.9 L243.6 464.1 L242.4 469.5 L243.0 475.9 L243.6 481.2 L240.2 483.3 L234.5 485.9 L225.9 485.0 L221.7 480.1 L222.3 473.7Z" fill="#ecdcd4" stroke="#fdeadc" stroke-opacity="0.95" stroke-width="1.2" stroke-linejoin="round"/>
<path d="M243.6 464.1 L250.5 461.6 L257.9 463.1 L259.0 468.4 L261.1 471.6 L266.5 473.7 L263.3 476.9 L256.9 480.1 L249.4 481.6 L243.6 481.2 L243.0 475.9 L242.4 469.5Z" fill="#cc9a85" stroke="#fdeadc" stroke-opacity="0.95" stroke-width="1.2" stroke-linejoin="round"/>
<path d="M240.2 483.3 L243.6 481.2 L249.4 481.6 L256.9 480.1 L257.9 485.9 L252.2 489.7 L248.3 493.6 L243.0 492.9 L241.9 487.6Z" fill="#cc9a85" stroke="#fdeadc" stroke-opacity="0.95" stroke-width="1.2" stroke-linejoin="round"/>
<path d="M257.9 463.1 L259.0 458.8 L268.6 456.7 L270.1 460.9 L272.9 465.2 L271.8 469.5 L266.5 473.7 L261.1 471.6 L259.0 468.4Z" fill="#cc9a85" stroke="#fdeadc" stroke-opacity="0.95" stroke-width="1.2" stroke-linejoin="round"/>
<path d="M268.6 456.7 L277.1 453.0 L286.7 450.3 L295.3 448.1 L300.6 446.6 L301.2 451.3 L302.7 453.9 L299.5 456.7 L293.5 462.0 L288.9 461.6 L282.5 462.4 L275.0 464.1 L272.9 465.2 L270.1 460.9Z" fill="#cc9a85" stroke="#fdeadc" stroke-opacity="0.95" stroke-width="1.2" stroke-linejoin="round"/>
<path d="M272.9 465.2 L275.0 464.1 L282.5 462.4 L288.9 461.6 L293.5 462.0 L294.8 466.3 L298.5 470.5 L297.0 475.9 L296.3 480.1 L291.0 482.3 L285.7 485.0 L279.3 486.5 L273.9 485.9 L272.9 482.3 L275.6 478.0 L269.7 475.9 L266.5 473.7 L271.8 469.5Z" fill="#cc9a85" stroke="#fdeadc" stroke-opacity="0.95" stroke-width="1.2" stroke-linejoin="round"/>
<path d="M300.6 446.6 L305.9 441.7 L312.3 440.2 L318.7 441.7 L324.1 443.9 L323.0 448.8 L319.8 451.8 L316.6 451.3 L311.9 450.9 L309.1 453.9 L302.7 453.9 L301.2 451.3Z" fill="#bd6a48" stroke="#fdeadc" stroke-opacity="0.95" stroke-width="1.2" stroke-linejoin="round"/>
<path d="M316.6 451.3 L319.8 451.8 L323.0 448.8 L328.3 448.8 L334.7 450.9 L339.6 452.4 L333.7 455.2 L334.7 459.9 L334.1 465.2 L330.5 470.5 L326.2 474.8 L321.3 478.0 L316.6 475.2 L319.4 469.5 L318.7 463.1 L317.7 456.7Z" fill="#bd6a48" stroke="#fdeadc" stroke-opacity="0.95" stroke-width="1.2" stroke-linejoin="round"/>
<path d="M293.5 462.0 L299.5 456.7 L302.7 453.9 L309.1 453.9 L311.9 450.9 L316.6 451.3 L317.7 456.7 L318.7 463.1 L319.4 469.5 L316.6 475.2 L311.9 479.5 L305.9 482.3 L300.6 482.9 L296.3 480.1 L297.0 475.9 L298.5 470.5 L294.8 466.3Z" fill="#a13503" stroke="#fdeadc" stroke-opacity="0.95" stroke-width="1.2" stroke-linejoin="round"/>
<path d="M334.1 465.2 L341.1 464.1 L348.2 465.8 L354.6 463.1 L355.4 468.0 L353.3 474.8 L351.8 481.2 L349.0 487.2 L343.3 485.0 L338.3 481.2 L331.5 481.2 L325.1 479.5 L321.3 478.0 L326.2 474.8 L330.5 470.5Z" fill="#cc9a85" stroke="#fdeadc" stroke-opacity="0.95" stroke-width="1.2" stroke-linejoin="round"/>
<path d="M330.5 483.8 L335.8 481.6 L340.5 482.9 L342.6 488.7 L341.8 494.0 L343.9 499.3 L339.6 503.6 L332.6 503.0 L331.5 497.2 L334.7 492.9 L332.6 488.0Z" fill="#cc9a85" stroke="#fdeadc" stroke-opacity="0.95" stroke-width="1.2" stroke-linejoin="round"/>
<path d="M289.9 412.4 L295.5 411.3 L301.1 414.7 L305.7 412.4 L310.2 416.9 L313.6 422.6 L315.8 429.4 L317.0 436.1 L313.6 440.2 L306.8 439.5 L302.3 433.9 L297.8 429.4 L293.2 423.7 L291.0 418.1Z" fill="#ecdcd4" stroke="#fdeadc" stroke-opacity="0.95" stroke-width="1.2" stroke-linejoin="round"/>
<path d="M313.6 422.6 L318.1 413.6 L322.6 409.0 L328.2 410.2 L330.5 416.9 L330.0 424.8 L328.2 431.6 L323.7 436.1 L318.1 438.8 L317.0 436.1 L315.8 429.4Z" fill="#ecdcd4" stroke="#fdeadc" stroke-opacity="0.95" stroke-width="1.2" stroke-linejoin="round"/>
<path d="M268.4 423.7 L272.9 422.6 L275.2 427.1 L274.0 431.6 L276.3 436.1 L274.5 441.8 L269.5 442.5 L267.3 437.3 L269.1 431.6 L267.3 427.1Z" fill="#ecdcd4" stroke="#fdeadc" stroke-opacity="0.95" stroke-width="1.2" stroke-linejoin="round"/>
<path d="M293.5 344.1 L297.7 347.7 L293.5 353.2 L286.6 358.7 L279.7 364.2 L274.2 368.4 L271.4 375.3 L268.7 382.2 L261.8 384.9 L254.9 382.7 L251.3 376.6 L254.3 368.9 L262.6 363.4 L272.8 357.9 L283.9 350.4Z" fill="#e9d3c7" stroke="#fdeadc" stroke-opacity="0.95" stroke-width="1.2" stroke-linejoin="round"/>
<path d="M313.1 261.4 L322.8 262.8 L331.1 268.3 L332.4 275.2 L331.1 280.7 L335.2 286.3 L333.8 291.8 L326.9 289.0 L320.0 286.3 L313.1 282.1 L307.6 278.0 L310.4 272.5 L312.6 266.9Z" fill="#e9d3c7" stroke="#fdeadc" stroke-opacity="0.95" stroke-width="1.2" stroke-linejoin="round"/>
<path d="M350.4 337.9 L355.9 338.7 L360.0 344.2 L361.4 349.7 L357.3 351.7 L353.1 348.9 L350.4 344.2Z" fill="#e9d3c7" stroke="#fdeadc" stroke-opacity="0.95" stroke-width="1.2" stroke-linejoin="round"/>
<path d="M413.9 329.0 L423.5 329.6 L424.9 335.9 L422.1 341.5 L419.4 345.6 L419.4 352.5 L416.6 358.0 L411.1 356.6 L408.3 351.1 L408.3 345.6 L411.1 341.5 L409.7 335.9Z" fill="#e9d3c7" stroke="#fdeadc" stroke-opacity="0.95" stroke-width="1.2" stroke-linejoin="round"/>
<path d="M409.7 373.2 L418.0 371.0 L426.3 373.2 L427.7 376.5 L422.1 380.9 L415.2 381.5 L409.2 378.7Z" fill="#e9d3c7" stroke="#fdeadc" stroke-opacity="0.95" stroke-width="1.2" stroke-linejoin="round"/>
<path d="M360.3 394.2 L363.3 391.2 L367.3 389.2 L371.3 389.2 L374.3 392.2 L378.3 395.2 L382.4 398.2 L386.4 400.2 L388.4 402.2 L382.4 404.2 L376.3 406.3 L370.3 408.3 L365.3 410.3 L363.3 405.2 L361.9 400.2Z" fill="#cc9a85" stroke="#fdeadc" stroke-opacity="0.95" stroke-width="1.2" stroke-linejoin="round"/>
<path d="M471.1 495.9 L480.8 494.5 L489.0 501.4 L483.5 505.6 L476.6 502.8Z" fill="#ecdcd4" stroke="#fdeadc" stroke-opacity="0.95" stroke-width="1.2" stroke-linejoin="round"/>
<path d="M450.4 508.9 L461.4 507.8 L472.5 509.7 L486.3 512.5 L490.4 516.6 L484.9 519.9 L478.0 518.0 L469.7 515.2 L458.7 513.8Z" fill="#ecdcd4" stroke="#fdeadc" stroke-opacity="0.95" stroke-width="1.2" stroke-linejoin="round"/>
<path d="M224.2 194.6 L226.6 197.1 L229.7 198.7 L232.7 196.2 L235.2 193.2 L234.6 190.0 L233.9 186.8 L233.8 183.5 L235.9 180.8 L238.0 178.0 L240.7 176.0 L243.8 174.7 L246.3 172.5 L248.9 170.8 L251.8 169.7 L257.3 170.3 L259.4 172.7 L261.4 175.2 L264.8 176.0 L268.3 176.6 L271.6 177.9 L275.2 178.0 L278.0 180.1 L280.8 182.1 L284.9 186.3 L290.4 187.7 L294.6 189.0 M229.7 198.7 L231.1 202.8 L233.6 205.3 L235.2 208.4 L236.1 211.4 L237.6 214.1 L239.4 216.6 L241.8 219.2 L243.5 222.2 L242.5 216.6 L244.6 219.3 L246.6 222.1 L249.4 223.4 L252.1 224.8 L253.5 229.0 L254.7 231.9 L256.3 234.5 L257.2 237.5 L259.0 240.0 L260.3 243.3 L260.4 246.9 M188.6 259.3 L191.8 261.0 L195.5 261.3 L199.7 262.0 L203.8 261.3 L208.0 261.0 L212.1 262.1 L215.8 262.9 L219.0 264.9 L223.1 267.6 L227.3 264.9 L230.8 265.4 L234.2 264.9 L237.8 263.8 L241.1 262.1 L243.4 259.5 L245.2 256.6 L247.8 254.9 L250.7 253.8 L253.6 252.6 L256.3 251.1 L260.4 246.9 L265.9 245.5 L269.3 247.1 L272.8 248.3 L276.2 248.4 L279.7 248.3 M203.8 261.3 L203.8 264.9 L204.9 268.3 L205.2 271.8 L207.2 274.6 L209.3 277.3 L212.8 277.8 L216.2 278.7 L219.6 279.5 L223.1 280.0 L224.3 282.9 L225.9 285.6 L227.3 289.6 L227.3 293.8 L230.0 296.1 L231.4 299.4 L233.7 303.2 L236.9 306.3 L239.7 310.4 L238.3 315.9 L242.5 315.9 L243.8 311.8 L249.4 310.4 L252.9 310.7 L256.3 311.8 L259.0 309.0 L260.8 312.3 L261.8 315.9 L260.4 321.4 L265.9 320.1 L270.1 318.7 M279.7 248.3 L276.5 250.7 L272.8 252.4 L271.3 255.6 L268.7 258.0 L267.5 262.2 L265.9 266.2 L266.5 270.4 L265.9 274.5 L267.3 278.5 L267.3 282.8 L267.5 287.0 L267.3 291.1 L268.1 294.6 L269.6 297.7 L271.4 300.7 L272.4 305.0 L274.2 309.0 L273.2 312.6 L271.4 315.9 L270.1 318.7 M279.7 248.3 L279.9 244.9 L279.7 241.4 L280.8 238.0 L281.1 234.5 L283.5 232.0 L285.2 229.0 L288.9 228.3 L292.1 226.2 L295.6 225.9 L299.0 224.8 L304.6 226.2 L308.7 229.0 L310.1 223.5 M279.7 248.3 L280.7 251.9 L282.5 255.2 L280.6 258.5 L279.7 262.1 L281.1 264.8 L282.5 267.6 L286.6 271.8 L289.1 269.4 L292.1 267.6 L295.3 268.3 L297.7 270.4 L300.3 272.7 L303.2 274.5 L305.9 278.7 L309.4 280.7 L312.8 282.8 L316.0 285.2 L319.7 286.9 L323.2 288.1 L326.6 289.7 L329.9 291.5 L333.5 292.5 L335.5 290.5 M270.1 318.7 L271.7 322.8 L272.8 327.0 L274.7 329.5 L275.6 332.5 L276.7 335.4 L278.3 338.0 L276.8 341.2 L274.2 343.5 L279.7 343.5 L283.9 342.9 L288.0 342.1 L293.5 343.5 L297.0 344.0 L300.4 344.9 L302.0 342.0 L304.8 343.5 L306.7 346.0 L309.1 348.0 L311.3 351.3 L312.1 355.1 L311.1 360.1 L310.2 363.1 L309.1 366.1 L308.2 369.4 L306.1 372.1 L304.1 377.1 L299.0 379.1 L295.0 381.2 L294.0 385.2 L293.6 388.9 L292.0 392.2 L291.6 395.2 L291.0 398.2 L291.5 401.4 L293.0 404.2 L295.5 406.4 L297.0 409.3 L302.0 412.3 L306.1 413.3 L309.1 410.3 L309.1 405.2 L306.1 401.2 L303.0 396.2 L301.6 393.3 L301.0 390.2 L300.0 385.2 L303.0 382.2 L307.1 381.2 L310.1 386.2 L314.1 388.2 L318.1 387.2 L322.1 389.2 L326.1 389.8 L330.2 387.2 L334.2 385.2 L338.2 383.2 L341.2 385.2 L343.2 390.2 L342.2 393.2 L347.2 392.2 L352.2 389.2 L355.2 393.2 L359.3 394.2 L363.3 391.2 L367.3 389.2 L371.3 389.2 L374.3 392.2 L378.3 395.2 L382.4 398.2 L386.4 400.2 L390.4 402.2 L393.4 404.2 L398.4 402.2 L400.0 406.3 L399.5 409.3 L399.4 412.3 L399.2 415.4 L400.4 418.3 L404.4 421.3 L408.5 420.3 L412.5 417.3 L414.5 412.3 L415.1 409.3 L415.5 406.3 L414.3 403.3 L413.5 400.2 L413.8 396.6 L412.5 393.2 L413.5 388.2 L417.5 385.2 L422.5 382.2 L426.5 379.1 L430.5 376.1 L433.3 374.4 L436.6 374.1 L440.5 375.2 L444.6 375.1 L440.6 371.1 L436.6 367.1 L432.5 364.1 L429.5 360.1 L428.5 356.1 L431.5 353.0 L436.6 350.0 L433.5 346.0 L430.5 342.0 L429.5 340.0 L428.5 336.3 L427.7 332.5 L427.6 328.6 M293.5 343.5 L291.0 345.7 L287.6 346.6 L285.2 349.0 L282.8 351.6 L279.5 352.9 L277.3 355.8 L274.2 357.3 L271.6 359.0 L268.3 359.3 L266.2 361.8 L263.2 362.8 L260.3 364.5 L257.7 366.6 L254.9 368.4 L253.6 371.2 L252.1 373.9 L250.7 376.6 L253.2 379.8 L254.9 383.5 L258.9 385.0 L263.2 385.5 L267.1 383.9 L271.4 383.5 L271.4 389.1 L268.1 390.8 L264.5 391.8 L259.0 393.2 L260.5 396.5 L260.4 400.1 L259.3 403.0 L257.6 405.6 L259.0 411.2 L255.9 411.6 L252.8 411.2 L249.8 412.1 L246.4 412.3 L242.9 412.1 L241.3 415.2 L238.7 417.6 L236.2 420.6 L233.2 423.1 L227.7 424.5 L229.1 421.7 L233.2 417.6 L235.3 413.7 L236.0 409.3 L235.3 405.9 L236.0 402.4 L233.3 400.9 L230.4 399.7 L226.9 398.5 L223.5 396.9 L222.2 392.8 L219.3 393.9 L216.6 395.5 L214.0 397.1 L211.1 398.3 L209.5 401.6 L208.4 405.2 L209.7 410.7 L211.1 414.8 L212.5 419.0 L213.0 423.2 L213.9 427.3 L212.6 431.3 L212.5 435.5 L208.4 439.7 L205.6 441.1 L203.4 444.5 L201.5 448.0 M122.8 402.4 L126.9 402.3 L131.1 402.4 L135.2 401.8 L139.4 401.6 L142.9 401.4 L146.3 402.4 L149.5 404.3 L153.2 405.2 L157.5 405.8 L161.4 407.9 L164.9 407.3 L168.3 406.6 L168.4 410.2 L169.7 413.5 L172.9 415.0 L175.2 417.6 L175.8 421.1 L176.6 424.5 L178.6 427.4 L180.8 430.0 L184.0 431.5 L186.3 434.2 L189.8 435.4 L193.2 436.9 L195.8 439.3 L198.7 441.1 L200.2 444.5 L201.5 448.0 L199.8 451.3 L198.7 454.9 L196.2 456.7 L193.2 457.6 L194.6 463.1 L198.7 464.5 L200.1 470.0 L202.1 470.0 L198.8 472.2 L193.4 473.3 L189.0 475.4 L186.8 479.8 L189.0 483.1 L192.3 485.7 L197.7 485.2 L197.7 483.1 L194.5 484.1 L191.2 484.2 L189.0 487.4 L185.7 490.7 L180.3 491.8 L182.5 495.0 L186.8 497.2 L189.0 501.6 L186.8 505.9 L181.4 504.8 L177.0 504.8 L178.1 509.2 L175.9 513.6 L172.7 516.8 L168.3 513.6 L164.0 514.6 L160.7 516.8 M200.1 470.0 L202.8 474.2 L205.5 476.3 L208.4 478.3 L211.2 479.6 L213.8 481.2 L216.6 482.5 L220.2 483.4 L223.5 485.2 L226.7 485.7 L230.0 485.7 L233.2 485.2 L237.4 484.7 L241.5 483.8 L243.4 487.0 L244.3 490.7 L245.6 494.3 L248.4 493.2 L251.2 492.1 L255.3 488.0 L257.5 485.7 L260.0 483.8 L262.8 480.4 L266.9 479.3 L271.1 479.0 L275.2 483.2 L278.5 484.6 L282.1 484.5 L286.5 483.9 L290.4 481.8 L292.8 479.8 L295.9 479.0 L298.4 480.9 L301.4 481.8 L305.5 482.4 L309.7 482.6 L312.4 481.2 L315.1 479.9 L318.0 479.0 L322.1 480.0 L326.3 480.4 L330.5 481.0 L334.6 481.8 L337.2 483.4 L340.0 484.8 L342.8 485.9 L344.7 488.4 L345.6 491.4 M371.3 423.3 L372.3 428.3 L376.3 430.3 L378.8 432.3 L381.3 434.4 L385.4 438.4 L384.4 442.4 L380.3 446.4 L376.3 450.4 L372.3 454.4 L367.3 457.4 L362.3 459.5 L359.3 462.5 L358.3 467.5 L355.2 471.5 L354.6 475.7 L354.2 479.9 L349.9 483.5 L349.0 487.9 L346.3 490.5 L344.6 494.1 L345.5 499.3 L346.3 504.6 L347.2 509.9 L346.3 515.1 L342.8 517.8 L343.7 523.0 L346.3 523.9 L347.2 528.3 L348.1 532.7 L349.9 536.2 L347.2 538.0 L343.7 540.6 L341.4 545.0 L340.7 549.4 L342.0 553.8 M371.3 423.3 L374.8 422.8 L378.3 422.3 L381.3 423.0 L384.4 423.3 L387.4 423.1 L390.4 422.3 L393.4 421.7 L396.4 422.3 L400.4 420.3 L404.4 421.3 M412.5 417.3 L416.5 420.3 L420.5 424.3 L424.5 428.3 L428.5 431.3 L430.5 436.4 L431.9 439.3 L432.5 442.4 L436.6 446.4 L438.6 449.4 L434.5 453.4 L431.5 457.4 L428.5 460.5 L424.5 462.5 L420.5 465.5 L417.5 470.5 L416.7 473.5 L416.5 476.5 L415.5 479.9 L415.7 480.0 L413.1 485.3 L410.5 488.8 L406.1 491.4 L400.8 492.3 L395.5 494.1 L392.0 497.6 L390.3 502.0 L390.0 505.1 L390.3 508.1 L391.1 513.4 L392.9 517.8 L395.5 521.3 L398.2 522.2 L397.3 525.7 L393.8 524.8 L389.4 523.9 L385.9 522.2 L381.5 521.3 L381.5 524.8 L382.4 530.1 L385.0 535.3 L386.4 540.6 L385.8 543.7 L386.4 546.7 L385.0 551.1 L381.5 553.8 L378.0 555.5 L376.2 559.9 L373.6 563.4 L370.9 566.1 L369.2 571.3 L368.3 575.7 L363.9 576.6 L359.5 576.3 L357.2 572.2 L355.1 566.9 L352.1 564.7 L349.9 561.7 L346.3 557.3 L342.0 553.8 M339.3 555.1 L334.3 552.1 L331.3 547.1 L330.7 544.1 L331.3 541.1 L331.1 538.0 L330.3 535.1 L326.3 531.0 L323.3 531.3 L320.3 532.0 L317.0 532.4 L314.2 534.1 L311.1 533.9 L308.2 533.0 L303.2 531.0 L298.2 528.0 L295.5 526.3 L293.2 524.0 L292.3 527.4 L292.2 531.0 L290.2 536.1 L285.1 539.1 L282.1 543.1 L281.1 548.1 L280.3 551.1 L280.1 554.1 L278.1 559.1 L275.1 564.2 L275.1 568.2 L275.9 571.1 L276.1 574.2 L275.3 577.2 L275.1 580.2 L273.1 584.2 L275.1 588.3 L272.1 592.3 L272.1 595.3 L271.7 598.3 L271.0 601.3 L271.1 604.3 L270.7 607.5 L269.1 610.3 L274.1 612.4 L275.1 616.4 L275.5 619.4 L275.1 622.4 L278.5 623.5 L282.1 623.4 L285.1 623.7 L288.1 624.4 L293.2 622.4 L298.2 620.4 L301.1 619.0 L304.2 618.4 L307.4 617.9 L310.2 616.4 L314.2 614.4 L315.2 609.3 L319.3 608.3 L322.4 607.5 L325.3 606.3 L330.3 604.3 L333.3 601.3 L335.3 597.3 L339.3 596.3 L344.4 597.3 L347.4 594.3 L352.4 593.3 L356.4 591.3 L361.4 588.3 L366.4 586.3 L369.5 582.2 L370.5 578.2 L374.5 574.2 M368.3 575.7 L372.7 574.9 L376.2 575.7 L379.7 573.1 L383.1 572.5 L385.9 570.5 L388.5 566.1 L390.3 562.6 L392.0 559.0 L393.8 559.9 L397.3 563.4 L401.7 562.6 L406.1 559.9 L406.9 555.5 L410.5 552.0 L413.1 549.4 L415.7 545.9 L418.4 545.0 L421.0 544.1 L424.5 547.6 L428.9 550.3 L434.2 551.1 L437.7 549.4 L441.2 545.9 L445.6 543.2 M275.1 564.2 L270.1 561.2 L267.1 565.2 L263.0 568.2 L260.0 571.2 L257.0 575.2 L253.0 578.2 L250.0 579.2 L248.9 581.1 L246.7 586.5 L242.9 587.3 L239.1 587.6 L235.3 586.5 L231.5 585.4 L229.3 589.8 L230.4 595.2 L227.1 596.4 L223.8 597.4 L220.6 598.0 L217.3 598.5 L211.9 600.7 L208.7 602.4 L205.3 603.9 L202.5 605.3 L199.9 607.2 L197.1 609.4 L198.8 614.8 L202.1 618.1 L201.0 622.4 L197.7 626.8 L193.4 630.1 L189.0 628.3 L184.6 627.2 M193.4 630.1 L197.1 634.4 L197.7 637.7 L198.4 640.9 L196.6 646.4 L193.4 649.0 M415.5 406.3 L418.9 405.2 L422.5 405.2 L425.6 404.4 L428.5 403.2 L432.5 405.2 L436.6 407.3 L439.0 410.3 L444.1 408.3 L449.1 407.3 L454.1 408.3 L457.0 407.0 L460.1 406.3 L462.9 404.4 L466.1 403.3 L468.6 401.3 L471.2 399.3 L476.2 400.3 L481.2 402.3 L485.2 406.3 L488.2 409.3 L492.2 405.3 L497.3 403.3 L501.3 401.3 L504.3 396.3 L505.3 391.3 L509.3 388.3 L514.3 385.2 L518.3 384.2 M529.4 357.1 L527.4 362.2 L523.4 365.2 L520.3 369.2 L522.4 374.2 L525.4 378.2 L521.3 381.2 L518.3 384.2 M518.3 384.2 L521.3 389.3 L523.4 394.3 L522.4 399.3 L520.3 404.3 L517.3 409.3 L514.3 413.4 L510.3 416.4 L506.3 418.4 L503.4 419.9 L501.3 422.4 L496.3 424.4 L491.2 426.4 L486.2 429.4 L481.2 431.4 L477.2 432.4 L473.2 436.4 L474.2 440.5 L479.2 442.5 L484.2 445.5 L489.2 447.5 L491.2 452.5 L492.4 455.6 L494.2 458.5 L495.4 461.7 L497.3 464.5 L500.3 469.6 L502.9 472.6 L506.3 474.6 L510.3 477.6 L508.9 481.8 M431.5 457.4 L436.6 460.5 L439.5 459.5 L442.6 459.5 L446.3 459.3 L450.0 458.5 L446.5 458.5 L443.0 459.0 L439.5 459.7 L436.0 459.5 L439.1 459.5 L442.0 458.5 L445.1 459.0 L448.1 458.5 L451.1 459.0 L454.1 459.5 L454.6 462.6 L455.1 465.6 L454.1 469.6 L457.0 468.7 L460.1 468.6 L463.0 467.3 L466.1 467.6 L471.2 470.6 L475.2 469.6 L477.2 464.5 L477.2 459.5 L480.2 457.5 L485.2 459.5 L490.2 462.5 L494.2 465.0 L497.3 464.5 M212.8 700.4 L215.1 703.0 L218.3 704.5 L221.4 706.1 L223.8 708.7 L226.5 710.7 L228.0 713.7 L230.0 716.3 L233.0 719.0 L236.9 720.4 L240.7 722.8 L243.8 725.9 L246.6 729.2 M246.6 729.2 L250.7 728.7 L254.3 728.7 L257.6 727.3 L262.0 726.6 L265.9 724.5 L270.2 723.7 L274.2 721.8 L276.5 718.6 L279.7 716.3 L275.5 712.1 L274.2 706.6 L276.4 703.9 L278.3 701.1 L281.7 699.6 L285.2 698.3 L288.6 700.4 L292.1 702.5 L296.2 698.3 L297.6 692.8 L301.8 692.8 L305.1 691.5 L308.7 691.4 L312.0 689.6 L315.6 688.7 L319.0 687.2 L322.5 685.9 L325.8 684.1 L329.4 683.1 L332.8 681.7 L336.3 680.4 L340.4 679.0 M246.6 729.2 L247.9 734.2 L250.5 736.5 L253.5 738.3 L254.3 741.9 L256.2 745.2 L257.4 749.3 L257.6 753.5 L258.3 757.2 L260.4 760.4 L263.4 761.4 L265.9 763.2 L267.0 766.7 L268.6 770.1 L269.9 773.4 L270.0 777.0 L268.9 780.4 L268.6 783.9 L268.5 788.1 L267.3 792.2 L266.3 796.2 L265.9 800.4 L266.2 804.0 L267.3 807.4 L268.6 810.1 M274.2 622.4 L271.0 623.1 L267.6 622.7 L264.5 623.8 L263.5 627.0 L264.0 630.3 L263.1 633.5 L263.0 636.8 L263.8 639.9 L264.5 643.1 L261.3 645.2 L257.6 645.9 L256.9 649.1 L258.0 652.3 L257.6 655.5 L259.3 658.2 L260.4 661.1 L261.2 665.2 L261.7 669.3 L263.0 672.8 L264.5 676.2 L267.8 675.0 L271.4 674.9 L273.1 672.2 L274.2 669.3 L274.0 665.7 L272.8 662.4 L269.4 662.4 L265.9 662.4 L261.7 665.2 L262.2 669.0 L263.4 672.6 L264.5 676.2 L267.7 676.7 L271.0 675.7 L274.2 676.2 L278.2 674.6 L282.4 673.5 L285.2 674.8 L288.0 676.2 L290.6 678.6 L292.1 681.8 L292.8 685.5 L294.9 688.7 L297.6 692.8 M524.5 336.2 L527.9 337.3 L531.5 337.6 L534.9 336.4 L538.4 336.2 L542.1 334.4 L546.2 333.4 M569.0 347.9 L568.5 351.1 L568.5 354.3 L567.6 359.9 L566.6 363.3 L566.2 366.8 M569.0 372.4 L573.2 368.2 L576.5 366.9 L580.1 366.8 L583.8 367.7 L587.1 369.6 L590.5 370.5 L594.0 371.0 L597.7 371.9 L601.0 373.8 L603.5 371.9 L606.6 371.0 L609.3 368.9 L612.1 366.8 L617.7 365.4 L621.2 366.0 L624.6 366.8 L628.8 371.0 L631.3 373.5 L633.0 376.6 L635.2 379.2 L637.2 382.1 L638.6 387.7 L634.4 390.5 L630.2 391.9 M608.4 318.5 L609.7 322.3 L612.2 324.3 L614.8 326.1 L618.0 327.2 L621.1 328.7 L621.2 332.0 L622.4 335.0 L622.1 338.3 L621.1 341.4 L625.6 341.2 L630.0 340.9 L633.7 339.9 L637.6 339.3 L641.0 339.0 L644.4 339.7 L647.8 338.8 L652.3 338.8 L656.6 340.1 L659.8 338.8 L663.0 337.6 L665.2 334.1 L668.1 331.2 L670.4 328.5 L673.1 326.1 L677.2 325.6 L680.8 323.6 L684.5 322.1 L688.4 321.1 L691.4 320.4 L694.3 319.2 L697.3 318.5 L700.3 318.0 L703.1 316.8 L706.1 316.0 L710.1 314.8 L714.3 314.7 L712.5 319.8 L711.2 324.9 L713.8 329.9 L715.0 332.5 L711.9 333.3 L708.7 333.8 L705.6 335.2 L702.3 336.3 L699.5 337.8 L697.3 340.1 L696.3 343.2 L695.5 346.4 M695.5 346.4 L692.6 345.7 L689.6 345.2 L686.6 347.4 L683.3 349.0 L680.4 351.0 L676.9 351.5 L674.2 353.9 L671.9 356.6 L670.4 360.0 L668.1 362.9 L666.5 365.7 L664.3 368.0 L660.5 371.8 L656.6 375.6 L652.8 379.4 L654.3 382.5 L655.4 385.8 L658.1 383.8 L661.0 382.1 L663.0 379.4 L666.8 378.7 L670.6 378.2 L674.3 379.6 L678.2 379.4 L682.0 375.6 L683.3 380.7 M655.4 385.8 L654.2 389.4 L651.6 392.1 L650.9 395.5 L649.0 398.5 L647.9 401.7 L646.5 404.8 L645.6 407.9 L645.2 411.2 L644.0 416.2 L649.0 417.5 L654.1 419.5 M644.0 416.2 L641.7 414.0 L640.2 411.4 L638.9 408.6 L637.3 405.8 L637.0 402.4 L635.1 399.7 L633.2 397.2 L631.3 394.7 L627.5 397.2 L626.5 400.9 L626.2 404.8 L626.8 408.6 L626.2 412.4 L626.4 415.8 L626.1 419.2 L626.9 422.6 L627.2 426.0 L626.9 429.4 L628.0 432.7 L627.9 436.2 L629.2 439.5 L629.5 442.9 L630.9 446.1 L630.3 449.7 L631.3 453.0 M626.2 412.4 L622.4 408.6 L618.6 412.4" fill="none" stroke="#808080" stroke-width="1.8" stroke-linejoin="round" stroke-linecap="round"/>
<path d="M154.4 85.5 L157.9 81.4 L163.5 77.3 L169.0 70.4 L175.9 67.6 L181.4 67.6 L185.5 63.5 L191.1 63.5 L198.0 61.5 L206.2 57.9 L213.1 60.7 L220.0 57.9 L224.2 62.1 L229.7 69.0 L236.6 73.1 L243.5 77.3 L250.4 81.4 L255.9 88.3 L258.7 93.8 L265.6 96.6 L271.1 98.0 L272.5 103.5 L279.4 104.9 L286.3 103.5 L294.6 96.6 L302.8 93.8 L311.1 93.8 L315.3 89.7 L322.2 92.4 L330.4 93.8 L334.6 96.6 L339.3 102.1 L338.2 111.8 L338.2 120.0 L333.2 125.6 L330.4 131.1 L323.5 138.0 L320.8 144.9 L312.5 146.3 L305.6 150.4 L307.0 155.9 L309.7 160.1 L307.0 162.8 L312.5 167.0 L316.6 171.1 L318.0 178.0 L322.2 183.5 L322.2 187.7 L315.3 190.4 L309.7 194.0 L305.6 190.4 L304.2 186.3 L297.3 184.9 L294.6 189.0 L295.9 194.6 L300.1 200.1 L302.8 208.4 L305.6 216.6 L308.4 223.5 L312.5 220.8 L316.6 227.7 L323.5 230.4 L330.4 233.2 L338.7 238.7 L344.9 244.9 L353.1 249.0 L358.1 253.1 L353.1 258.7 L347.6 264.2 L343.5 271.1 L340.7 278.0 L339.3 284.9 L335.2 290.4 L340.7 294.5 L346.2 297.3 L353.1 300.1 L360.0 304.2 L365.6 309.7 L372.5 313.9 L379.4 316.6 L386.3 318.0 L393.2 322.1 L398.7 323.5 L400.1 326.3 L407.0 329.0 L412.5 330.4 L418.0 329.0 L423.5 330.4 L427.7 330.4 L431.8 327.7 L437.3 330.4 L442.8 333.2 L445.6 338.7 L452.5 342.8 L459.4 345.6 L467.7 345.1 L473.2 349.7 L481.5 351.1 L489.8 353.3 L498.1 353.9 L500.9 352.9 L502.3 355.7 L509.2 356.3 L516.2 355.1 L521.7 355.7 L525.9 354.3 L528.7 355.7 L529.5 351.5 L527.3 347.4 L525.9 341.8 L524.5 336.2 L525.9 330.7 L527.3 323.7 L527.3 315.4 L531.5 314.0 L537.0 311.2 L542.6 311.2 L545.4 315.4 L544.5 322.3 L545.4 329.3 L546.2 333.4 L542.6 336.2 L546.8 340.4 L552.3 344.6 L559.3 345.1 L564.8 347.4 L569.0 347.9 L574.6 346.0 L581.5 343.7 L588.5 346.8 L596.8 346.5 L605.2 346.0 L613.5 344.6 L621.9 343.2 L622.4 336.2 L620.5 330.7 L616.3 327.9 L610.7 326.5 L609.3 319.5 L608.4 318.5 L611.0 318.0 L616.0 319.8 L622.4 319.8 L628.7 318.0 L635.1 314.7 L638.9 309.6 L644.0 307.1 L649.0 303.3 L651.6 298.2 L656.6 296.4 L664.3 295.7 L668.1 290.6 L673.1 284.3 L678.2 280.5 L682.0 277.4 L685.8 281.7 L692.2 281.7 L698.5 284.3 L702.3 285.5 L704.9 280.5 L709.9 277.4 L716.3 274.6 L720.1 276.6 L722.6 280.5 L720.1 284.3 L718.8 288.1 L723.9 286.8 L727.7 285.5 L729.0 290.6 L729.0 295.7 L725.2 299.5 L722.6 303.3 L727.7 302.0 L734.1 302.8 L740.4 303.8 L746.7 306.3 L748.8 310.9 L747.3 316.5 L742.9 319.0 L739.1 322.3 L736.6 326.1 L739.1 331.2 L742.9 337.6 L739.1 336.3 L734.1 332.5 L730.2 330.7 L725.2 332.5 L720.1 335.0 L715.0 337.6 L711.2 340.1 L707.4 343.4 L702.3 346.4 L697.3 349.0 L695.5 346.4 L694.7 351.5 L694.0 357.9 L694.7 364.2 L692.9 370.6 L690.9 375.6 L687.1 379.4 L683.3 380.7 L684.6 387.1 L684.6 393.4 L682.0 399.7 L679.5 406.1 L675.7 412.4 L673.1 418.8 L671.1 423.1 L665.5 421.3 L660.5 420.1 L654.1 419.5 L653.3 425.1 L654.1 431.5 L652.8 439.1 L650.8 444.9 L647.8 445.4 L646.5 453.0 L647.8 459.9 L648.3 461.4 L645.5 467.0 L641.3 471.7 L638.6 468.4 L634.4 471.1 L633.0 464.2 L631.6 457.2 L630.2 450.3 L628.8 444.7 L627.4 437.8 L626.9 430.8 L626.0 425.2 L621.9 428.0 L617.7 433.6 L614.9 439.2 L613.5 444.7 L609.3 446.1 L605.2 441.9 L603.8 436.4 L601.0 430.8 L599.6 425.2 L602.4 419.7 L606.6 416.3 L613.5 414.1 L619.1 411.3 L624.6 407.2 L626.0 401.6 L627.4 396.0 L630.2 391.9 L624.6 389.1 L616.3 388.5 L608.0 388.2 L599.6 387.7 L591.3 388.2 L582.9 387.7 L576.0 386.9 L569.0 386.3 L567.6 379.3 L569.0 372.4 L566.2 366.8 L564.8 361.3 L563.4 366.8 L559.3 365.4 L555.1 361.3 L550.9 359.9 L546.8 358.5 L542.6 357.1 L537.0 357.1 L531.5 361.3 L527.3 366.8 L528.7 371.0 L534.2 375.2 L538.4 379.3 L542.6 383.5 L548.2 386.3 L542.6 388.5 L537.0 389.1 L532.9 394.6 L528.7 397.4 L525.9 401.6 L530.1 407.2 L535.6 409.9 L539.8 412.7 L541.2 419.7 L539.8 426.6 L542.6 432.2 L545.4 439.2 L548.2 440.5 L546.8 447.5 L546.8 454.5 L548.2 461.4 L549.5 469.7 L550.9 480.0 L545.6 482.1 L538.7 482.1 L531.8 481.3 L526.3 478.0 L527.7 469.7 L523.5 473.8 L516.6 478.0 L508.4 482.1 L501.5 487.6 L497.3 493.1 L498.7 500.0 L501.5 502.8 L497.3 504.2 L494.6 511.1 L490.4 516.6 L484.9 520.7 L478.0 523.5 L469.7 527.6 L461.4 531.8 L453.2 538.7 L446.3 547.0 L440.7 553.9 L433.8 562.1 L425.6 570.4 L417.3 577.3 L409.0 582.8 L402.1 588.4 L395.2 593.9 L389.7 599.4 L386.9 606.3 L381.4 610.4 L371.7 613.2 L363.5 617.4 L356.6 622.9 L355.6 628.8 L351.4 624.4 L344.5 626.6 L340.4 631.5 L337.6 637.6 L336.3 645.9 L336.3 654.2 L337.6 662.4 L338.5 670.7 L339.0 677.6 L340.4 683.1 L341.2 690.0 L340.4 698.3 L337.6 705.2 L333.5 712.1 L329.9 717.6 L328.0 723.2 L329.4 728.7 L328.8 737.0 L329.9 745.2 L330.7 752.1 L330.7 759.9 L322.5 760.4 L317.8 764.0 L315.0 768.7 L311.4 774.2 L308.7 778.9 L311.4 782.5 L317.8 783.3 L320.5 787.2 L318.3 784.4 L311.4 784.4 L304.5 785.3 L297.6 788.0 L292.1 792.2 L290.7 797.7 L290.2 803.2 L286.6 807.4 L281.1 810.9 L274.2 813.4 L268.6 810.1 L263.9 806.7 L259.7 802.5 L255.6 797.0 L251.4 790.1 L248.1 783.2 L245.9 777.7 L244.5 770.8 L243.2 763.9 L240.4 755.6 L237.6 747.3 L234.9 740.4 L232.1 734.9 L229.4 729.4 L225.2 723.9 L221.1 718.3 L218.3 712.8 L215.6 707.3 L212.8 700.4 L210.0 694.9 L208.7 688.0 L207.3 681.1 L205.9 674.2 L203.1 667.3 L200.4 660.4 L196.2 653.5 L192.1 648.0 L189.3 642.4 L186.6 635.5 L183.8 630.0 L182.4 623.1 L179.7 614.8 L176.9 606.6 L174.2 598.3 L171.4 590.0 L169.7 583.2 L167.5 572.2 L165.6 563.9 L164.2 555.6 L165.6 550.1 L162.8 547.3 L161.4 539.0 L160.1 530.8 L159.2 522.5 L161.4 517.0 L164.2 512.8 L162.8 505.9 L161.4 499.0 L160.1 492.1 L158.7 485.2 L157.3 478.3 L155.9 471.4 L158.7 467.3 L164.2 464.0 L161.4 464.0 L155.9 462.3 L151.8 464.0 L150.4 471.4 L151.2 479.7 L149.0 486.6 L143.5 492.7 L136.6 497.1 L129.7 499.9 L122.8 501.8 L115.9 503.2 L107.6 499.0 L99.3 493.5 L92.4 486.6 L85.5 479.7 L78.6 472.8 L73.1 467.3 L70.9 461.8 L74.5 459.0 L80.0 461.8 L85.5 459.0 L92.4 457.6 L99.3 454.9 L104.9 449.3 L107.6 443.8 L104.9 443.8 L98.0 448.0 L89.7 450.2 L81.4 449.3 L73.1 446.6 L66.2 442.4 L61.5 436.9 L59.9 431.4 L53.8 430.0 L52.4 427.3 L53.8 421.7 L59.3 419.0 L64.8 419.0 L66.2 412.1 L71.7 412.1 L77.3 413.5 L84.2 412.1 L91.1 412.6 L98.0 410.7 L103.5 409.3 L109.0 411.5 L113.1 409.9 L118.7 407.1 L122.8 402.4 L120.0 396.9 L117.3 390.0 L113.1 384.9 L111.8 378.0 L107.6 372.5 L102.1 369.7 L98.0 365.6 L99.3 358.7 L98.0 352.4 L91.1 351.3 L85.5 349.0 L82.8 343.5 L85.5 338.0 L89.7 331.1 L93.8 325.6 L98.0 320.1 L102.1 315.4 L106.2 313.2 L110.4 315.9 L113.1 321.4 L117.3 320.1 L125.6 318.7 L133.8 317.3 L140.7 314.5 L143.5 309.0 L147.6 303.5 L151.8 296.6 L157.3 291.1 L164.2 285.6 L169.7 280.0 L172.5 273.1 L175.2 266.2 L179.4 259.3 L186.3 258.0 L190.4 256.6 L189.0 249.7 L193.2 244.2 L197.3 238.6 L202.8 234.5 L205.6 230.4 L202.8 227.6 L205.1 220.7 L204.2 215.2 L205.6 208.3 L209.0 204.2 L215.9 201.5 L222.8 198.7 L224.2 194.6 L220.0 193.2 L213.1 191.8 L206.2 189.0 L206.2 182.1 L202.1 180.8 L195.2 176.6 L189.7 172.5 L182.8 169.7 L181.4 164.2 L180.9 155.9 L178.6 147.6 L176.7 140.7 L177.3 133.8 L181.4 129.7 L185.5 125.6 L191.1 121.4 L188.3 115.9 L182.8 111.8 L184.2 106.2 L180.0 102.1 L173.1 98.0 L167.6 93.8 L159.3 92.4 L155.2 89.7Z" fill="none" stroke="#808080" stroke-width="2" stroke-linejoin="round"/>
<path d="M546.7 453.1 L548.2 458.1 L549.7 463.2 L550.4 467.2 L550.4 472.2 L549.7 476.2 L551.0 480.2 L548.2 481.7 L545.2 482.2 L542.2 481.7 L539.1 482.2 L536.1 482.7 L533.1 481.7 L530.1 481.2 L528.6 478.2 L530.1 475.7 L533.1 474.2 L536.1 473.2 L538.6 470.2 L539.6 466.7 L542.2 464.2 L544.2 460.2 L545.2 456.1Z" fill="#8c8c8c" stroke="#808080" stroke-width="1"/>
<path d="M52.4 427.3 L53.8 421.7 L59.3 419.0 L64.8 419.0 L65.4 423.1 L60.7 427.3 L57.9 428.6 L53.8 430.6Z" fill="#8c8c8c" stroke="#808080" stroke-width="1"/>
<path d="M643.1 678.1 L645.6 685.1 L644.6 692.6 L642.6 697.6 L642.6 705.1 L642.1 712.7 L638.9 716.4 L638.1 722.7 L637.1 730.2 L634.6 734.7 L632.6 730.2 L632.1 722.7 L633.8 716.4 L636.3 711.4 L635.6 703.9 L635.1 696.4 L638.1 691.4 L639.6 683.9 L641.4 679.6Z" fill="#c8c8c8" stroke="#808080" stroke-width="1.6" stroke-linejoin="round"/>
<path d="M643.9 712.7 L645.6 716.4 L645.1 722.7 L643.1 720.2Z" fill="#c8c8c8" stroke="#808080" stroke-width="1.6" stroke-linejoin="round"/>
<path d="M628.1 750.2 L630.8 747.2 L633.8 746.5 L634.6 751.5 L632.6 754.7 L628.8 754.0Z" fill="#c8c8c8" stroke="#808080" stroke-width="1.6" stroke-linejoin="round"/>
<circle cx="658.1" cy="648.8" r="1" fill="#808080"/>
<circle cx="663.4" cy="712.2" r="1.1" fill="#808080"/>
<circle cx="625.1" cy="729.4" r="1.1" fill="#808080"/>
<circle cx="638.1" cy="786.5" r="1.6" fill="#808080"/>
<circle cx="647.1" cy="808.3" r="2" fill="#808080"/>
<circle cx="655.9" cy="811.6" r="2" fill="#808080"/>
<circle cx="658.4" cy="802.8" r="1" fill="#808080"/>
<circle cx="158.4" cy="753.4" r="1" fill="#808080"/>
<circle cx="181.9" cy="747.9" r="1" fill="#808080"/>
<circle cx="168" cy="808" r="1" fill="#808080"/>
</svg></body></html>
